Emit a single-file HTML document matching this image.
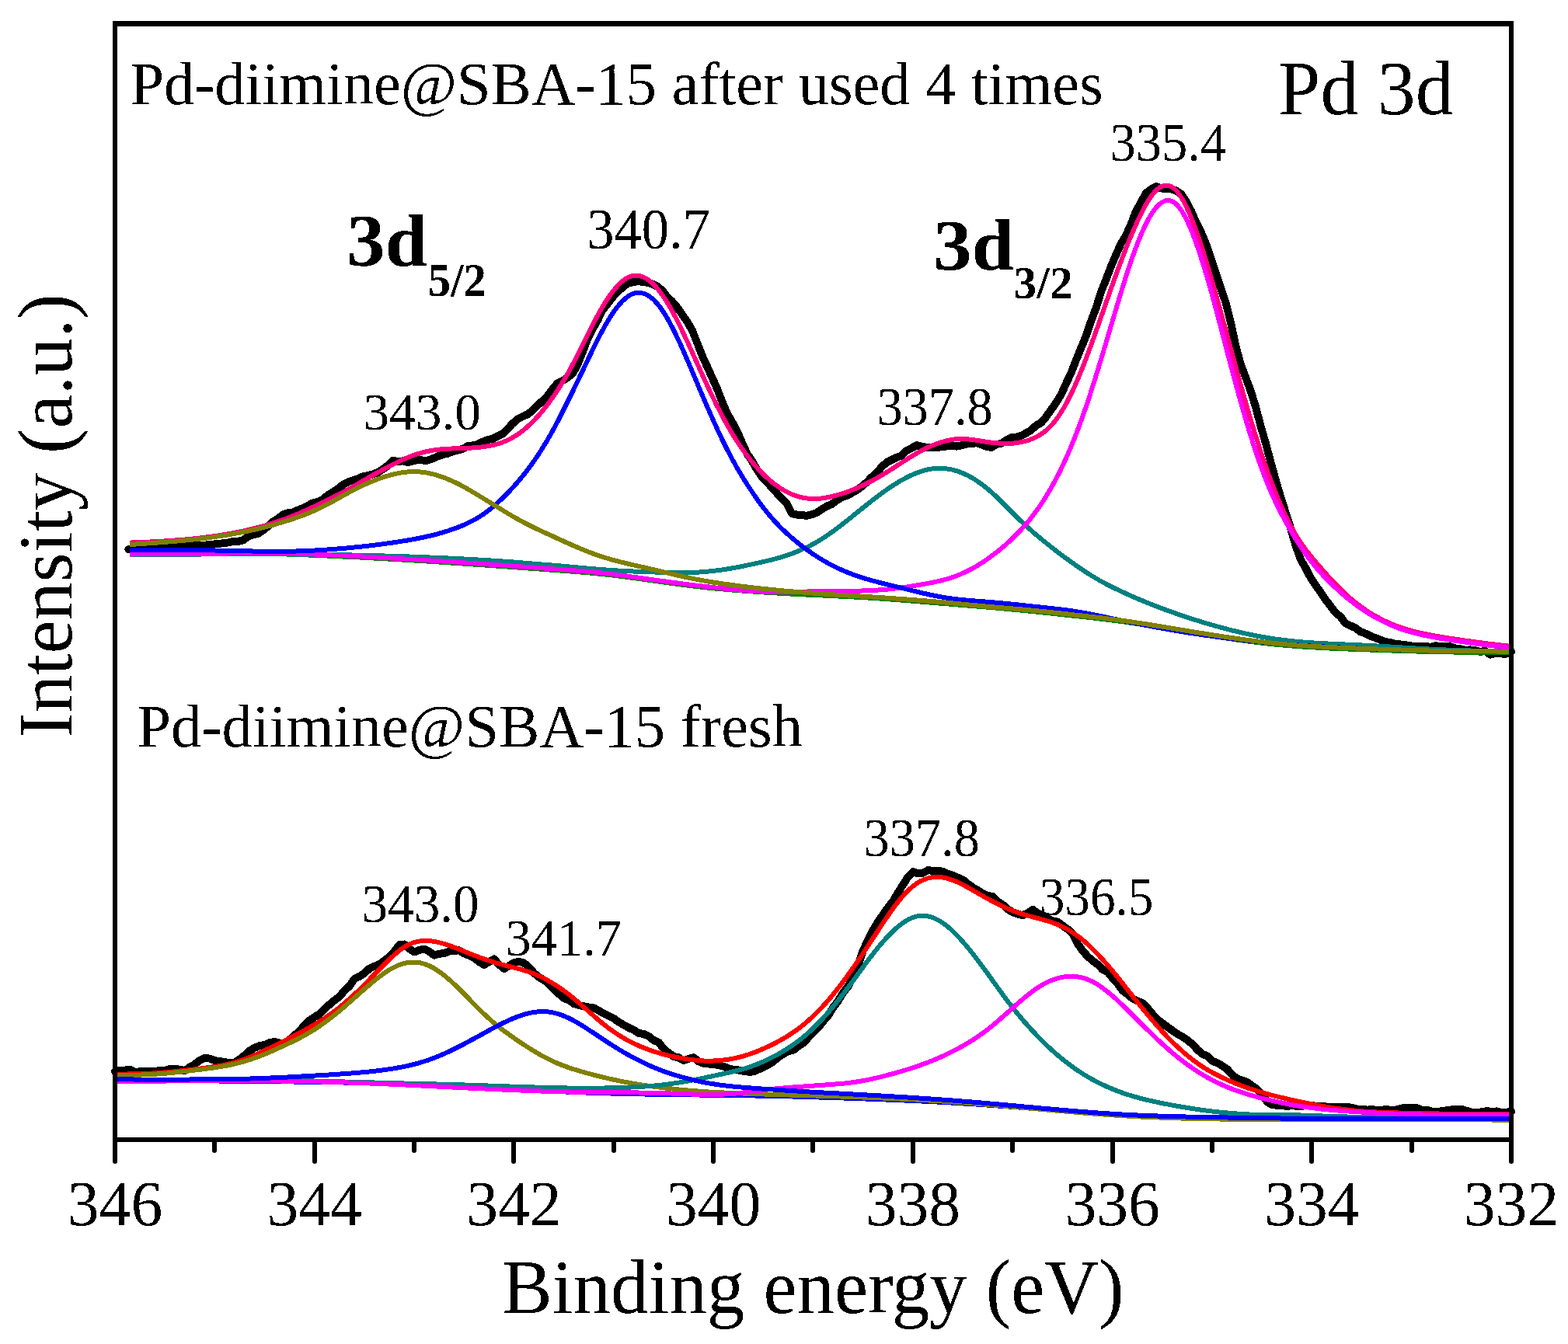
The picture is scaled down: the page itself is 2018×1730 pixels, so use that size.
<!DOCTYPE html>
<html><head><meta charset="utf-8"><title>Pd 3d XPS spectra</title>
<style>
html,body{margin:0;padding:0;background:#fff;}
body{width:2018px;height:1730px;overflow:hidden;}
svg{display:block;}
text{font-family:"Liberation Serif","Times New Roman",serif;fill:#000;}
</style></head><body>
<svg xmlns="http://www.w3.org/2000/svg" width="2018" height="1730" viewBox="0 0 2018 1730">
<defs><filter id="bin" x="0" y="0" width="1" height="1" filterUnits="objectBoundingBox" color-interpolation-filters="sRGB"><feComponentTransfer><feFuncA type="discrete" tableValues="0 1"/></feComponentTransfer></filter></defs>
<rect width="2018" height="1730" fill="#fff"/>
<g fill="none" stroke-linejoin="round" stroke-linecap="round" shape-rendering="crispEdges">
<polyline points="165.3,707.2 171.7,707.0 178.1,706.2 184.6,704.6 191.0,705.6 197.4,704.7 203.8,703.5 210.2,703.6 216.7,703.0 223.1,702.9 229.5,702.6 235.9,702.9 242.3,701.8 248.8,702.0 255.2,701.5 261.6,701.9 268.0,701.2 274.4,700.6 280.9,699.9 287.3,699.3 293.7,698.4 300.1,697.0 306.5,696.9 313.0,695.3 319.4,690.4 325.8,688.4 332.2,687.0 338.6,682.6 345.1,677.3 351.5,671.5 357.9,667.4 364.3,662.4 370.7,660.2 377.2,659.7 383.6,656.5 390.0,654.1 396.4,650.7 402.8,647.4 409.3,646.0 415.7,642.7 422.1,637.3 428.5,633.3 434.9,629.2 441.4,624.0 447.8,620.4 454.2,618.4 460.6,616.1 467.0,613.4 473.5,612.1 479.9,610.4 486.3,608.1 492.7,603.9 499.1,599.4 505.6,593.0 512.0,593.9 518.4,593.4 524.8,595.1 531.2,593.6 537.7,592.1 544.1,592.5 550.5,592.5 556.9,590.3 563.3,587.4 569.8,585.2 576.2,583.7 582.6,581.1 589.0,579.5 595.4,577.9 601.9,574.2 608.3,573.4 614.7,571.9 621.1,568.7 627.5,566.2 634.0,564.8 640.4,561.6 646.8,558.4 653.2,552.1 659.6,545.3 666.1,539.6 672.5,536.2 678.9,533.3 685.3,528.5 691.7,522.2 698.2,515.9 704.6,509.5 711.0,500.9 717.4,493.3 723.8,490.2 730.3,486.2 736.7,481.1 743.1,470.0 749.5,453.7 755.9,437.5 762.4,423.8 768.8,412.9 775.2,399.5 781.6,391.4 788.0,383.2 794.5,375.3 800.9,370.5 807.3,365.1 813.7,363.5 820.1,362.1 826.6,362.7 833.0,363.7 839.4,365.4 845.8,368.6 852.2,373.8 858.7,382.1 865.1,388.1 871.5,395.6 877.9,404.9 884.3,414.0 890.8,425.2 897.2,441.2 903.6,457.6 910.0,471.6 916.4,485.8 922.9,500.4 929.3,516.7 935.7,531.7 942.1,542.9 948.5,554.8 955.0,569.9 961.4,583.9 967.8,593.3 974.2,604.5 980.6,614.1 987.1,620.6 993.5,627.8 999.9,634.9 1006.3,641.8 1012.7,648.2 1019.2,661.2 1025.6,662.5 1032.0,663.1 1038.4,663.8 1044.8,662.2 1051.3,659.9 1057.7,655.5 1064.1,651.6 1070.5,649.1 1076.9,644.0 1083.4,640.2 1089.8,638.0 1096.2,634.6 1102.6,631.0 1109.0,626.2 1115.5,620.7 1121.9,614.1 1128.3,608.8 1134.7,600.9 1141.1,595.3 1147.6,591.9 1154.0,588.7 1160.4,586.5 1166.8,580.1 1173.2,576.8 1179.7,573.2 1186.1,574.8 1192.5,575.9 1198.9,575.9 1205.3,576.0 1211.8,575.2 1218.2,574.5 1224.6,573.8 1231.0,574.6 1237.4,573.4 1243.9,571.5 1250.3,570.9 1256.7,570.3 1263.1,572.3 1269.5,574.7 1276.0,576.0 1282.4,572.0 1288.8,570.8 1295.2,566.6 1301.6,563.3 1308.1,562.7 1314.5,560.8 1320.9,557.3 1327.3,553.5 1333.7,547.5 1340.2,544.0 1346.6,536.2 1353.0,527.1 1359.4,518.2 1365.8,507.4 1372.3,493.1 1378.7,479.6 1385.1,463.0 1391.5,447.5 1397.9,431.8 1404.4,412.7 1410.8,395.9 1417.2,375.3 1423.6,359.4 1430.0,342.6 1436.5,327.5 1442.9,313.2 1449.3,302.8 1455.7,288.2 1462.1,271.9 1468.6,260.0 1475.0,248.5 1481.4,243.7 1487.8,240.1 1494.2,242.3 1500.7,243.4 1507.1,243.3 1513.5,245.3 1519.9,249.5 1526.3,259.2 1532.8,271.2 1539.2,286.0 1545.6,298.5 1552.0,313.7 1558.4,332.0 1564.9,351.5 1571.3,371.2 1577.7,390.2 1584.1,415.9 1590.5,445.8 1597.0,469.6 1603.4,486.6 1609.8,503.4 1616.2,524.5 1622.6,548.7 1629.1,571.1 1635.5,595.2 1641.9,618.5 1648.3,640.0 1654.7,660.1 1661.2,680.5 1667.6,702.4 1674.0,720.3 1680.4,731.2 1686.8,743.9 1693.3,753.5 1699.7,762.4 1706.1,772.0 1712.5,780.4 1718.9,788.6 1725.4,794.0 1731.8,802.6 1738.2,805.4 1744.6,808.4 1751.0,813.2 1757.5,815.5 1763.9,818.8 1770.3,821.1 1776.7,823.7 1783.1,826.1 1789.6,827.0 1796.0,829.3 1802.4,829.5 1808.8,830.1 1815.2,831.3 1821.7,832.1 1828.1,832.0 1834.5,831.8 1840.9,833.0 1847.3,831.3 1853.8,831.8 1860.2,832.5 1866.6,832.4 1873.0,834.4 1879.4,835.2 1885.9,836.8 1892.3,836.4 1898.7,837.4 1905.1,838.9 1911.5,837.9 1918.0,842.6 1924.4,840.8 1930.8,841.4 1937.2,841.7 1943.6,840.2 1945.0,838.8" stroke="#000" stroke-width="10"/>
<polyline points="167.0,698.6 169.0,698.5 171.0,698.4 173.0,698.3 175.0,698.2 177.0,698.2 179.0,698.1 181.0,698.0 183.0,697.9 185.0,697.9 187.0,697.8 189.0,697.7 191.0,697.6 193.0,697.5 195.0,697.4 197.0,697.3 199.0,697.2 201.0,697.1 203.0,697.0 205.0,696.9 207.0,696.7 209.0,696.6 211.0,696.5 213.0,696.4 215.0,696.2 217.0,696.1 219.0,696.0 221.0,695.8 223.0,695.7 225.0,695.5 227.0,695.4 229.0,695.2 231.0,695.1 233.0,694.9 235.0,694.7 237.0,694.6 239.0,694.4 241.0,694.2 243.0,694.0 245.0,693.8 247.0,693.6 249.0,693.4 251.0,693.2 253.0,693.0 255.0,692.8 257.0,692.5 259.0,692.3 261.0,692.1 263.0,691.8 265.0,691.6 267.0,691.3 269.0,691.1 271.0,690.8 273.0,690.5 275.0,690.2 277.0,690.0 279.0,689.7 281.0,689.4 283.0,689.1 285.0,688.7 287.0,688.4 289.0,688.1 291.0,687.7 293.0,687.4 295.0,687.1 297.0,686.7 299.0,686.3 301.0,685.9 303.0,685.6 305.0,685.2 307.0,684.8 309.0,684.4 311.0,683.9 313.0,683.5 315.0,683.1 317.0,682.6 319.0,682.2 321.0,681.7 323.0,681.2 325.0,680.7 327.0,680.2 329.0,679.7 331.0,679.2 333.0,678.7 335.0,678.1 337.0,677.6 339.0,677.0 341.0,676.5 343.0,675.9 345.0,675.3 347.0,674.7 349.0,674.1 351.0,673.4 353.0,672.8 355.0,672.1 357.0,671.5 359.0,670.8 361.0,670.1 363.0,669.4 365.0,668.7 367.0,667.9 369.0,667.2 371.0,666.4 373.0,665.6 375.0,664.9 377.0,664.0 379.0,663.2 381.0,662.4 383.0,661.6 385.0,660.7 387.0,659.9 389.0,659.0 391.0,658.1 393.0,657.2 395.0,656.3 397.0,655.4 399.0,654.5 401.0,653.6 403.0,652.6 405.0,651.7 407.0,650.7 409.0,649.8 411.0,648.8 413.0,647.9 415.0,646.9 417.0,645.9 419.0,644.9 421.0,644.0 423.0,643.0 425.0,642.0 427.0,641.0 429.0,640.0 431.0,638.9 433.0,637.9 435.0,636.9 437.0,635.8 439.0,634.8 441.0,633.7 443.0,632.7 445.0,631.6 447.0,630.5 449.0,629.4 451.0,628.3 453.0,627.2 455.0,626.1 457.0,624.9 459.0,623.8 461.0,622.6 463.0,621.5 465.0,620.3 467.0,619.1 469.0,618.0 471.0,616.8 473.0,615.6 475.0,614.5 477.0,613.3 479.0,612.2 481.0,611.1 483.0,610.0 485.0,608.8 487.0,607.7 489.0,606.7 491.0,605.6 493.0,604.5 495.0,603.4 497.0,602.4 499.0,601.3 501.0,600.3 503.0,599.2 505.0,598.2 507.0,597.2 509.0,596.2 511.0,595.2 513.0,594.2 515.0,593.3 517.0,592.3 519.0,591.4 521.0,590.5 523.0,589.7 525.0,588.8 527.0,588.0 529.0,587.2 531.0,586.5 533.0,585.8 535.0,585.1 537.0,584.5 539.0,583.8 541.0,583.3 543.0,582.7 545.0,582.2 547.0,581.7 549.0,581.2 551.0,580.8 553.0,580.4 555.0,580.1 557.0,579.7 559.0,579.4 561.0,579.1 563.0,578.9 565.0,578.6 567.0,578.4 569.0,578.2 571.0,578.1 573.0,577.9 575.0,577.8 577.0,577.7 579.0,577.6 581.0,577.5 583.0,577.4 585.0,577.3 587.0,577.2 589.0,577.2 591.0,577.1 593.0,577.1 595.0,577.0 597.0,576.9 599.0,576.8 601.0,576.8 603.0,576.7 605.0,576.6 607.0,576.5 609.0,576.3 611.0,576.2 613.0,576.0 615.0,575.9 617.0,575.7 619.0,575.5 621.0,575.2 623.0,575.0 625.0,574.7 627.0,574.4 629.0,574.1 631.0,573.7 633.0,573.3 635.0,572.8 637.0,572.3 639.0,571.8 641.0,571.2 643.0,570.6 645.0,569.9 647.0,569.2 649.0,568.4 651.0,567.6 653.0,566.7 655.0,565.8 657.0,564.7 659.0,563.7 661.0,562.5 663.0,561.3 665.0,560.0 667.0,558.7 669.0,557.2 671.0,555.8 673.0,554.2 675.0,552.6 677.0,550.9 679.0,549.1 681.0,547.3 683.0,545.4 685.0,543.4 687.0,541.4 689.0,539.3 691.0,537.2 693.0,535.0 695.0,532.7 697.0,530.3 699.0,527.9 701.0,525.4 703.0,522.9 705.0,520.3 707.0,517.6 709.0,514.8 711.0,512.0 713.0,509.2 715.0,506.2 717.0,503.2 719.0,500.1 721.0,497.0 723.0,493.8 725.0,490.5 727.0,487.1 729.0,483.7 731.0,480.2 733.0,476.6 735.0,472.9 737.0,469.2 739.0,465.3 741.0,461.4 743.0,457.5 745.0,453.5 747.0,449.5 749.0,445.5 751.0,441.4 753.0,437.4 755.0,433.3 757.0,429.3 759.0,425.3 761.0,421.4 763.0,417.5 765.0,413.7 767.0,409.9 769.0,406.2 771.0,402.6 773.0,399.1 775.0,395.6 777.0,392.3 779.0,389.1 781.0,385.9 783.0,382.9 785.0,380.1 787.0,377.3 789.0,374.7 791.0,372.2 793.0,369.9 795.0,367.7 797.0,365.6 799.0,363.7 801.0,362.0 803.0,360.4 805.0,359.0 807.0,357.8 809.0,356.7 811.0,355.9 813.0,355.2 815.0,354.8 817.0,354.5 819.0,354.5 821.0,354.6 823.0,355.0 825.0,355.5 827.0,356.2 829.0,357.1 831.0,358.2 833.0,359.4 835.0,360.8 837.0,362.4 839.0,364.1 841.0,366.0 843.0,368.1 845.0,370.3 847.0,372.7 849.0,375.2 851.0,377.9 853.0,380.7 855.0,383.7 857.0,386.7 859.0,390.0 861.0,393.3 863.0,396.8 865.0,400.3 867.0,404.0 869.0,407.8 871.0,411.6 873.0,415.6 875.0,419.6 877.0,423.7 879.0,427.9 881.0,432.1 883.0,436.4 885.0,440.7 887.0,445.1 889.0,449.5 891.0,453.9 893.0,458.3 895.0,462.8 897.0,467.2 899.0,471.7 901.0,476.1 903.0,480.6 905.0,484.9 907.0,489.3 909.0,493.6 911.0,497.9 913.0,502.2 915.0,506.4 917.0,510.6 919.0,514.7 921.0,518.8 923.0,522.8 925.0,526.7 927.0,530.6 929.0,534.4 931.0,538.2 933.0,541.9 935.0,545.5 937.0,549.1 939.0,552.5 941.0,556.0 943.0,559.3 945.0,562.5 947.0,565.7 949.0,568.8 951.0,571.8 953.0,574.8 955.0,577.6 957.0,580.4 959.0,583.2 961.0,585.8 963.0,588.4 965.0,591.0 967.0,593.4 969.0,595.9 971.0,598.2 973.0,600.5 975.0,602.7 977.0,604.9 979.0,607.0 981.0,609.1 983.0,611.0 985.0,613.0 987.0,614.8 989.0,616.6 991.0,618.4 993.0,620.0 995.0,621.7 997.0,623.2 999.0,624.7 1001.0,626.1 1003.0,627.5 1005.0,628.8 1007.0,630.0 1009.0,631.2 1011.0,632.3 1013.0,633.4 1015.0,634.4 1017.0,635.3 1019.0,636.2 1021.0,637.0 1023.0,637.8 1025.0,638.4 1027.0,639.1 1029.0,639.6 1031.0,640.1 1033.0,640.6 1035.0,641.0 1037.0,641.3 1039.0,641.5 1041.0,641.7 1043.0,641.9 1045.0,642.0 1047.0,642.0 1049.0,642.0 1051.0,641.9 1053.0,641.8 1055.0,641.7 1057.0,641.5 1059.0,641.2 1061.0,640.9 1063.0,640.6 1065.0,640.2 1067.0,639.8 1069.0,639.4 1071.0,638.9 1073.0,638.4 1075.0,637.9 1077.0,637.4 1079.0,636.8 1081.0,636.2 1083.0,635.6 1085.0,635.0 1087.0,634.3 1089.0,633.6 1091.0,632.9 1093.0,632.2 1095.0,631.4 1097.0,630.6 1099.0,629.8 1101.0,629.0 1103.0,628.1 1105.0,627.3 1107.0,626.4 1109.0,625.4 1111.0,624.5 1113.0,623.6 1115.0,622.6 1117.0,621.6 1119.0,620.6 1121.0,619.5 1123.0,618.5 1125.0,617.4 1127.0,616.3 1129.0,615.2 1131.0,614.0 1133.0,612.9 1135.0,611.7 1137.0,610.5 1139.0,609.3 1141.0,608.1 1143.0,606.8 1145.0,605.5 1147.0,604.3 1149.0,603.0 1151.0,601.7 1153.0,600.4 1155.0,599.1 1157.0,597.8 1159.0,596.5 1161.0,595.2 1163.0,593.9 1165.0,592.6 1167.0,591.3 1169.0,590.1 1171.0,588.8 1173.0,587.6 1175.0,586.4 1177.0,585.2 1179.0,584.0 1181.0,582.8 1183.0,581.7 1185.0,580.6 1187.0,579.5 1189.0,578.5 1191.0,577.5 1193.0,576.5 1195.0,575.6 1197.0,574.7 1199.0,573.8 1201.0,572.9 1203.0,572.2 1205.0,571.4 1207.0,570.7 1209.0,570.0 1211.0,569.4 1213.0,568.8 1215.0,568.2 1217.0,567.7 1219.0,567.2 1221.0,566.8 1223.0,566.3 1225.0,566.0 1227.0,565.7 1229.0,565.4 1231.0,565.2 1233.0,565.1 1235.0,565.0 1237.0,565.0 1239.0,565.0 1241.0,565.1 1243.0,565.2 1245.0,565.3 1247.0,565.5 1249.0,565.7 1251.0,565.9 1253.0,566.2 1255.0,566.5 1257.0,566.8 1259.0,567.1 1261.0,567.4 1263.0,567.7 1265.0,568.0 1267.0,568.4 1269.0,568.7 1271.0,569.0 1273.0,569.3 1275.0,569.5 1277.0,569.8 1279.0,570.0 1281.0,570.2 1283.0,570.4 1285.0,570.5 1287.0,570.7 1289.0,570.8 1291.0,570.8 1293.0,570.9 1295.0,570.9 1297.0,570.9 1299.0,570.8 1301.0,570.7 1303.0,570.6 1305.0,570.5 1307.0,570.3 1309.0,570.0 1311.0,569.7 1313.0,569.4 1315.0,569.0 1317.0,568.5 1319.0,568.0 1321.0,567.5 1323.0,566.9 1325.0,566.2 1327.0,565.5 1329.0,564.7 1331.0,563.8 1333.0,562.8 1335.0,561.8 1337.0,560.7 1339.0,559.4 1341.0,558.1 1343.0,556.7 1345.0,555.1 1347.0,553.4 1349.0,551.6 1351.0,549.6 1353.0,547.6 1355.0,545.3 1357.0,542.9 1359.0,540.4 1361.0,537.6 1363.0,534.8 1365.0,531.7 1367.0,528.5 1369.0,525.2 1371.0,521.6 1373.0,518.0 1375.0,514.1 1377.0,510.2 1379.0,506.0 1381.0,501.8 1383.0,497.4 1385.0,492.9 1387.0,488.2 1389.0,483.5 1391.0,478.7 1393.0,473.7 1395.0,468.7 1397.0,463.5 1399.0,458.3 1401.0,453.0 1403.0,447.6 1405.0,442.1 1407.0,436.6 1409.0,431.0 1411.0,425.4 1413.0,419.8 1415.0,414.1 1417.0,408.4 1419.0,402.6 1421.0,396.9 1423.0,391.2 1425.0,385.5 1427.0,379.8 1429.0,374.2 1431.0,368.5 1433.0,362.9 1435.0,357.4 1437.0,351.9 1439.0,346.4 1441.0,341.1 1443.0,335.7 1445.0,330.5 1447.0,325.3 1449.0,320.2 1451.0,315.1 1453.0,310.2 1455.0,305.3 1457.0,300.5 1459.0,295.9 1461.0,291.3 1463.0,286.9 1465.0,282.5 1467.0,278.3 1469.0,274.3 1471.0,270.3 1473.0,266.6 1475.0,263.0 1477.0,259.6 1479.0,256.4 1481.0,253.5 1483.0,250.7 1485.0,248.3 1487.0,246.1 1489.0,244.1 1491.0,242.5 1493.0,241.1 1495.0,240.0 1497.0,239.2 1499.0,238.7 1501.0,238.6 1503.0,238.7 1505.0,239.2 1507.0,240.0 1509.0,241.1 1511.0,242.7 1513.0,244.5 1515.0,246.7 1517.0,249.3 1519.0,252.2 1521.0,255.3 1523.0,258.8 1525.0,262.6 1527.0,266.6 1529.0,270.9 1531.0,275.4 1533.0,280.2 1535.0,285.2 1537.0,290.4 1539.0,295.8 1541.0,301.4 1543.0,307.2 1545.0,313.1 1547.0,319.2 1549.0,325.5 1551.0,331.9 1553.0,338.4 1555.0,345.0 1557.0,351.7 1559.0,358.5 1561.0,365.5 1563.0,372.5 1565.0,379.5 1567.0,386.7 1569.0,393.9 1571.0,401.1 1573.0,408.4 1575.0,415.7 1577.0,423.0 1579.0,430.4 1581.0,437.8 1583.0,445.2 1585.0,452.6 1587.0,459.9 1589.0,467.3 1591.0,474.6 1593.0,481.9 1595.0,489.1 1597.0,496.3 1599.0,503.4 1601.0,510.4 1603.0,517.4 1605.0,524.4 1607.0,531.2 1609.0,538.0 1611.0,544.6 1613.0,551.2 1615.0,557.7 1617.0,564.1 1619.0,570.4 1621.0,576.6 1623.0,582.7 1625.0,588.7 1627.0,594.6 1629.0,600.4 1631.0,606.0 1633.0,611.6 1635.0,617.0 1637.0,622.3 1639.0,627.5 1641.0,632.6 1643.0,637.5 1645.0,642.4 1647.0,647.1 1649.0,651.6 1651.0,656.1 1653.0,660.4 1655.0,664.6 1657.0,668.7 1659.0,672.7 1661.0,676.5 1663.0,680.2 1665.0,683.8 1667.0,687.2 1669.0,690.6 1671.0,693.8 1673.0,696.9 1675.0,699.8 1677.0,702.7 1679.0,705.5 1681.0,708.2 1683.0,710.9 1685.0,713.4 1687.0,715.9 1689.0,718.4 1691.0,720.8 1693.0,723.1 1695.0,725.5 1697.0,727.8 1699.0,730.0 1701.0,732.3 1703.0,734.6 1705.0,736.8 1707.0,739.1 1709.0,741.3 1711.0,743.5 1713.0,745.7 1715.0,747.8 1717.0,750.0 1719.0,752.1 1721.0,754.1 1723.0,756.2 1725.0,758.2 1727.0,760.2 1729.0,762.1 1731.0,764.0 1733.0,765.8 1735.0,767.6 1737.0,769.4 1739.0,771.1 1741.0,772.8 1743.0,774.4 1745.0,776.0 1747.0,777.6 1749.0,779.1 1751.0,780.6 1753.0,782.0 1755.0,783.4 1757.0,784.8 1759.0,786.2 1761.0,787.5 1763.0,788.7 1765.0,790.0 1767.0,791.2 1769.0,792.3 1771.0,793.5 1773.0,794.6 1775.0,795.6 1777.0,796.7 1779.0,797.7 1781.0,798.7 1783.0,799.6 1785.0,800.6 1787.0,801.5 1789.0,802.3 1791.0,803.2 1793.0,804.0 1795.0,804.8 1797.0,805.6 1799.0,806.3 1801.0,807.0 1803.0,807.7 1805.0,808.4 1807.0,809.1 1809.0,809.7 1811.0,810.3 1813.0,810.9 1815.0,811.4 1817.0,812.0 1819.0,812.5 1821.0,813.0 1823.0,813.5 1825.0,814.0 1827.0,814.5 1829.0,814.9 1831.0,815.4 1833.0,815.8 1835.0,816.2 1837.0,816.6 1839.0,817.0 1841.0,817.4 1843.0,817.8 1845.0,818.2 1847.0,818.5 1849.0,818.9 1851.0,819.2 1853.0,819.5 1855.0,819.9 1857.0,820.2 1859.0,820.5 1861.0,820.9 1863.0,821.2 1865.0,821.5 1867.0,821.8 1869.0,822.1 1871.0,822.4 1873.0,822.7 1875.0,823.0 1877.0,823.3 1879.0,823.6 1881.0,823.9 1883.0,824.2 1885.0,824.5 1887.0,824.7 1889.0,825.0 1891.0,825.3 1893.0,825.6 1895.0,825.8 1897.0,826.1 1899.0,826.4 1901.0,826.7 1903.0,826.9 1905.0,827.2 1907.0,827.4 1909.0,827.7 1911.0,828.0 1913.0,828.2 1915.0,828.5 1917.0,828.7 1919.0,829.0 1921.0,829.2 1923.0,829.4 1925.0,829.7 1927.0,829.9 1929.0,830.2 1931.0,830.4 1933.0,830.6 1935.0,830.9 1937.0,831.1 1939.0,831.3 1941.0,831.5 1943.0,831.8 1945.0,832.0" stroke="#FF0080" stroke-width="6" stroke-linecap="butt"/>
<polyline points="167.0,709.0 169.0,709.0 171.0,709.1 173.0,709.1 175.0,709.1 177.0,709.2 179.0,709.2 181.0,709.2 183.0,709.2 185.0,709.3 187.0,709.3 189.0,709.3 191.0,709.4 193.0,709.4 195.0,709.4 197.0,709.5 199.0,709.5 201.0,709.5 203.0,709.6 205.0,709.6 207.0,709.6 209.0,709.7 211.0,709.7 213.0,709.7 215.0,709.8 217.0,709.8 219.0,709.8 221.0,709.9 223.0,709.9 225.0,709.9 227.0,710.0 229.0,710.0 231.0,710.0 233.0,710.1 235.0,710.1 237.0,710.1 239.0,710.2 241.0,710.2 243.0,710.3 245.0,710.3 247.0,710.3 249.0,710.4 251.0,710.4 253.0,710.4 255.0,710.5 257.0,710.5 259.0,710.6 261.0,710.6 263.0,710.6 265.0,710.7 267.0,710.7 269.0,710.8 271.0,710.8 273.0,710.8 275.0,710.9 277.0,710.9 279.0,711.0 281.0,711.0 283.0,711.1 285.0,711.1 287.0,711.2 289.0,711.2 291.0,711.2 293.0,711.3 295.0,711.3 297.0,711.4 299.0,711.4 301.0,711.5 303.0,711.5 305.0,711.6 307.0,711.6 309.0,711.7 311.0,711.7 313.0,711.8 315.0,711.8 317.0,711.9 319.0,711.9 321.0,712.0 323.0,712.0 325.0,712.1 327.0,712.2 329.0,712.2 331.0,712.3 333.0,712.3 335.0,712.4 337.0,712.4 339.0,712.5 341.0,712.6 343.0,712.6 345.0,712.7 347.0,712.7 349.0,712.8 351.0,712.9 353.0,712.9 355.0,713.0 357.0,713.1 359.0,713.1 361.0,713.2 363.0,713.3 365.0,713.3 367.0,713.4 369.0,713.5 371.0,713.5 373.0,713.6 375.0,713.7 377.0,713.8 379.0,713.8 381.0,713.9 383.0,714.0 385.0,714.1 387.0,714.1 389.0,714.2 391.0,714.3 393.0,714.4 395.0,714.4 397.0,714.5 399.0,714.6 401.0,714.7 403.0,714.8 405.0,714.8 407.0,714.9 409.0,715.0 411.0,715.1 413.0,715.2 415.0,715.3 417.0,715.4 419.0,715.4 421.0,715.5 423.0,715.6 425.0,715.7 427.0,715.8 429.0,715.9 431.0,716.0 433.0,716.1 435.0,716.2 437.0,716.3 439.0,716.4 441.0,716.5 443.0,716.6 445.0,716.6 447.0,716.7 449.0,716.8 451.0,716.9 453.0,717.0 455.0,717.1 457.0,717.2 459.0,717.3 461.0,717.4 463.0,717.5 465.0,717.7 467.0,717.8 469.0,717.9 471.0,718.0 473.0,718.1 475.0,718.2 477.0,718.3 479.0,718.4 481.0,718.5 483.0,718.6 485.0,718.7 487.0,718.8 489.0,718.9 491.0,719.0 493.0,719.2 495.0,719.3 497.0,719.4 499.0,719.5 501.0,719.6 503.0,719.7 505.0,719.8 507.0,720.0 509.0,720.1 511.0,720.2 513.0,720.3 515.0,720.4 517.0,720.5 519.0,720.7 521.0,720.8 523.0,720.9 525.0,721.0 527.0,721.1 529.0,721.3 531.0,721.4 533.0,721.5 535.0,721.6 537.0,721.7 539.0,721.9 541.0,722.0 543.0,722.1 545.0,722.2 547.0,722.4 549.0,722.5 551.0,722.6 553.0,722.7 555.0,722.9 557.0,723.0 559.0,723.1 561.0,723.3 563.0,723.4 565.0,723.5 567.0,723.6 569.0,723.8 571.0,723.9 573.0,724.0 575.0,724.2 577.0,724.3 579.0,724.4 581.0,724.6 583.0,724.7 585.0,724.8 587.0,725.0 589.0,725.1 591.0,725.2 593.0,725.4 595.0,725.5 597.0,725.6 599.0,725.8 601.0,725.9 603.0,726.0 605.0,726.2 607.0,726.3 609.0,726.5 611.0,726.6 613.0,726.7 615.0,726.9 617.0,727.0 619.0,727.1 621.0,727.3 623.0,727.4 625.0,727.6 627.0,727.7 629.0,727.8 631.0,728.0 633.0,728.1 635.0,728.3 637.0,728.4 639.0,728.6 641.0,728.7 643.0,728.8 645.0,729.0 647.0,729.1 649.0,729.3 651.0,729.4 653.0,729.5 655.0,729.7 657.0,729.8 659.0,730.0 661.0,730.1 663.0,730.3 665.0,730.4 667.0,730.6 669.0,730.7 671.0,730.8 673.0,731.0 675.0,731.1 677.0,731.3 679.0,731.4 681.0,731.6 683.0,731.7 685.0,731.9 687.0,732.0 689.0,732.2 691.0,732.3 693.0,732.4 695.0,732.6 697.0,732.7 699.0,732.9 701.0,733.0 703.0,733.2 705.0,733.3 707.0,733.5 709.0,733.6 711.0,733.8 713.0,733.9 715.0,734.1 717.0,734.2 719.0,734.4 721.0,734.5 723.0,734.7 725.0,734.8 727.0,735.0 729.0,735.1 731.0,735.3 733.0,735.4 735.0,735.6 737.0,735.7 739.0,735.9 741.0,736.0 743.0,736.2 745.0,736.3 747.0,736.5 749.0,736.7 751.0,736.8 753.0,737.0 755.0,737.2 757.0,737.4 759.0,737.5 761.0,737.7 763.0,737.9 765.0,738.1 767.0,738.3 769.0,738.5 771.0,738.7 773.0,738.9 775.0,739.1 777.0,739.3 779.0,739.5 781.0,739.7 783.0,739.9 785.0,740.2 787.0,740.4 789.0,740.6 791.0,740.9 793.0,741.1 795.0,741.4 797.0,741.6 799.0,741.9 801.0,742.1 803.0,742.4 805.0,742.6 807.0,742.9 809.0,743.2 811.0,743.4 813.0,743.7 815.0,744.0 817.0,744.2 819.0,744.5 821.0,744.8 823.0,745.1 825.0,745.3 827.0,745.6 829.0,745.9 831.0,746.2 833.0,746.5 835.0,746.8 837.0,747.0 839.0,747.3 841.0,747.6 843.0,747.9 845.0,748.2 847.0,748.5 849.0,748.8 851.0,749.0 853.0,749.3 855.0,749.6 857.0,749.9 859.0,750.2 861.0,750.4 863.0,750.7 865.0,751.0 867.0,751.3 869.0,751.5 871.0,751.8 873.0,752.1 875.0,752.3 877.0,752.6 879.0,752.9 881.0,753.1 883.0,753.4 885.0,753.6 887.0,753.9 889.0,754.1 891.0,754.4 893.0,754.6 895.0,754.8 897.0,755.1 899.0,755.3 901.0,755.5 903.0,755.8 905.0,756.0 907.0,756.2 909.0,756.4 911.0,756.6 913.0,756.8 915.0,757.0 917.0,757.2 919.0,757.4 921.0,757.6 923.0,757.8 925.0,758.0 927.0,758.2 929.0,758.4 931.0,758.5 933.0,758.7 935.0,758.9 937.0,759.1 939.0,759.2 941.0,759.4 943.0,759.6 945.0,759.7 947.0,759.9 949.0,760.1 951.0,760.2 953.0,760.4 955.0,760.5 957.0,760.7 959.0,760.8 961.0,761.0 963.0,761.1 965.0,761.3 967.0,761.4 969.0,761.5 971.0,761.7 973.0,761.8 975.0,762.0 977.0,762.1 979.0,762.2 981.0,762.3 983.0,762.5 985.0,762.6 987.0,762.7 989.0,762.9 991.0,763.0 993.0,763.1 995.0,763.2 997.0,763.3 999.0,763.4 1001.0,763.6 1003.0,763.7 1005.0,763.8 1007.0,763.9 1009.0,764.0 1011.0,764.1 1013.0,764.2 1015.0,764.3 1017.0,764.5 1019.0,764.6 1021.0,764.7 1023.0,764.8 1025.0,764.9 1027.0,765.0 1029.0,765.1 1031.0,765.2 1033.0,765.3 1035.0,765.4 1037.0,765.5 1039.0,765.6 1041.0,765.7 1043.0,765.8 1045.0,765.9 1047.0,766.0 1049.0,766.1 1051.0,766.2 1053.0,766.3 1055.0,766.3 1057.0,766.4 1059.0,766.5 1061.0,766.6 1063.0,766.7 1065.0,766.8 1067.0,766.9 1069.0,767.0 1071.0,767.1 1073.0,767.2 1075.0,767.3 1077.0,767.4 1079.0,767.5 1081.0,767.6 1083.0,767.7 1085.0,767.8 1087.0,767.9 1089.0,768.0 1091.0,768.1 1093.0,768.2 1095.0,768.3 1097.0,768.4 1099.0,768.5 1101.0,768.6 1103.0,768.7 1105.0,768.8 1107.0,768.9 1109.0,769.0 1111.0,769.2 1113.0,769.3 1115.0,769.4 1117.0,769.5 1119.0,769.7 1121.0,769.8 1123.0,769.9 1125.0,770.0 1127.0,770.2 1129.0,770.3 1131.0,770.4 1133.0,770.6 1135.0,770.7 1137.0,770.9 1139.0,771.0 1141.0,771.2 1143.0,771.3 1145.0,771.4 1147.0,771.6 1149.0,771.7 1151.0,771.9 1153.0,772.0 1155.0,772.2 1157.0,772.3 1159.0,772.5 1161.0,772.7 1163.0,772.8 1165.0,773.0 1167.0,773.1 1169.0,773.3 1171.0,773.4 1173.0,773.6 1175.0,773.8 1177.0,773.9 1179.0,774.1 1181.0,774.2 1183.0,774.4 1185.0,774.6 1187.0,774.7 1189.0,774.9 1191.0,775.1 1193.0,775.2 1195.0,775.4 1197.0,775.6 1199.0,775.7 1201.0,775.9 1203.0,776.1 1205.0,776.2 1207.0,776.4 1209.0,776.6 1211.0,776.7 1213.0,776.9 1215.0,777.1 1217.0,777.2 1219.0,777.4 1221.0,777.5 1223.0,777.7 1225.0,777.9 1227.0,778.0 1229.0,778.2 1231.0,778.4 1233.0,778.5 1235.0,778.7 1237.0,778.9 1239.0,779.0 1241.0,779.2 1243.0,779.4 1245.0,779.5 1247.0,779.7 1249.0,779.8 1251.0,780.0 1253.0,780.2 1255.0,780.3 1257.0,780.5 1259.0,780.7 1261.0,780.8 1263.0,781.0 1265.0,781.2 1267.0,781.3 1269.0,781.5 1271.0,781.7 1273.0,781.9 1275.0,782.0 1277.0,782.2 1279.0,782.4 1281.0,782.5 1283.0,782.7 1285.0,782.9 1287.0,783.1 1289.0,783.3 1291.0,783.4 1293.0,783.6 1295.0,783.8 1297.0,784.0 1299.0,784.2 1301.0,784.4 1303.0,784.6 1305.0,784.7 1307.0,784.9 1309.0,785.1 1311.0,785.3 1313.0,785.5 1315.0,785.7 1317.0,785.9 1319.0,786.1 1321.0,786.3 1323.0,786.5 1325.0,786.7 1327.0,786.9 1329.0,787.1 1331.0,787.3 1333.0,787.5 1335.0,787.7 1337.0,787.9 1339.0,788.2 1341.0,788.4 1343.0,788.6 1345.0,788.8 1347.0,789.0 1349.0,789.2 1351.0,789.4 1353.0,789.6 1355.0,789.9 1357.0,790.1 1359.0,790.3 1361.0,790.5 1363.0,790.7 1365.0,790.9 1367.0,791.1 1369.0,791.4 1371.0,791.6 1373.0,791.8 1375.0,792.0 1377.0,792.2 1379.0,792.4 1381.0,792.7 1383.0,792.9 1385.0,793.1 1387.0,793.3 1389.0,793.5 1391.0,793.8 1393.0,794.0 1395.0,794.2 1397.0,794.4 1399.0,794.6 1401.0,794.9 1403.0,795.1 1405.0,795.3 1407.0,795.5 1409.0,795.8 1411.0,796.0 1413.0,796.2 1415.0,796.5 1417.0,796.7 1419.0,796.9 1421.0,797.2 1423.0,797.4 1425.0,797.7 1427.0,797.9 1429.0,798.2 1431.0,798.4 1433.0,798.7 1435.0,798.9 1437.0,799.2 1439.0,799.4 1441.0,799.7 1443.0,800.0 1445.0,800.3 1447.0,800.5 1449.0,800.8 1451.0,801.1 1453.0,801.4 1455.0,801.7 1457.0,802.0 1459.0,802.3 1461.0,802.6 1463.0,802.9 1465.0,803.2 1467.0,803.5 1469.0,803.8 1471.0,804.1 1473.0,804.4 1475.0,804.7 1477.0,805.1 1479.0,805.4 1481.0,805.7 1483.0,806.0 1485.0,806.3 1487.0,806.7 1489.0,807.0 1491.0,807.3 1493.0,807.6 1495.0,808.0 1497.0,808.3 1499.0,808.6 1501.0,809.0 1503.0,809.3 1505.0,809.6 1507.0,809.9 1509.0,810.3 1511.0,810.6 1513.0,810.9 1515.0,811.3 1517.0,811.6 1519.0,811.9 1521.0,812.3 1523.0,812.6 1525.0,812.9 1527.0,813.3 1529.0,813.6 1531.0,813.9 1533.0,814.3 1535.0,814.6 1537.0,814.9 1539.0,815.3 1541.0,815.6 1543.0,815.9 1545.0,816.2 1547.0,816.6 1549.0,816.9 1551.0,817.2 1553.0,817.5 1555.0,817.9 1557.0,818.2 1559.0,818.5 1561.0,818.8 1563.0,819.1 1565.0,819.5 1567.0,819.8 1569.0,820.1 1571.0,820.4 1573.0,820.7 1575.0,821.0 1577.0,821.3 1579.0,821.6 1581.0,821.9 1583.0,822.2 1585.0,822.5 1587.0,822.8 1589.0,823.1 1591.0,823.4 1593.0,823.7 1595.0,823.9 1597.0,824.2 1599.0,824.5 1601.0,824.8 1603.0,825.0 1605.0,825.3 1607.0,825.6 1609.0,825.8 1611.0,826.1 1613.0,826.3 1615.0,826.6 1617.0,826.8 1619.0,827.1 1621.0,827.3 1623.0,827.6 1625.0,827.8 1627.0,828.0 1629.0,828.3 1631.0,828.5 1633.0,828.7 1635.0,828.9 1637.0,829.1 1639.0,829.3 1641.0,829.6 1643.0,829.8 1645.0,829.9 1647.0,830.1 1649.0,830.3 1651.0,830.5 1653.0,830.7 1655.0,830.9 1657.0,831.0 1659.0,831.2 1661.0,831.4 1663.0,831.5 1665.0,831.7 1667.0,831.8 1669.0,832.0 1671.0,832.1 1673.0,832.3 1675.0,832.4 1677.0,832.6 1679.0,832.7 1681.0,832.8 1683.0,832.9 1685.0,833.1 1687.0,833.2 1689.0,833.3 1691.0,833.4 1693.0,833.5 1695.0,833.7 1697.0,833.8 1699.0,833.9 1701.0,834.0 1703.0,834.1 1705.0,834.2 1707.0,834.3 1709.0,834.4 1711.0,834.5 1713.0,834.6 1715.0,834.7 1717.0,834.7 1719.0,834.8 1721.0,834.9 1723.0,835.0 1725.0,835.1 1727.0,835.2 1729.0,835.2 1731.0,835.3 1733.0,835.4 1735.0,835.5 1737.0,835.6 1739.0,835.6 1741.0,835.7 1743.0,835.8 1745.0,835.9 1747.0,835.9 1749.0,836.0 1751.0,836.1 1753.0,836.2 1755.0,836.2 1757.0,836.3 1759.0,836.4 1761.0,836.4 1763.0,836.5 1765.0,836.6 1767.0,836.7 1769.0,836.7 1771.0,836.8 1773.0,836.9 1775.0,836.9 1777.0,837.0 1779.0,837.1 1781.0,837.2 1783.0,837.2 1785.0,837.3 1787.0,837.4 1789.0,837.4 1791.0,837.5 1793.0,837.6 1795.0,837.6 1797.0,837.7 1799.0,837.7 1801.0,837.8 1803.0,837.9 1805.0,837.9 1807.0,838.0 1809.0,838.1 1811.0,838.1 1813.0,838.2 1815.0,838.2 1817.0,838.3 1819.0,838.3 1821.0,838.4 1823.0,838.5 1825.0,838.5 1827.0,838.6 1829.0,838.6 1831.0,838.7 1833.0,838.7 1835.0,838.8 1837.0,838.8 1839.0,838.9 1841.0,838.9 1843.0,838.9 1845.0,839.0 1847.0,839.0 1849.0,839.1 1851.0,839.1 1853.0,839.2 1855.0,839.2 1857.0,839.2 1859.0,839.3 1861.0,839.3 1863.0,839.3 1865.0,839.4 1867.0,839.4 1869.0,839.4 1871.0,839.5 1873.0,839.5 1875.0,839.5 1877.0,839.5 1879.0,839.6 1881.0,839.6 1883.0,839.6 1885.0,839.6 1887.0,839.6 1889.0,839.7 1891.0,839.7 1893.0,839.7 1895.0,839.7 1897.0,839.7 1899.0,839.8 1901.0,839.8 1903.0,839.8 1905.0,839.8 1907.0,839.8 1909.0,839.8 1911.0,839.8 1913.0,839.9 1915.0,839.9 1917.0,839.9 1919.0,839.9 1921.0,839.9 1923.0,839.9 1925.0,839.9 1927.0,839.9 1929.0,839.9 1931.0,839.9 1933.0,840.0 1935.0,840.0 1937.0,840.0 1939.0,840.0 1941.0,840.0 1943.0,840.0 1945.0,840.0" stroke="#008000" stroke-width="6" stroke-linecap="butt"/>
<polyline points="167.0,714.1 169.0,714.1 171.0,714.1 173.0,714.1 175.0,714.0 177.0,714.0 179.0,714.0 181.0,714.0 183.0,714.0 185.0,714.0 187.0,713.9 189.0,713.9 191.0,713.9 193.0,713.9 195.0,713.9 197.0,713.9 199.0,713.9 201.0,713.8 203.0,713.8 205.0,713.8 207.0,713.8 209.0,713.8 211.0,713.8 213.0,713.7 215.0,713.7 217.0,713.7 219.0,713.7 221.0,713.7 223.0,713.7 225.0,713.7 227.0,713.6 229.0,713.6 231.0,713.6 233.0,713.6 235.0,713.6 237.0,713.6 239.0,713.6 241.0,713.6 243.0,713.5 245.0,713.5 247.0,713.5 249.0,713.5 251.0,713.5 253.0,713.5 255.0,713.5 257.0,713.5 259.0,713.5 261.0,713.4 263.0,713.4 265.0,713.4 267.0,713.4 269.0,713.4 271.0,713.4 273.0,713.4 275.0,713.4 277.0,713.4 279.0,713.4 281.0,713.4 283.0,713.3 285.0,713.3 287.0,713.3 289.0,713.3 291.0,713.3 293.0,713.3 295.0,713.3 297.0,713.3 299.0,713.3 301.0,713.3 303.0,713.3 305.0,713.3 307.0,713.3 309.0,713.3 311.0,713.3 313.0,713.3 315.0,713.3 317.0,713.3 319.0,713.3 321.0,713.3 323.0,713.3 325.0,713.3 327.0,713.3 329.0,713.3 331.0,713.3 333.0,713.3 335.0,713.3 337.0,713.3 339.0,713.3 341.0,713.3 343.0,713.3 345.0,713.3 347.0,713.3 349.0,713.3 351.0,713.3 353.0,713.3 355.0,713.4 357.0,713.4 359.0,713.4 361.0,713.4 363.0,713.4 365.0,713.4 367.0,713.4 369.0,713.4 371.0,713.4 373.0,713.4 375.0,713.5 377.0,713.5 379.0,713.5 381.0,713.5 383.0,713.5 385.0,713.5 387.0,713.5 389.0,713.6 391.0,713.6 393.0,713.6 395.0,713.6 397.0,713.6 399.0,713.7 401.0,713.7 403.0,713.7 405.0,713.7 407.0,713.8 409.0,713.8 411.0,713.8 413.0,713.8 415.0,713.8 417.0,713.9 419.0,713.9 421.0,713.9 423.0,714.0 425.0,714.0 427.0,714.0 429.0,714.0 431.0,714.1 433.0,714.1 435.0,714.1 437.0,714.2 439.0,714.2 441.0,714.2 443.0,714.3 445.0,714.3 447.0,714.4 449.0,714.4 451.0,714.4 453.0,714.5 455.0,714.5 457.0,714.6 459.0,714.6 461.0,714.6 463.0,714.7 465.0,714.7 467.0,714.8 469.0,714.8 471.0,714.9 473.0,714.9 475.0,715.0 477.0,715.0 479.0,715.1 481.0,715.1 483.0,715.2 485.0,715.2 487.0,715.3 489.0,715.3 491.0,715.4 493.0,715.4 495.0,715.5 497.0,715.5 499.0,715.6 501.0,715.6 503.0,715.7 505.0,715.8 507.0,715.8 509.0,715.9 511.0,716.0 513.0,716.0 515.0,716.1 517.0,716.1 519.0,716.2 521.0,716.3 523.0,716.3 525.0,716.4 527.0,716.5 529.0,716.6 531.0,716.6 533.0,716.7 535.0,716.8 537.0,716.8 539.0,716.9 541.0,717.0 543.0,717.1 545.0,717.2 547.0,717.2 549.0,717.3 551.0,717.4 553.0,717.5 555.0,717.6 557.0,717.6 559.0,717.7 561.0,717.8 563.0,717.9 565.0,718.0 567.0,718.1 569.0,718.2 571.0,718.2 573.0,718.3 575.0,718.4 577.0,718.5 579.0,718.6 581.0,718.7 583.0,718.8 585.0,718.9 587.0,719.0 589.0,719.1 591.0,719.2 593.0,719.3 595.0,719.4 597.0,719.5 599.0,719.6 601.0,719.7 603.0,719.8 605.0,719.9 607.0,720.0 609.0,720.1 611.0,720.2 613.0,720.4 615.0,720.5 617.0,720.6 619.0,720.7 621.0,720.8 623.0,720.9 625.0,721.1 627.0,721.2 629.0,721.3 631.0,721.4 633.0,721.6 635.0,721.7 637.0,721.8 639.0,722.0 641.0,722.1 643.0,722.2 645.0,722.4 647.0,722.5 649.0,722.7 651.0,722.8 653.0,722.9 655.0,723.1 657.0,723.2 659.0,723.4 661.0,723.5 663.0,723.7 665.0,723.8 667.0,724.0 669.0,724.2 671.0,724.3 673.0,724.5 675.0,724.6 677.0,724.8 679.0,725.0 681.0,725.1 683.0,725.3 685.0,725.5 687.0,725.6 689.0,725.8 691.0,726.0 693.0,726.1 695.0,726.3 697.0,726.5 699.0,726.6 701.0,726.8 703.0,727.0 705.0,727.1 707.0,727.3 709.0,727.4 711.0,727.6 713.0,727.8 715.0,727.9 717.0,728.1 719.0,728.3 721.0,728.4 723.0,728.6 725.0,728.8 727.0,729.0 729.0,729.2 731.0,729.3 733.0,729.5 735.0,729.7 737.0,729.9 739.0,730.1 741.0,730.3 743.0,730.4 745.0,730.6 747.0,730.8 749.0,731.0 751.0,731.2 753.0,731.3 755.0,731.5 757.0,731.7 759.0,731.8 761.0,732.0 763.0,732.2 765.0,732.4 767.0,732.5 769.0,732.7 771.0,732.8 773.0,733.0 775.0,733.1 777.0,733.3 779.0,733.4 781.0,733.6 783.0,733.7 785.0,733.9 787.0,734.0 789.0,734.1 791.0,734.2 793.0,734.4 795.0,734.5 797.0,734.6 799.0,734.7 801.0,734.8 803.0,734.9 805.0,735.0 807.0,735.1 809.0,735.2 811.0,735.3 813.0,735.4 815.0,735.5 817.0,735.6 819.0,735.6 821.0,735.7 823.0,735.8 825.0,735.9 827.0,735.9 829.0,736.0 831.0,736.1 833.0,736.1 835.0,736.2 837.0,736.3 839.0,736.4 841.0,736.4 843.0,736.5 845.0,736.6 847.0,736.7 849.0,736.7 851.0,736.8 853.0,736.9 855.0,736.9 857.0,737.0 859.0,737.0 861.0,737.1 863.0,737.1 865.0,737.2 867.0,737.2 869.0,737.2 871.0,737.3 873.0,737.3 875.0,737.3 877.0,737.3 879.0,737.3 881.0,737.2 883.0,737.2 885.0,737.2 887.0,737.1 889.0,737.0 891.0,737.0 893.0,736.9 895.0,736.8 897.0,736.7 899.0,736.6 901.0,736.4 903.0,736.3 905.0,736.1 907.0,736.0 909.0,735.8 911.0,735.6 913.0,735.4 915.0,735.2 917.0,735.0 919.0,734.8 921.0,734.5 923.0,734.3 925.0,734.0 927.0,733.8 929.0,733.5 931.0,733.2 933.0,732.9 935.0,732.6 937.0,732.3 939.0,731.9 941.0,731.6 943.0,731.2 945.0,730.9 947.0,730.5 949.0,730.1 951.0,729.8 953.0,729.4 955.0,729.0 957.0,728.6 959.0,728.2 961.0,727.7 963.0,727.3 965.0,726.9 967.0,726.5 969.0,726.0 971.0,725.6 973.0,725.2 975.0,724.7 977.0,724.3 979.0,723.8 981.0,723.4 983.0,722.9 985.0,722.5 987.0,722.0 989.0,721.5 991.0,721.1 993.0,720.6 995.0,720.0 997.0,719.5 999.0,719.0 1001.0,718.4 1003.0,717.8 1005.0,717.3 1007.0,716.7 1009.0,716.0 1011.0,715.4 1013.0,714.7 1015.0,714.0 1017.0,713.3 1019.0,712.6 1021.0,711.9 1023.0,711.1 1025.0,710.3 1027.0,709.5 1029.0,708.7 1031.0,707.8 1033.0,706.9 1035.0,706.0 1037.0,705.1 1039.0,704.2 1041.0,703.2 1043.0,702.2 1045.0,701.1 1047.0,700.1 1049.0,699.0 1051.0,697.8 1053.0,696.7 1055.0,695.4 1057.0,694.2 1059.0,692.9 1061.0,691.6 1063.0,690.3 1065.0,688.9 1067.0,687.6 1069.0,686.1 1071.0,684.7 1073.0,683.3 1075.0,681.8 1077.0,680.3 1079.0,678.8 1081.0,677.2 1083.0,675.7 1085.0,674.1 1087.0,672.6 1089.0,671.0 1091.0,669.4 1093.0,667.8 1095.0,666.2 1097.0,664.6 1099.0,662.9 1101.0,661.3 1103.0,659.7 1105.0,658.1 1107.0,656.5 1109.0,654.9 1111.0,653.3 1113.0,651.7 1115.0,650.1 1117.0,648.5 1119.0,646.9 1121.0,645.4 1123.0,643.8 1125.0,642.3 1127.0,640.7 1129.0,639.2 1131.0,637.7 1133.0,636.2 1135.0,634.8 1137.0,633.3 1139.0,631.9 1141.0,630.5 1143.0,629.1 1145.0,627.7 1147.0,626.4 1149.0,625.1 1151.0,623.8 1153.0,622.6 1155.0,621.3 1157.0,620.1 1159.0,618.9 1161.0,617.8 1163.0,616.7 1165.0,615.6 1167.0,614.6 1169.0,613.6 1171.0,612.6 1173.0,611.6 1175.0,610.7 1177.0,609.9 1179.0,609.1 1181.0,608.3 1183.0,607.6 1185.0,606.9 1187.0,606.3 1189.0,605.7 1191.0,605.1 1193.0,604.7 1195.0,604.2 1197.0,603.9 1199.0,603.5 1201.0,603.3 1203.0,603.1 1205.0,602.9 1207.0,602.8 1209.0,602.8 1211.0,602.8 1213.0,602.9 1215.0,603.1 1217.0,603.3 1219.0,603.5 1221.0,603.8 1223.0,604.1 1225.0,604.5 1227.0,605.0 1229.0,605.6 1231.0,606.1 1233.0,606.8 1235.0,607.5 1237.0,608.3 1239.0,609.1 1241.0,610.0 1243.0,610.9 1245.0,611.9 1247.0,612.9 1249.0,614.0 1251.0,615.1 1253.0,616.3 1255.0,617.5 1257.0,618.8 1259.0,620.2 1261.0,621.6 1263.0,623.0 1265.0,624.5 1267.0,626.1 1269.0,627.7 1271.0,629.3 1273.0,631.0 1275.0,632.7 1277.0,634.5 1279.0,636.3 1281.0,638.1 1283.0,640.0 1285.0,641.9 1287.0,643.9 1289.0,645.8 1291.0,647.8 1293.0,649.8 1295.0,651.9 1297.0,653.9 1299.0,655.9 1301.0,657.9 1303.0,660.0 1305.0,662.0 1307.0,663.9 1309.0,665.9 1311.0,667.9 1313.0,669.8 1315.0,671.7 1317.0,673.6 1319.0,675.5 1321.0,677.3 1323.0,679.1 1325.0,680.9 1327.0,682.7 1329.0,684.4 1331.0,686.2 1333.0,687.9 1335.0,689.6 1337.0,691.2 1339.0,692.9 1341.0,694.6 1343.0,696.2 1345.0,697.8 1347.0,699.4 1349.0,701.0 1351.0,702.6 1353.0,704.2 1355.0,705.8 1357.0,707.3 1359.0,708.9 1361.0,710.4 1363.0,711.9 1365.0,713.4 1367.0,714.9 1369.0,716.4 1371.0,717.9 1373.0,719.3 1375.0,720.8 1377.0,722.3 1379.0,723.7 1381.0,725.1 1383.0,726.5 1385.0,727.9 1387.0,729.3 1389.0,730.7 1391.0,732.0 1393.0,733.4 1395.0,734.7 1397.0,736.0 1399.0,737.3 1401.0,738.6 1403.0,739.9 1405.0,741.1 1407.0,742.3 1409.0,743.5 1411.0,744.7 1413.0,745.9 1415.0,747.1 1417.0,748.2 1419.0,749.3 1421.0,750.4 1423.0,751.4 1425.0,752.5 1427.0,753.5 1429.0,754.5 1431.0,755.5 1433.0,756.5 1435.0,757.5 1437.0,758.4 1439.0,759.4 1441.0,760.3 1443.0,761.3 1445.0,762.2 1447.0,763.1 1449.0,764.0 1451.0,764.9 1453.0,765.8 1455.0,766.7 1457.0,767.6 1459.0,768.5 1461.0,769.3 1463.0,770.2 1465.0,771.0 1467.0,771.9 1469.0,772.7 1471.0,773.5 1473.0,774.4 1475.0,775.2 1477.0,776.0 1479.0,776.8 1481.0,777.6 1483.0,778.4 1485.0,779.2 1487.0,780.0 1489.0,780.7 1491.0,781.5 1493.0,782.3 1495.0,783.0 1497.0,783.8 1499.0,784.5 1501.0,785.2 1503.0,786.0 1505.0,786.7 1507.0,787.4 1509.0,788.1 1511.0,788.8 1513.0,789.5 1515.0,790.2 1517.0,790.9 1519.0,791.6 1521.0,792.3 1523.0,793.0 1525.0,793.6 1527.0,794.3 1529.0,795.0 1531.0,795.6 1533.0,796.3 1535.0,796.9 1537.0,797.6 1539.0,798.2 1541.0,798.8 1543.0,799.4 1545.0,800.1 1547.0,800.7 1549.0,801.3 1551.0,801.9 1553.0,802.5 1555.0,803.1 1557.0,803.7 1559.0,804.2 1561.0,804.8 1563.0,805.4 1565.0,805.9 1567.0,806.5 1569.0,807.0 1571.0,807.6 1573.0,808.1 1575.0,808.7 1577.0,809.2 1579.0,809.7 1581.0,810.2 1583.0,810.8 1585.0,811.3 1587.0,811.8 1589.0,812.2 1591.0,812.7 1593.0,813.2 1595.0,813.7 1597.0,814.2 1599.0,814.6 1601.0,815.1 1603.0,815.5 1605.0,816.0 1607.0,816.4 1609.0,816.8 1611.0,817.2 1613.0,817.6 1615.0,818.0 1617.0,818.4 1619.0,818.8 1621.0,819.2 1623.0,819.6 1625.0,819.9 1627.0,820.3 1629.0,820.6 1631.0,821.0 1633.0,821.3 1635.0,821.6 1637.0,821.9 1639.0,822.2 1641.0,822.5 1643.0,822.8 1645.0,823.1 1647.0,823.3 1649.0,823.6 1651.0,823.9 1653.0,824.1 1655.0,824.3 1657.0,824.6 1659.0,824.8 1661.0,825.0 1663.0,825.2 1665.0,825.4 1667.0,825.6 1669.0,825.8 1671.0,826.0 1673.0,826.1 1675.0,826.3 1677.0,826.5 1679.0,826.6 1681.0,826.8 1683.0,826.9 1685.0,827.1 1687.0,827.2 1689.0,827.3 1691.0,827.5 1693.0,827.6 1695.0,827.7 1697.0,827.8 1699.0,827.9 1701.0,828.1 1703.0,828.2 1705.0,828.3 1707.0,828.4 1709.0,828.5 1711.0,828.6 1713.0,828.7 1715.0,828.8 1717.0,828.8 1719.0,828.9 1721.0,829.0 1723.0,829.1 1725.0,829.2 1727.0,829.3 1729.0,829.4 1731.0,829.5 1733.0,829.5 1735.0,829.6 1737.0,829.7 1739.0,829.8 1741.0,829.9 1743.0,830.0 1745.0,830.1 1747.0,830.2 1749.0,830.3 1751.0,830.4 1753.0,830.5 1755.0,830.6 1757.0,830.7 1759.0,830.8 1761.0,830.9 1763.0,831.0 1765.0,831.1 1767.0,831.2 1769.0,831.3 1771.0,831.4 1773.0,831.6 1775.0,831.7 1777.0,831.8 1779.0,831.9 1781.0,832.0 1783.0,832.1 1785.0,832.3 1787.0,832.4 1789.0,832.5 1791.0,832.6 1793.0,832.7 1795.0,832.9 1797.0,833.0 1799.0,833.1 1801.0,833.2 1803.0,833.4 1805.0,833.5 1807.0,833.6 1809.0,833.7 1811.0,833.8 1813.0,834.0 1815.0,834.1 1817.0,834.2 1819.0,834.3 1821.0,834.4 1823.0,834.6 1825.0,834.7 1827.0,834.8 1829.0,834.9 1831.0,835.0 1833.0,835.1 1835.0,835.2 1837.0,835.3 1839.0,835.5 1841.0,835.6 1843.0,835.7 1845.0,835.8 1847.0,835.9 1849.0,836.0 1851.0,836.0 1853.0,836.1 1855.0,836.2 1857.0,836.3 1859.0,836.4 1861.0,836.5 1863.0,836.6 1865.0,836.6 1867.0,836.7 1869.0,836.8 1871.0,836.9 1873.0,836.9 1875.0,837.0 1877.0,837.1 1879.0,837.1 1881.0,837.2 1883.0,837.2 1885.0,837.3 1887.0,837.3 1889.0,837.4 1891.0,837.4 1893.0,837.5 1895.0,837.5 1897.0,837.6 1899.0,837.6 1901.0,837.7 1903.0,837.7 1905.0,837.7 1907.0,837.8 1909.0,837.8 1911.0,837.9 1913.0,837.9 1915.0,837.9 1917.0,837.9 1919.0,838.0 1921.0,838.0 1923.0,838.0 1925.0,838.1 1927.0,838.1 1929.0,838.1 1931.0,838.1 1933.0,838.2 1935.0,838.2 1937.0,838.2 1939.0,838.2 1941.0,838.3 1943.0,838.3 1945.0,838.3" stroke="#008080" stroke-width="6" stroke-linecap="butt"/>
<polyline points="167.0,713.5 169.0,713.5 171.0,713.4 173.0,713.4 175.0,713.4 177.0,713.4 179.0,713.4 181.0,713.3 183.0,713.3 185.0,713.3 187.0,713.3 189.0,713.3 191.0,713.3 193.0,713.2 195.0,713.2 197.0,713.2 199.0,713.2 201.0,713.2 203.0,713.2 205.0,713.1 207.0,713.1 209.0,713.1 211.0,713.1 213.0,713.1 215.0,713.1 217.0,713.0 219.0,713.0 221.0,713.0 223.0,713.0 225.0,713.0 227.0,713.0 229.0,712.9 231.0,712.9 233.0,712.9 235.0,712.9 237.0,712.9 239.0,712.9 241.0,712.9 243.0,712.8 245.0,712.8 247.0,712.8 249.0,712.8 251.0,712.8 253.0,712.8 255.0,712.8 257.0,712.7 259.0,712.7 261.0,712.7 263.0,712.7 265.0,712.7 267.0,712.7 269.0,712.7 271.0,712.6 273.0,712.6 275.0,712.6 277.0,712.6 279.0,712.6 281.0,712.6 283.0,712.5 285.0,712.5 287.0,712.5 289.0,712.5 291.0,712.5 293.0,712.5 295.0,712.4 297.0,712.4 299.0,712.4 301.0,712.4 303.0,712.4 305.0,712.4 307.0,712.3 309.0,712.3 311.0,712.3 313.0,712.3 315.0,712.3 317.0,712.2 319.0,712.2 321.0,712.2 323.0,712.2 325.0,712.2 327.0,712.1 329.0,712.1 331.0,712.1 333.0,712.1 335.0,712.1 337.0,712.1 339.0,712.0 341.0,712.0 343.0,712.0 345.0,712.0 347.0,712.0 349.0,712.0 351.0,712.0 353.0,712.0 355.0,712.0 357.0,712.0 359.0,712.0 361.0,712.0 363.0,712.0 365.0,712.0 367.0,712.0 369.0,712.0 371.0,712.0 373.0,712.1 375.0,712.2 377.0,712.3 379.0,712.4 381.0,712.4 383.0,712.5 385.0,712.6 387.0,712.7 389.0,712.8 391.0,712.9 393.0,713.0 395.0,713.0 397.0,713.1 399.0,713.2 401.0,713.3 403.0,713.4 405.0,713.5 407.0,713.6 409.0,713.7 411.0,713.8 413.0,713.8 415.0,713.9 417.0,714.0 419.0,714.1 421.0,714.2 423.0,714.3 425.0,714.4 427.0,714.5 429.0,714.6 431.0,714.7 433.0,714.8 435.0,714.9 437.0,715.0 439.0,715.1 441.0,715.2 443.0,715.3 445.0,715.4 447.0,715.5 449.0,715.6 451.0,715.7 453.0,715.8 455.0,715.9 457.0,716.0 459.0,716.1 461.0,716.2 463.0,716.3 465.0,716.4 467.0,716.5 469.0,716.6 471.0,716.7 473.0,716.8 475.0,716.9 477.0,717.0 479.0,717.2 481.0,717.3 483.0,717.4 485.0,717.5 487.0,717.6 489.0,717.7 491.0,717.8 493.0,717.9 495.0,718.0 497.0,718.1 499.0,718.3 501.0,718.4 503.0,718.5 505.0,718.6 507.0,718.7 509.0,718.8 511.0,719.0 513.0,719.1 515.0,719.2 517.0,719.3 519.0,719.4 521.0,719.5 523.0,719.7 525.0,719.8 527.0,719.9 529.0,720.0 531.0,720.1 533.0,720.3 535.0,720.4 537.0,720.5 539.0,720.6 541.0,720.7 543.0,720.9 545.0,721.0 547.0,721.1 549.0,721.2 551.0,721.4 553.0,721.5 555.0,721.6 557.0,721.7 559.0,721.9 561.0,722.0 563.0,722.1 565.0,722.2 567.0,722.4 569.0,722.5 571.0,722.6 573.0,722.8 575.0,722.9 577.0,723.0 579.0,723.1 581.0,723.3 583.0,723.4 585.0,723.5 587.0,723.7 589.0,723.8 591.0,723.9 593.0,724.1 595.0,724.2 597.0,724.3 599.0,724.5 601.0,724.6 603.0,724.7 605.0,724.9 607.0,725.0 609.0,725.1 611.0,725.3 613.0,725.4 615.0,725.5 617.0,725.7 619.0,725.8 621.0,725.9 623.0,726.1 625.0,726.2 627.0,726.3 629.0,726.5 631.0,726.6 633.0,726.8 635.0,726.9 637.0,727.0 639.0,727.2 641.0,727.3 643.0,727.4 645.0,727.6 647.0,727.7 649.0,727.9 651.0,728.0 653.0,728.1 655.0,728.3 657.0,728.4 659.0,728.6 661.0,728.7 663.0,728.8 665.0,729.0 667.0,729.1 669.0,729.3 671.0,729.4 673.0,729.5 675.0,729.7 677.0,729.8 679.0,730.0 681.0,730.1 683.0,730.3 685.0,730.4 687.0,730.5 689.0,730.7 691.0,730.8 693.0,731.0 695.0,731.1 697.0,731.3 699.0,731.4 701.0,731.6 703.0,731.7 705.0,731.8 707.0,732.0 709.0,732.1 711.0,732.3 713.0,732.4 715.0,732.6 717.0,732.7 719.0,732.9 721.0,733.0 723.0,733.1 725.0,733.3 727.0,733.4 729.0,733.6 731.0,733.7 733.0,733.9 735.0,734.0 737.0,734.2 739.0,734.3 741.0,734.5 743.0,734.7 745.0,734.8 747.0,735.0 749.0,735.1 751.0,735.3 753.0,735.5 755.0,735.7 757.0,735.8 759.0,736.0 761.0,736.2 763.0,736.4 765.0,736.6 767.0,736.8 769.0,737.0 771.0,737.2 773.0,737.4 775.0,737.6 777.0,737.8 779.0,738.0 781.0,738.3 783.0,738.5 785.0,738.7 787.0,739.0 789.0,739.2 791.0,739.5 793.0,739.7 795.0,740.0 797.0,740.3 799.0,740.5 801.0,740.8 803.0,741.1 805.0,741.3 807.0,741.6 809.0,741.9 811.0,742.2 813.0,742.5 815.0,742.7 817.0,743.0 819.0,743.3 821.0,743.6 823.0,743.9 825.0,744.2 827.0,744.4 829.0,744.7 831.0,745.0 833.0,745.3 835.0,745.6 837.0,745.9 839.0,746.1 841.0,746.4 843.0,746.7 845.0,747.0 847.0,747.2 849.0,747.5 851.0,747.8 853.0,748.1 855.0,748.3 857.0,748.6 859.0,748.9 861.0,749.1 863.0,749.4 865.0,749.7 867.0,749.9 869.0,750.2 871.0,750.4 873.0,750.7 875.0,751.0 877.0,751.2 879.0,751.5 881.0,751.7 883.0,752.0 885.0,752.2 887.0,752.5 889.0,752.7 891.0,753.0 893.0,753.2 895.0,753.5 897.0,753.7 899.0,753.9 901.0,754.2 903.0,754.4 905.0,754.6 907.0,754.9 909.0,755.1 911.0,755.3 913.0,755.6 915.0,755.8 917.0,756.0 919.0,756.2 921.0,756.5 923.0,756.7 925.0,756.9 927.0,757.1 929.0,757.3 931.0,757.5 933.0,757.7 935.0,757.9 937.0,758.1 939.0,758.3 941.0,758.5 943.0,758.7 945.0,758.9 947.0,759.1 949.0,759.3 951.0,759.5 953.0,759.6 955.0,759.8 957.0,760.0 959.0,760.2 961.0,760.3 963.0,760.5 965.0,760.6 967.0,760.8 969.0,760.9 971.0,761.0 973.0,761.2 975.0,761.3 977.0,761.4 979.0,761.5 981.0,761.6 983.0,761.7 985.0,761.8 987.0,761.9 989.0,761.9 991.0,762.0 993.0,762.1 995.0,762.1 997.0,762.1 999.0,762.2 1001.0,762.2 1003.0,762.2 1005.0,762.2 1007.0,762.2 1009.0,762.2 1011.0,762.1 1013.0,762.1 1015.0,762.1 1017.0,762.0 1019.0,762.0 1021.0,761.9 1023.0,761.9 1025.0,761.8 1027.0,761.8 1029.0,761.7 1031.0,761.7 1033.0,761.6 1035.0,761.6 1037.0,761.5 1039.0,761.5 1041.0,761.4 1043.0,761.4 1045.0,761.3 1047.0,761.3 1049.0,761.3 1051.0,761.2 1053.0,761.2 1055.0,761.2 1057.0,761.2 1059.0,761.1 1061.0,761.1 1063.0,761.1 1065.0,761.1 1067.0,761.1 1069.0,761.0 1071.0,761.0 1073.0,761.0 1075.0,761.0 1077.0,761.0 1079.0,761.0 1081.0,761.0 1083.0,760.9 1085.0,760.9 1087.0,760.9 1089.0,760.9 1091.0,760.9 1093.0,760.8 1095.0,760.8 1097.0,760.8 1099.0,760.7 1101.0,760.7 1103.0,760.6 1105.0,760.6 1107.0,760.5 1109.0,760.5 1111.0,760.4 1113.0,760.3 1115.0,760.3 1117.0,760.2 1119.0,760.1 1121.0,760.0 1123.0,759.9 1125.0,759.8 1127.0,759.7 1129.0,759.6 1131.0,759.4 1133.0,759.3 1135.0,759.1 1137.0,759.0 1139.0,758.8 1141.0,758.6 1143.0,758.5 1145.0,758.3 1147.0,758.1 1149.0,757.8 1151.0,757.6 1153.0,757.4 1155.0,757.1 1157.0,756.9 1159.0,756.6 1161.0,756.3 1163.0,756.1 1165.0,755.8 1167.0,755.5 1169.0,755.2 1171.0,754.8 1173.0,754.5 1175.0,754.2 1177.0,753.9 1179.0,753.5 1181.0,753.2 1183.0,752.9 1185.0,752.5 1187.0,752.2 1189.0,751.8 1191.0,751.5 1193.0,751.1 1195.0,750.7 1197.0,750.4 1199.0,750.0 1201.0,749.6 1203.0,749.2 1205.0,748.7 1207.0,748.3 1209.0,747.9 1211.0,747.4 1213.0,746.9 1215.0,746.4 1217.0,745.8 1219.0,745.2 1221.0,744.7 1223.0,744.0 1225.0,743.4 1227.0,742.7 1229.0,742.0 1231.0,741.2 1233.0,740.5 1235.0,739.6 1237.0,738.8 1239.0,737.9 1241.0,737.0 1243.0,736.1 1245.0,735.1 1247.0,734.1 1249.0,733.1 1251.0,732.0 1253.0,730.9 1255.0,729.7 1257.0,728.6 1259.0,727.4 1261.0,726.1 1263.0,724.9 1265.0,723.6 1267.0,722.2 1269.0,720.9 1271.0,719.5 1273.0,718.1 1275.0,716.6 1277.0,715.1 1279.0,713.6 1281.0,712.1 1283.0,710.5 1285.0,708.9 1287.0,707.3 1289.0,705.6 1291.0,703.9 1293.0,702.2 1295.0,700.5 1297.0,698.7 1299.0,696.8 1301.0,695.0 1303.0,693.1 1305.0,691.2 1307.0,689.2 1309.0,687.2 1311.0,685.1 1313.0,683.0 1315.0,680.8 1317.0,678.6 1319.0,676.4 1321.0,674.0 1323.0,671.7 1325.0,669.2 1327.0,666.7 1329.0,664.1 1331.0,661.5 1333.0,658.8 1335.0,656.0 1337.0,653.2 1339.0,650.3 1341.0,647.3 1343.0,644.2 1345.0,641.0 1347.0,637.8 1349.0,634.5 1351.0,631.1 1353.0,627.6 1355.0,624.0 1357.0,620.4 1359.0,616.6 1361.0,612.8 1363.0,608.9 1365.0,604.9 1367.0,600.7 1369.0,596.5 1371.0,592.1 1373.0,587.7 1375.0,583.1 1377.0,578.4 1379.0,573.6 1381.0,568.7 1383.0,563.7 1385.0,558.6 1387.0,553.4 1389.0,548.0 1391.0,542.6 1393.0,537.0 1395.0,531.3 1397.0,525.6 1399.0,519.7 1401.0,513.7 1403.0,507.6 1405.0,501.4 1407.0,495.2 1409.0,488.8 1411.0,482.4 1413.0,475.9 1415.0,469.3 1417.0,462.7 1419.0,456.1 1421.0,449.4 1423.0,442.7 1425.0,436.0 1427.0,429.3 1429.0,422.5 1431.0,415.8 1433.0,409.1 1435.0,402.3 1437.0,395.6 1439.0,388.9 1441.0,382.3 1443.0,375.7 1445.0,369.1 1447.0,362.7 1449.0,356.3 1451.0,350.1 1453.0,344.0 1455.0,338.1 1457.0,332.3 1459.0,326.6 1461.0,321.1 1463.0,315.8 1465.0,310.7 1467.0,305.7 1469.0,300.9 1471.0,296.4 1473.0,292.0 1475.0,287.9 1477.0,284.0 1479.0,280.3 1481.0,276.9 1483.0,273.8 1485.0,270.9 1487.0,268.3 1489.0,265.9 1491.0,263.9 1493.0,262.2 1495.0,260.7 1497.0,259.6 1499.0,258.7 1501.0,258.2 1503.0,258.0 1505.0,258.1 1507.0,258.6 1509.0,259.4 1511.0,260.6 1513.0,262.1 1515.0,264.0 1517.0,266.3 1519.0,268.9 1521.0,271.8 1523.0,275.1 1525.0,278.7 1527.0,282.6 1529.0,286.8 1531.0,291.3 1533.0,296.0 1535.0,301.0 1537.0,306.2 1539.0,311.7 1541.0,317.4 1543.0,323.3 1545.0,329.3 1547.0,335.6 1549.0,342.0 1551.0,348.6 1553.0,355.3 1555.0,362.1 1557.0,369.1 1559.0,376.2 1561.0,383.4 1563.0,390.8 1565.0,398.2 1567.0,405.6 1569.0,413.2 1571.0,420.8 1573.0,428.5 1575.0,436.1 1577.0,443.8 1579.0,451.5 1581.0,459.1 1583.0,466.7 1585.0,474.2 1587.0,481.7 1589.0,489.2 1591.0,496.5 1593.0,503.8 1595.0,511.0 1597.0,518.1 1599.0,525.2 1601.0,532.1 1603.0,539.0 1605.0,545.8 1607.0,552.4 1609.0,559.0 1611.0,565.4 1613.0,571.7 1615.0,577.8 1617.0,583.8 1619.0,589.7 1621.0,595.4 1623.0,601.0 1625.0,606.5 1627.0,611.8 1629.0,616.9 1631.0,621.9 1633.0,626.7 1635.0,631.5 1637.0,636.0 1639.0,640.5 1641.0,644.8 1643.0,649.0 1645.0,653.0 1647.0,657.0 1649.0,660.9 1651.0,664.7 1653.0,668.4 1655.0,672.1 1657.0,675.7 1659.0,679.3 1661.0,682.8 1663.0,686.2 1665.0,689.6 1667.0,692.9 1669.0,696.1 1671.0,699.2 1673.0,702.3 1675.0,705.3 1677.0,708.3 1679.0,711.1 1681.0,713.9 1683.0,716.7 1685.0,719.3 1687.0,721.9 1689.0,724.5 1691.0,727.0 1693.0,729.4 1695.0,731.8 1697.0,734.1 1699.0,736.4 1701.0,738.6 1703.0,740.8 1705.0,743.0 1707.0,745.1 1709.0,747.1 1711.0,749.1 1713.0,751.1 1715.0,753.0 1717.0,754.9 1719.0,756.8 1721.0,758.6 1723.0,760.4 1725.0,762.2 1727.0,764.0 1729.0,765.7 1731.0,767.4 1733.0,769.0 1735.0,770.7 1737.0,772.3 1739.0,773.8 1741.0,775.4 1743.0,776.9 1745.0,778.4 1747.0,779.9 1749.0,781.3 1751.0,782.7 1753.0,784.1 1755.0,785.5 1757.0,786.8 1759.0,788.1 1761.0,789.3 1763.0,790.6 1765.0,791.8 1767.0,793.0 1769.0,794.1 1771.0,795.2 1773.0,796.3 1775.0,797.4 1777.0,798.4 1779.0,799.4 1781.0,800.4 1783.0,801.4 1785.0,802.3 1787.0,803.2 1789.0,804.1 1791.0,805.0 1793.0,805.8 1795.0,806.6 1797.0,807.4 1799.0,808.1 1801.0,808.9 1803.0,809.6 1805.0,810.3 1807.0,810.9 1809.0,811.6 1811.0,812.2 1813.0,812.8 1815.0,813.4 1817.0,813.9 1819.0,814.5 1821.0,815.0 1823.0,815.5 1825.0,816.0 1827.0,816.5 1829.0,816.9 1831.0,817.4 1833.0,817.8 1835.0,818.2 1837.0,818.6 1839.0,819.0 1841.0,819.4 1843.0,819.8 1845.0,820.2 1847.0,820.5 1849.0,820.9 1851.0,821.2 1853.0,821.6 1855.0,821.9 1857.0,822.2 1859.0,822.5 1861.0,822.9 1863.0,823.2 1865.0,823.5 1867.0,823.8 1869.0,824.1 1871.0,824.4 1873.0,824.7 1875.0,825.0 1877.0,825.3 1879.0,825.6 1881.0,825.9 1883.0,826.2 1885.0,826.5 1887.0,826.7 1889.0,827.0 1891.0,827.3 1893.0,827.6 1895.0,827.9 1897.0,828.1 1899.0,828.4 1901.0,828.7 1903.0,828.9 1905.0,829.2 1907.0,829.4 1909.0,829.7 1911.0,830.0 1913.0,830.2 1915.0,830.5 1917.0,830.7 1919.0,831.0 1921.0,831.2 1923.0,831.4 1925.0,831.7 1927.0,831.9 1929.0,832.2 1931.0,832.4 1933.0,832.6 1935.0,832.9 1937.0,833.1 1939.0,833.3 1941.0,833.5 1943.0,833.8 1945.0,834.0" stroke="#FF00FF" stroke-width="6" stroke-linecap="butt"/>
<polyline points="167.0,707.6 169.0,707.6 171.0,707.6 173.0,707.6 175.0,707.6 177.0,707.6 179.0,707.6 181.0,707.6 183.0,707.6 185.0,707.6 187.0,707.6 189.0,707.6 191.0,707.6 193.0,707.7 195.0,707.7 197.0,707.7 199.0,707.7 201.0,707.7 203.0,707.7 205.0,707.7 207.0,707.7 209.0,707.7 211.0,707.7 213.0,707.7 215.0,707.7 217.0,707.7 219.0,707.7 221.0,707.8 223.0,707.8 225.0,707.8 227.0,707.8 229.0,707.8 231.0,707.8 233.0,707.8 235.0,707.9 237.0,707.9 239.0,707.9 241.0,707.9 243.0,707.9 245.0,708.0 247.0,708.0 249.0,708.0 251.0,708.0 253.0,708.0 255.0,708.1 257.0,708.1 259.0,708.1 261.0,708.2 263.0,708.2 265.0,708.2 267.0,708.3 269.0,708.3 271.0,708.3 273.0,708.4 275.0,708.4 277.0,708.5 279.0,708.5 281.0,708.5 283.0,708.6 285.0,708.6 287.0,708.7 289.0,708.7 291.0,708.7 293.0,708.8 295.0,708.8 297.0,708.9 299.0,708.9 301.0,709.0 303.0,709.0 305.0,709.0 307.0,709.1 309.0,709.1 311.0,709.2 313.0,709.2 315.0,709.3 317.0,709.3 319.0,709.4 321.0,709.4 323.0,709.4 325.0,709.5 327.0,709.5 329.0,709.5 331.0,709.6 333.0,709.6 335.0,709.6 337.0,709.7 339.0,709.7 341.0,709.7 343.0,709.8 345.0,709.8 347.0,709.8 349.0,709.8 351.0,709.8 353.0,709.8 355.0,709.8 357.0,709.8 359.0,709.8 361.0,709.8 363.0,709.8 365.0,709.8 367.0,709.8 369.0,709.7 371.0,709.7 373.0,709.7 375.0,709.6 377.0,709.6 379.0,709.5 381.0,709.5 383.0,709.4 385.0,709.4 387.0,709.3 389.0,709.2 391.0,709.1 393.0,709.1 395.0,709.0 397.0,708.9 399.0,708.8 401.0,708.7 403.0,708.6 405.0,708.5 407.0,708.4 409.0,708.3 411.0,708.1 413.0,708.0 415.0,707.9 417.0,707.8 419.0,707.6 421.0,707.5 423.0,707.3 425.0,707.2 427.0,707.0 429.0,706.9 431.0,706.7 433.0,706.6 435.0,706.4 437.0,706.3 439.0,706.1 441.0,705.9 443.0,705.7 445.0,705.6 447.0,705.4 449.0,705.2 451.0,705.0 453.0,704.8 455.0,704.6 457.0,704.4 459.0,704.2 461.0,704.0 463.0,703.8 465.0,703.6 467.0,703.4 469.0,703.1 471.0,702.9 473.0,702.7 475.0,702.5 477.0,702.2 479.0,702.0 481.0,701.8 483.0,701.5 485.0,701.3 487.0,701.0 489.0,700.8 491.0,700.5 493.0,700.2 495.0,700.0 497.0,699.7 499.0,699.4 501.0,699.2 503.0,698.9 505.0,698.6 507.0,698.3 509.0,698.0 511.0,697.7 513.0,697.4 515.0,697.1 517.0,696.7 519.0,696.4 521.0,696.1 523.0,695.8 525.0,695.4 527.0,695.1 529.0,694.7 531.0,694.3 533.0,694.0 535.0,693.6 537.0,693.2 539.0,692.8 541.0,692.4 543.0,692.0 545.0,691.6 547.0,691.1 549.0,690.7 551.0,690.2 553.0,689.8 555.0,689.3 557.0,688.8 559.0,688.3 561.0,687.8 563.0,687.3 565.0,686.7 567.0,686.2 569.0,685.6 571.0,685.0 573.0,684.4 575.0,683.8 577.0,683.2 579.0,682.5 581.0,681.8 583.0,681.1 585.0,680.4 587.0,679.7 589.0,678.9 591.0,678.1 593.0,677.3 595.0,676.5 597.0,675.6 599.0,674.8 601.0,673.8 603.0,672.9 605.0,671.9 607.0,670.9 609.0,669.8 611.0,668.7 613.0,667.6 615.0,666.4 617.0,665.2 619.0,663.9 621.0,662.6 623.0,661.2 625.0,659.8 627.0,658.3 629.0,656.8 631.0,655.2 633.0,653.6 635.0,651.9 637.0,650.2 639.0,648.4 641.0,646.6 643.0,644.7 645.0,642.9 647.0,640.9 649.0,639.0 651.0,637.0 653.0,634.9 655.0,632.9 657.0,630.8 659.0,628.6 661.0,626.4 663.0,624.2 665.0,621.9 667.0,619.6 669.0,617.2 671.0,614.8 673.0,612.4 675.0,609.9 677.0,607.3 679.0,604.7 681.0,602.0 683.0,599.3 685.0,596.5 687.0,593.7 689.0,590.8 691.0,587.9 693.0,584.9 695.0,581.8 697.0,578.7 699.0,575.5 701.0,572.2 703.0,568.9 705.0,565.5 707.0,562.0 709.0,558.5 711.0,554.9 713.0,551.3 715.0,547.6 717.0,543.8 719.0,540.0 721.0,536.1 723.0,532.2 725.0,528.2 727.0,524.2 729.0,520.2 731.0,516.2 733.0,512.1 735.0,508.0 737.0,503.9 739.0,499.8 741.0,495.6 743.0,491.5 745.0,487.3 747.0,483.2 749.0,479.0 751.0,474.8 753.0,470.6 755.0,466.4 757.0,462.2 759.0,458.0 761.0,453.8 763.0,449.7 765.0,445.6 767.0,441.6 769.0,437.6 771.0,433.7 773.0,429.8 775.0,426.1 777.0,422.4 779.0,418.8 781.0,415.3 783.0,412.0 785.0,408.7 787.0,405.6 789.0,402.6 791.0,399.7 793.0,397.0 795.0,394.5 797.0,392.0 799.0,389.8 801.0,387.7 803.0,385.8 805.0,384.0 807.0,382.4 809.0,381.0 811.0,379.8 813.0,378.8 815.0,378.0 817.0,377.4 819.0,377.0 821.0,376.8 823.0,376.9 825.0,377.1 827.0,377.5 829.0,378.1 831.0,378.8 833.0,379.8 835.0,381.0 837.0,382.4 839.0,383.9 841.0,385.7 843.0,387.7 845.0,389.9 847.0,392.2 849.0,394.8 851.0,397.5 853.0,400.4 855.0,403.5 857.0,406.7 859.0,410.1 861.0,413.7 863.0,417.3 865.0,421.1 867.0,425.0 869.0,429.0 871.0,433.2 873.0,437.4 875.0,441.7 877.0,446.1 879.0,450.6 881.0,455.1 883.0,459.7 885.0,464.3 887.0,469.0 889.0,473.7 891.0,478.4 893.0,483.2 895.0,487.9 897.0,492.6 899.0,497.3 901.0,502.1 903.0,506.8 905.0,511.4 907.0,516.1 909.0,520.7 911.0,525.3 913.0,529.9 915.0,534.4 917.0,538.9 919.0,543.3 921.0,547.7 923.0,552.1 925.0,556.4 927.0,560.6 929.0,564.8 931.0,568.9 933.0,572.9 935.0,576.9 937.0,580.8 939.0,584.7 941.0,588.5 943.0,592.2 945.0,595.8 947.0,599.4 949.0,602.9 951.0,606.3 953.0,609.7 955.0,613.0 957.0,616.3 959.0,619.5 961.0,622.6 963.0,625.8 965.0,628.8 967.0,631.8 969.0,634.8 971.0,637.7 973.0,640.6 975.0,643.5 977.0,646.2 979.0,648.9 981.0,651.6 983.0,654.2 985.0,656.8 987.0,659.3 989.0,661.7 991.0,664.1 993.0,666.4 995.0,668.7 997.0,670.9 999.0,673.1 1001.0,675.2 1003.0,677.3 1005.0,679.3 1007.0,681.3 1009.0,683.2 1011.0,685.1 1013.0,686.9 1015.0,688.7 1017.0,690.5 1019.0,692.2 1021.0,693.9 1023.0,695.6 1025.0,697.2 1027.0,698.9 1029.0,700.4 1031.0,702.0 1033.0,703.5 1035.0,705.0 1037.0,706.5 1039.0,708.0 1041.0,709.4 1043.0,710.8 1045.0,712.2 1047.0,713.6 1049.0,714.9 1051.0,716.2 1053.0,717.5 1055.0,718.7 1057.0,719.9 1059.0,721.1 1061.0,722.3 1063.0,723.5 1065.0,724.6 1067.0,725.7 1069.0,726.7 1071.0,727.8 1073.0,728.8 1075.0,729.8 1077.0,730.7 1079.0,731.7 1081.0,732.6 1083.0,733.5 1085.0,734.4 1087.0,735.2 1089.0,736.1 1091.0,736.9 1093.0,737.7 1095.0,738.4 1097.0,739.2 1099.0,739.9 1101.0,740.6 1103.0,741.3 1105.0,742.0 1107.0,742.7 1109.0,743.3 1111.0,744.0 1113.0,744.6 1115.0,745.2 1117.0,745.8 1119.0,746.3 1121.0,746.9 1123.0,747.5 1125.0,748.0 1127.0,748.5 1129.0,749.0 1131.0,749.6 1133.0,750.1 1135.0,750.6 1137.0,751.1 1139.0,751.6 1141.0,752.1 1143.0,752.6 1145.0,753.1 1147.0,753.5 1149.0,754.0 1151.0,754.5 1153.0,755.0 1155.0,755.5 1157.0,756.0 1159.0,756.5 1161.0,757.0 1163.0,757.5 1165.0,758.0 1167.0,758.5 1169.0,759.0 1171.0,759.5 1173.0,760.0 1175.0,760.5 1177.0,760.9 1179.0,761.4 1181.0,761.9 1183.0,762.4 1185.0,762.9 1187.0,763.3 1189.0,763.8 1191.0,764.2 1193.0,764.7 1195.0,765.1 1197.0,765.6 1199.0,766.0 1201.0,766.4 1203.0,766.8 1205.0,767.2 1207.0,767.6 1209.0,768.0 1211.0,768.3 1213.0,768.7 1215.0,769.0 1217.0,769.4 1219.0,769.7 1221.0,770.0 1223.0,770.3 1225.0,770.5 1227.0,770.8 1229.0,771.0 1231.0,771.3 1233.0,771.5 1235.0,771.7 1237.0,771.9 1239.0,772.1 1241.0,772.3 1243.0,772.5 1245.0,772.7 1247.0,772.9 1249.0,773.0 1251.0,773.2 1253.0,773.4 1255.0,773.5 1257.0,773.7 1259.0,773.8 1261.0,774.0 1263.0,774.1 1265.0,774.3 1267.0,774.4 1269.0,774.6 1271.0,774.7 1273.0,774.9 1275.0,775.1 1277.0,775.2 1279.0,775.4 1281.0,775.6 1283.0,775.7 1285.0,775.9 1287.0,776.1 1289.0,776.3 1291.0,776.5 1293.0,776.7 1295.0,776.9 1297.0,777.1 1299.0,777.3 1301.0,777.5 1303.0,777.7 1305.0,777.9 1307.0,778.1 1309.0,778.3 1311.0,778.5 1313.0,778.8 1315.0,779.0 1317.0,779.2 1319.0,779.4 1321.0,779.6 1323.0,779.8 1325.0,780.0 1327.0,780.3 1329.0,780.5 1331.0,780.7 1333.0,780.9 1335.0,781.1 1337.0,781.3 1339.0,781.5 1341.0,781.7 1343.0,781.9 1345.0,782.1 1347.0,782.4 1349.0,782.6 1351.0,782.8 1353.0,783.0 1355.0,783.2 1357.0,783.5 1359.0,783.7 1361.0,783.9 1363.0,784.2 1365.0,784.4 1367.0,784.7 1369.0,784.9 1371.0,785.2 1373.0,785.4 1375.0,785.7 1377.0,786.0 1379.0,786.3 1381.0,786.6 1383.0,786.9 1385.0,787.2 1387.0,787.5 1389.0,787.9 1391.0,788.2 1393.0,788.6 1395.0,788.9 1397.0,789.3 1399.0,789.6 1401.0,790.0 1403.0,790.4 1405.0,790.8 1407.0,791.2 1409.0,791.6 1411.0,792.0 1413.0,792.4 1415.0,792.8 1417.0,793.2 1419.0,793.6 1421.0,794.0 1423.0,794.4 1425.0,794.8 1427.0,795.3 1429.0,795.7 1431.0,796.1 1433.0,796.5 1435.0,796.9 1437.0,797.3 1439.0,797.8 1441.0,798.2 1443.0,798.6 1445.0,799.0 1447.0,799.4 1449.0,799.8 1451.0,800.2 1453.0,800.6 1455.0,801.0 1457.0,801.4 1459.0,801.8 1461.0,802.2 1463.0,802.6 1465.0,803.0 1467.0,803.4 1469.0,803.8 1471.0,804.2 1473.0,804.6 1475.0,804.9 1477.0,805.3 1479.0,805.7 1481.0,806.1 1483.0,806.4 1485.0,806.8 1487.0,807.2 1489.0,807.6 1491.0,807.9 1493.0,808.3 1495.0,808.6 1497.0,809.0 1499.0,809.3 1501.0,809.7 1503.0,810.0 1505.0,810.4 1507.0,810.7 1509.0,811.1 1511.0,811.4 1513.0,811.8 1515.0,812.1 1517.0,812.4 1519.0,812.7 1521.0,813.1 1523.0,813.4 1525.0,813.7 1527.0,814.0 1529.0,814.4 1531.0,814.7 1533.0,815.0 1535.0,815.3 1537.0,815.6 1539.0,815.9 1541.0,816.2 1543.0,816.5 1545.0,816.8 1547.0,817.1 1549.0,817.4 1551.0,817.7 1553.0,818.0 1555.0,818.2 1557.0,818.5 1559.0,818.8 1561.0,819.1 1563.0,819.3 1565.0,819.6 1567.0,819.9 1569.0,820.2 1571.0,820.4 1573.0,820.7 1575.0,820.9 1577.0,821.2 1579.0,821.4 1581.0,821.7 1583.0,821.9 1585.0,822.2 1587.0,822.4 1589.0,822.7 1591.0,822.9 1593.0,823.2 1595.0,823.4 1597.0,823.6 1599.0,823.9 1601.0,824.1 1603.0,824.3 1605.0,824.5 1607.0,824.7 1609.0,825.0 1611.0,825.2 1613.0,825.4 1615.0,825.6 1617.0,825.8 1619.0,826.0 1621.0,826.2 1623.0,826.4 1625.0,826.6 1627.0,826.8 1629.0,827.0 1631.0,827.2 1633.0,827.4 1635.0,827.5 1637.0,827.7 1639.0,827.9 1641.0,828.1 1643.0,828.3 1645.0,828.4 1647.0,828.6 1649.0,828.8 1651.0,828.9 1653.0,829.1 1655.0,829.2 1657.0,829.4 1659.0,829.6 1661.0,829.7 1663.0,829.9 1665.0,830.0 1667.0,830.2 1669.0,830.3 1671.0,830.4 1673.0,830.6 1675.0,830.7 1677.0,830.9 1679.0,831.0 1681.0,831.1 1683.0,831.2 1685.0,831.4 1687.0,831.5 1689.0,831.6 1691.0,831.7 1693.0,831.9 1695.0,832.0 1697.0,832.1 1699.0,832.2 1701.0,832.3 1703.0,832.4 1705.0,832.5 1707.0,832.6 1709.0,832.8 1711.0,832.9 1713.0,833.0 1715.0,833.1 1717.0,833.2 1719.0,833.3 1721.0,833.4 1723.0,833.4 1725.0,833.5 1727.0,833.6 1729.0,833.7 1731.0,833.8 1733.0,833.9 1735.0,834.0 1737.0,834.1 1739.0,834.2 1741.0,834.3 1743.0,834.3 1745.0,834.4 1747.0,834.5 1749.0,834.6 1751.0,834.7 1753.0,834.8 1755.0,834.8 1757.0,834.9 1759.0,835.0 1761.0,835.1 1763.0,835.1 1765.0,835.2 1767.0,835.3 1769.0,835.4 1771.0,835.5 1773.0,835.5 1775.0,835.6 1777.0,835.7 1779.0,835.7 1781.0,835.8 1783.0,835.9 1785.0,836.0 1787.0,836.0 1789.0,836.1 1791.0,836.2 1793.0,836.2 1795.0,836.3 1797.0,836.4 1799.0,836.4 1801.0,836.5 1803.0,836.5 1805.0,836.6 1807.0,836.7 1809.0,836.7 1811.0,836.8 1813.0,836.8 1815.0,836.9 1817.0,836.9 1819.0,837.0 1821.0,837.1 1823.0,837.1 1825.0,837.2 1827.0,837.2 1829.0,837.3 1831.0,837.3 1833.0,837.4 1835.0,837.4 1837.0,837.4 1839.0,837.5 1841.0,837.5 1843.0,837.6 1845.0,837.6 1847.0,837.7 1849.0,837.7 1851.0,837.7 1853.0,837.8 1855.0,837.8 1857.0,837.8 1859.0,837.9 1861.0,837.9 1863.0,837.9 1865.0,838.0 1867.0,838.0 1869.0,838.0 1871.0,838.0 1873.0,838.1 1875.0,838.1 1877.0,838.1 1879.0,838.1 1881.0,838.2 1883.0,838.2 1885.0,838.2 1887.0,838.2 1889.0,838.2 1891.0,838.3 1893.0,838.3 1895.0,838.3 1897.0,838.3 1899.0,838.3 1901.0,838.3 1903.0,838.3 1905.0,838.4 1907.0,838.4 1909.0,838.4 1911.0,838.4 1913.0,838.4 1915.0,838.4 1917.0,838.4 1919.0,838.4 1921.0,838.4 1923.0,838.4 1925.0,838.4 1927.0,838.5 1929.0,838.5 1931.0,838.5 1933.0,838.5 1935.0,838.5 1937.0,838.5 1939.0,838.5 1941.0,838.5 1943.0,838.5 1945.0,838.5" stroke="#0000FF" stroke-width="6" stroke-linecap="butt"/>
<polyline points="167.0,701.0 169.0,700.9 171.0,700.7 173.0,700.6 175.0,700.5 177.0,700.3 179.0,700.2 181.0,700.1 183.0,699.9 185.0,699.8 187.0,699.7 189.0,699.5 191.0,699.4 193.0,699.2 195.0,699.1 197.0,698.9 199.0,698.8 201.0,698.6 203.0,698.5 205.0,698.3 207.0,698.2 209.0,698.0 211.0,697.9 213.0,697.7 215.0,697.6 217.0,697.4 219.0,697.2 221.0,697.1 223.0,696.9 225.0,696.7 227.0,696.6 229.0,696.4 231.0,696.2 233.0,696.0 235.0,695.9 237.0,695.7 239.0,695.5 241.0,695.3 243.0,695.1 245.0,694.9 247.0,694.7 249.0,694.5 251.0,694.3 253.0,694.0 255.0,693.8 257.0,693.6 259.0,693.3 261.0,693.1 263.0,692.9 265.0,692.6 267.0,692.4 269.0,692.1 271.0,691.8 273.0,691.5 275.0,691.3 277.0,691.0 279.0,690.7 281.0,690.4 283.0,690.1 285.0,689.8 287.0,689.5 289.0,689.1 291.0,688.8 293.0,688.5 295.0,688.1 297.0,687.8 299.0,687.5 301.0,687.1 303.0,686.7 305.0,686.4 307.0,686.0 309.0,685.6 311.0,685.2 313.0,684.8 315.0,684.4 317.0,684.0 319.0,683.6 321.0,683.1 323.0,682.7 325.0,682.3 327.0,681.8 329.0,681.4 331.0,680.9 333.0,680.4 335.0,679.9 337.0,679.5 339.0,679.0 341.0,678.5 343.0,677.9 345.0,677.4 347.0,676.9 349.0,676.4 351.0,675.8 353.0,675.3 355.0,674.7 357.0,674.1 359.0,673.5 361.0,673.0 363.0,672.4 365.0,671.7 367.0,671.1 369.0,670.5 371.0,669.9 373.0,669.2 375.0,668.6 377.0,667.9 379.0,667.2 381.0,666.5 383.0,665.8 385.0,665.1 387.0,664.4 389.0,663.6 391.0,662.9 393.0,662.1 395.0,661.3 397.0,660.5 399.0,659.7 401.0,658.8 403.0,657.9 405.0,657.1 407.0,656.2 409.0,655.2 411.0,654.3 413.0,653.3 415.0,652.3 417.0,651.3 419.0,650.3 421.0,649.3 423.0,648.2 425.0,647.2 427.0,646.1 429.0,645.0 431.0,643.9 433.0,642.8 435.0,641.7 437.0,640.6 439.0,639.4 441.0,638.3 443.0,637.2 445.0,636.1 447.0,635.0 449.0,633.9 451.0,632.8 453.0,631.8 455.0,630.7 457.0,629.7 459.0,628.7 461.0,627.7 463.0,626.7 465.0,625.7 467.0,624.8 469.0,623.9 471.0,623.0 473.0,622.1 475.0,621.2 477.0,620.4 479.0,619.6 481.0,618.8 483.0,618.0 485.0,617.2 487.0,616.5 489.0,615.8 491.0,615.1 493.0,614.4 495.0,613.8 497.0,613.1 499.0,612.5 501.0,612.0 503.0,611.4 505.0,610.9 507.0,610.4 509.0,609.9 511.0,609.5 513.0,609.1 515.0,608.7 517.0,608.4 519.0,608.1 521.0,607.9 523.0,607.6 525.0,607.4 527.0,607.3 529.0,607.2 531.0,607.1 533.0,607.1 535.0,607.2 537.0,607.2 539.0,607.3 541.0,607.5 543.0,607.7 545.0,607.9 547.0,608.2 549.0,608.5 551.0,608.9 553.0,609.3 555.0,609.8 557.0,610.2 559.0,610.8 561.0,611.3 563.0,611.9 565.0,612.6 567.0,613.2 569.0,613.9 571.0,614.6 573.0,615.4 575.0,616.2 577.0,617.0 579.0,617.9 581.0,618.8 583.0,619.7 585.0,620.6 587.0,621.6 589.0,622.6 591.0,623.6 593.0,624.6 595.0,625.7 597.0,626.8 599.0,627.9 601.0,629.0 603.0,630.2 605.0,631.3 607.0,632.5 609.0,633.7 611.0,634.9 613.0,636.1 615.0,637.3 617.0,638.5 619.0,639.7 621.0,640.9 623.0,642.1 625.0,643.4 627.0,644.6 629.0,645.8 631.0,647.0 633.0,648.3 635.0,649.5 637.0,650.7 639.0,651.9 641.0,653.2 643.0,654.4 645.0,655.6 647.0,656.9 649.0,658.1 651.0,659.3 653.0,660.5 655.0,661.7 657.0,662.9 659.0,664.1 661.0,665.2 663.0,666.4 665.0,667.5 667.0,668.6 669.0,669.7 671.0,670.8 673.0,671.9 675.0,673.0 677.0,674.0 679.0,675.0 681.0,676.0 683.0,677.0 685.0,678.0 687.0,679.0 689.0,680.0 691.0,680.9 693.0,681.9 695.0,682.8 697.0,683.7 699.0,684.7 701.0,685.6 703.0,686.5 705.0,687.4 707.0,688.3 709.0,689.2 711.0,690.1 713.0,691.0 715.0,692.0 717.0,692.9 719.0,693.8 721.0,694.7 723.0,695.6 725.0,696.5 727.0,697.5 729.0,698.4 731.0,699.3 733.0,700.1 735.0,701.0 737.0,701.9 739.0,702.8 741.0,703.7 743.0,704.5 745.0,705.4 747.0,706.2 749.0,707.0 751.0,707.8 753.0,708.6 755.0,709.4 757.0,710.2 759.0,711.0 761.0,711.8 763.0,712.5 765.0,713.2 767.0,714.0 769.0,714.7 771.0,715.3 773.0,716.0 775.0,716.7 777.0,717.3 779.0,717.9 781.0,718.5 783.0,719.1 785.0,719.7 787.0,720.3 789.0,720.8 791.0,721.4 793.0,721.9 795.0,722.4 797.0,723.0 799.0,723.5 801.0,724.0 803.0,724.4 805.0,724.9 807.0,725.4 809.0,725.9 811.0,726.3 813.0,726.8 815.0,727.3 817.0,727.7 819.0,728.2 821.0,728.6 823.0,729.1 825.0,729.5 827.0,730.0 829.0,730.4 831.0,730.9 833.0,731.4 835.0,731.8 837.0,732.3 839.0,732.8 841.0,733.2 843.0,733.7 845.0,734.2 847.0,734.7 849.0,735.1 851.0,735.6 853.0,736.1 855.0,736.6 857.0,737.0 859.0,737.5 861.0,738.0 863.0,738.5 865.0,738.9 867.0,739.4 869.0,739.9 871.0,740.3 873.0,740.8 875.0,741.2 877.0,741.7 879.0,742.1 881.0,742.6 883.0,743.0 885.0,743.4 887.0,743.9 889.0,744.3 891.0,744.7 893.0,745.1 895.0,745.5 897.0,745.9 899.0,746.2 901.0,746.6 903.0,747.0 905.0,747.3 907.0,747.7 909.0,748.0 911.0,748.4 913.0,748.7 915.0,749.0 917.0,749.4 919.0,749.7 921.0,750.0 923.0,750.3 925.0,750.6 927.0,750.9 929.0,751.2 931.0,751.5 933.0,751.8 935.0,752.1 937.0,752.3 939.0,752.6 941.0,752.9 943.0,753.2 945.0,753.4 947.0,753.7 949.0,753.9 951.0,754.2 953.0,754.5 955.0,754.7 957.0,755.0 959.0,755.2 961.0,755.4 963.0,755.7 965.0,755.9 967.0,756.1 969.0,756.4 971.0,756.6 973.0,756.8 975.0,757.0 977.0,757.3 979.0,757.5 981.0,757.7 983.0,757.9 985.0,758.1 987.0,758.3 989.0,758.5 991.0,758.7 993.0,758.9 995.0,759.1 997.0,759.3 999.0,759.5 1001.0,759.7 1003.0,759.9 1005.0,760.1 1007.0,760.3 1009.0,760.5 1011.0,760.6 1013.0,760.8 1015.0,761.0 1017.0,761.2 1019.0,761.3 1021.0,761.5 1023.0,761.7 1025.0,761.8 1027.0,762.0 1029.0,762.2 1031.0,762.3 1033.0,762.5 1035.0,762.7 1037.0,762.8 1039.0,763.0 1041.0,763.1 1043.0,763.3 1045.0,763.4 1047.0,763.6 1049.0,763.7 1051.0,763.9 1053.0,764.0 1055.0,764.2 1057.0,764.3 1059.0,764.4 1061.0,764.6 1063.0,764.7 1065.0,764.8 1067.0,765.0 1069.0,765.1 1071.0,765.2 1073.0,765.4 1075.0,765.5 1077.0,765.6 1079.0,765.7 1081.0,765.9 1083.0,766.0 1085.0,766.1 1087.0,766.3 1089.0,766.4 1091.0,766.5 1093.0,766.6 1095.0,766.7 1097.0,766.9 1099.0,767.0 1101.0,767.1 1103.0,767.2 1105.0,767.4 1107.0,767.5 1109.0,767.6 1111.0,767.7 1113.0,767.9 1115.0,768.0 1117.0,768.1 1119.0,768.2 1121.0,768.4 1123.0,768.5 1125.0,768.6 1127.0,768.8 1129.0,768.9 1131.0,769.0 1133.0,769.2 1135.0,769.3 1137.0,769.4 1139.0,769.5 1141.0,769.7 1143.0,769.8 1145.0,770.0 1147.0,770.1 1149.0,770.2 1151.0,770.4 1153.0,770.5 1155.0,770.6 1157.0,770.8 1159.0,770.9 1161.0,771.1 1163.0,771.2 1165.0,771.4 1167.0,771.5 1169.0,771.7 1171.0,771.8 1173.0,772.0 1175.0,772.1 1177.0,772.3 1179.0,772.4 1181.0,772.6 1183.0,772.7 1185.0,772.9 1187.0,773.0 1189.0,773.2 1191.0,773.4 1193.0,773.5 1195.0,773.7 1197.0,773.8 1199.0,774.0 1201.0,774.2 1203.0,774.4 1205.0,774.5 1207.0,774.7 1209.0,774.9 1211.0,775.1 1213.0,775.2 1215.0,775.4 1217.0,775.6 1219.0,775.8 1221.0,776.0 1223.0,776.1 1225.0,776.3 1227.0,776.5 1229.0,776.7 1231.0,776.9 1233.0,777.1 1235.0,777.3 1237.0,777.5 1239.0,777.7 1241.0,777.9 1243.0,778.1 1245.0,778.3 1247.0,778.5 1249.0,778.7 1251.0,778.9 1253.0,779.1 1255.0,779.2 1257.0,779.4 1259.0,779.6 1261.0,779.8 1263.0,780.0 1265.0,780.2 1267.0,780.4 1269.0,780.6 1271.0,780.7 1273.0,780.9 1275.0,781.1 1277.0,781.3 1279.0,781.4 1281.0,781.6 1283.0,781.8 1285.0,782.0 1287.0,782.1 1289.0,782.3 1291.0,782.4 1293.0,782.6 1295.0,782.8 1297.0,782.9 1299.0,783.1 1301.0,783.3 1303.0,783.4 1305.0,783.6 1307.0,783.8 1309.0,783.9 1311.0,784.1 1313.0,784.3 1315.0,784.4 1317.0,784.6 1319.0,784.8 1321.0,785.0 1323.0,785.1 1325.0,785.3 1327.0,785.5 1329.0,785.7 1331.0,785.9 1333.0,786.1 1335.0,786.3 1337.0,786.5 1339.0,786.7 1341.0,786.9 1343.0,787.1 1345.0,787.3 1347.0,787.5 1349.0,787.7 1351.0,787.9 1353.0,788.1 1355.0,788.4 1357.0,788.6 1359.0,788.8 1361.0,789.0 1363.0,789.2 1365.0,789.4 1367.0,789.7 1369.0,789.9 1371.0,790.1 1373.0,790.3 1375.0,790.6 1377.0,790.8 1379.0,791.0 1381.0,791.2 1383.0,791.5 1385.0,791.7 1387.0,791.9 1389.0,792.1 1391.0,792.3 1393.0,792.6 1395.0,792.8 1397.0,793.0 1399.0,793.2 1401.0,793.5 1403.0,793.7 1405.0,793.9 1407.0,794.1 1409.0,794.4 1411.0,794.6 1413.0,794.8 1415.0,795.1 1417.0,795.3 1419.0,795.5 1421.0,795.8 1423.0,796.0 1425.0,796.3 1427.0,796.5 1429.0,796.8 1431.0,797.0 1433.0,797.3 1435.0,797.5 1437.0,797.8 1439.0,798.1 1441.0,798.3 1443.0,798.6 1445.0,798.9 1447.0,799.1 1449.0,799.4 1451.0,799.7 1453.0,800.0 1455.0,800.3 1457.0,800.6 1459.0,800.9 1461.0,801.2 1463.0,801.5 1465.0,801.8 1467.0,802.1 1469.0,802.4 1471.0,802.7 1473.0,803.0 1475.0,803.3 1477.0,803.6 1479.0,804.0 1481.0,804.3 1483.0,804.6 1485.0,804.9 1487.0,805.2 1489.0,805.6 1491.0,805.9 1493.0,806.2 1495.0,806.5 1497.0,806.9 1499.0,807.2 1501.0,807.5 1503.0,807.8 1505.0,808.2 1507.0,808.5 1509.0,808.8 1511.0,809.2 1513.0,809.5 1515.0,809.8 1517.0,810.2 1519.0,810.5 1521.0,810.8 1523.0,811.2 1525.0,811.5 1527.0,811.8 1529.0,812.2 1531.0,812.5 1533.0,812.8 1535.0,813.1 1537.0,813.5 1539.0,813.8 1541.0,814.1 1543.0,814.5 1545.0,814.8 1547.0,815.1 1549.0,815.4 1551.0,815.7 1553.0,816.1 1555.0,816.4 1557.0,816.7 1559.0,817.0 1561.0,817.3 1563.0,817.7 1565.0,818.0 1567.0,818.3 1569.0,818.6 1571.0,818.9 1573.0,819.2 1575.0,819.5 1577.0,819.8 1579.0,820.1 1581.0,820.4 1583.0,820.7 1585.0,821.0 1587.0,821.3 1589.0,821.6 1591.0,821.9 1593.0,822.2 1595.0,822.4 1597.0,822.7 1599.0,823.0 1601.0,823.3 1603.0,823.5 1605.0,823.8 1607.0,824.1 1609.0,824.3 1611.0,824.6 1613.0,824.8 1615.0,825.1 1617.0,825.3 1619.0,825.6 1621.0,825.8 1623.0,826.1 1625.0,826.3 1627.0,826.5 1629.0,826.8 1631.0,827.0 1633.0,827.2 1635.0,827.4 1637.0,827.6 1639.0,827.8 1641.0,828.1 1643.0,828.3 1645.0,828.4 1647.0,828.6 1649.0,828.8 1651.0,829.0 1653.0,829.2 1655.0,829.4 1657.0,829.5 1659.0,829.7 1661.0,829.9 1663.0,830.0 1665.0,830.2 1667.0,830.4 1669.0,830.5 1671.0,830.7 1673.0,830.8 1675.0,830.9 1677.0,831.1 1679.0,831.2 1681.0,831.4 1683.0,831.5 1685.0,831.6 1687.0,831.7 1689.0,831.9 1691.0,832.0 1693.0,832.1 1695.0,832.2 1697.0,832.3 1699.0,832.4 1701.0,832.5 1703.0,832.6 1705.0,832.7 1707.0,832.8 1709.0,832.9 1711.0,833.0 1713.0,833.1 1715.0,833.2 1717.0,833.3 1719.0,833.4 1721.0,833.5 1723.0,833.6 1725.0,833.7 1727.0,833.7 1729.0,833.8 1731.0,833.9 1733.0,834.0 1735.0,834.1 1737.0,834.2 1739.0,834.2 1741.0,834.3 1743.0,834.4 1745.0,834.5 1747.0,834.5 1749.0,834.6 1751.0,834.7 1753.0,834.8 1755.0,834.8 1757.0,834.9 1759.0,835.0 1761.0,835.1 1763.0,835.1 1765.0,835.2 1767.0,835.3 1769.0,835.3 1771.0,835.4 1773.0,835.5 1775.0,835.6 1777.0,835.6 1779.0,835.7 1781.0,835.8 1783.0,835.8 1785.0,835.9 1787.0,836.0 1789.0,836.0 1791.0,836.1 1793.0,836.2 1795.0,836.2 1797.0,836.3 1799.0,836.4 1801.0,836.4 1803.0,836.5 1805.0,836.6 1807.0,836.6 1809.0,836.7 1811.0,836.7 1813.0,836.8 1815.0,836.8 1817.0,836.9 1819.0,837.0 1821.0,837.0 1823.0,837.1 1825.0,837.1 1827.0,837.2 1829.0,837.2 1831.0,837.3 1833.0,837.3 1835.0,837.4 1837.0,837.4 1839.0,837.5 1841.0,837.5 1843.0,837.6 1845.0,837.6 1847.0,837.6 1849.0,837.7 1851.0,837.7 1853.0,837.8 1855.0,837.8 1857.0,837.8 1859.0,837.9 1861.0,837.9 1863.0,837.9 1865.0,838.0 1867.0,838.0 1869.0,838.0 1871.0,838.0 1873.0,838.1 1875.0,838.1 1877.0,838.1 1879.0,838.1 1881.0,838.2 1883.0,838.2 1885.0,838.2 1887.0,838.2 1889.0,838.2 1891.0,838.3 1893.0,838.3 1895.0,838.3 1897.0,838.3 1899.0,838.3 1901.0,838.3 1903.0,838.3 1905.0,838.4 1907.0,838.4 1909.0,838.4 1911.0,838.4 1913.0,838.4 1915.0,838.4 1917.0,838.4 1919.0,838.4 1921.0,838.4 1923.0,838.4 1925.0,838.4 1927.0,838.5 1929.0,838.5 1931.0,838.5 1933.0,838.5 1935.0,838.5 1937.0,838.5 1939.0,838.5 1941.0,838.5 1943.0,838.5 1945.0,838.5" stroke="#808000" stroke-width="6" stroke-linecap="butt"/>
<polyline points="148.0,1379.1 154.4,1378.1 160.8,1377.7 167.3,1376.5 173.7,1379.7 180.1,1379.4 186.5,1378.6 192.9,1379.5 199.4,1379.2 205.8,1377.8 212.2,1377.9 218.6,1376.0 225.0,1376.1 231.5,1376.6 237.9,1378.2 244.3,1373.6 250.7,1369.9 257.1,1364.9 263.6,1361.9 270.0,1362.6 276.4,1365.2 282.8,1366.0 289.2,1367.2 295.7,1368.0 302.1,1367.4 308.5,1363.5 314.9,1358.3 321.3,1352.4 327.8,1348.7 334.2,1346.0 340.6,1345.1 347.0,1342.0 353.4,1341.0 359.9,1342.8 366.3,1343.1 372.7,1338.1 379.1,1332.7 385.5,1327.2 392.0,1319.5 398.4,1313.4 404.8,1309.0 411.2,1305.4 417.6,1298.6 424.1,1293.0 430.5,1287.6 436.9,1282.7 443.3,1275.3 449.7,1269.4 456.2,1259.9 462.6,1256.9 469.0,1252.7 475.4,1246.7 481.8,1243.9 488.3,1241.0 494.7,1236.7 501.1,1231.4 507.5,1224.7 513.9,1216.1 520.4,1215.5 526.8,1221.2 533.2,1225.5 539.6,1222.8 546.0,1221.6 552.5,1224.9 558.9,1229.6 565.3,1227.7 571.7,1227.1 578.1,1224.6 584.6,1223.9 591.0,1223.3 597.4,1227.5 603.8,1229.7 610.2,1233.0 616.7,1238.1 623.1,1241.9 629.5,1238.1 635.9,1234.5 642.3,1241.7 648.8,1246.9 655.2,1243.3 661.6,1239.1 668.0,1237.8 674.4,1239.6 680.9,1245.0 687.3,1252.6 693.7,1258.0 700.1,1261.5 706.5,1266.6 713.0,1273.0 719.4,1279.5 725.8,1285.0 732.2,1287.3 738.6,1292.0 745.1,1293.9 751.5,1295.3 757.9,1296.5 764.3,1297.4 770.7,1301.0 777.2,1304.6 783.6,1307.8 790.0,1311.0 796.4,1315.6 802.8,1319.4 809.3,1322.9 815.7,1325.9 822.1,1330.0 828.5,1331.0 834.9,1334.0 841.4,1339.1 847.8,1341.7 854.2,1350.0 860.6,1355.4 867.0,1360.0 873.5,1361.4 879.9,1365.1 886.3,1362.9 892.7,1361.2 899.1,1366.3 905.6,1368.7 912.0,1369.5 918.4,1369.9 924.8,1371.2 931.2,1372.7 937.7,1375.3 944.1,1377.1 950.5,1377.5 956.9,1378.8 963.3,1379.7 969.8,1379.4 976.2,1376.6 982.6,1373.4 989.0,1370.2 995.4,1366.4 1001.9,1360.5 1008.3,1356.7 1014.7,1353.1 1021.1,1351.7 1027.5,1346.7 1034.0,1342.2 1040.4,1335.5 1046.8,1328.8 1053.2,1322.4 1059.6,1314.5 1066.1,1307.1 1072.5,1296.5 1078.9,1288.2 1085.3,1277.3 1091.7,1269.3 1098.2,1256.7 1104.6,1241.3 1111.0,1222.9 1117.4,1209.6 1123.8,1197.0 1130.3,1185.9 1136.7,1177.0 1143.1,1167.8 1149.5,1159.6 1155.9,1148.8 1162.4,1138.4 1168.8,1128.5 1175.2,1122.1 1181.6,1124.3 1188.0,1123.7 1194.5,1120.0 1200.9,1121.0 1207.3,1120.7 1213.7,1122.0 1220.1,1124.9 1226.6,1127.1 1233.0,1129.8 1239.4,1132.5 1245.8,1137.8 1252.2,1142.4 1258.7,1146.1 1265.1,1150.4 1271.5,1152.9 1277.9,1154.0 1284.3,1160.6 1290.8,1164.8 1297.2,1170.6 1303.6,1174.3 1310.0,1176.6 1316.4,1178.1 1322.9,1175.0 1329.3,1170.9 1335.7,1175.6 1342.1,1178.9 1348.5,1182.1 1355.0,1185.5 1361.4,1186.7 1367.8,1191.7 1374.2,1196.1 1380.6,1201.9 1387.1,1215.0 1393.5,1224.0 1399.9,1231.2 1406.3,1236.7 1412.7,1241.4 1419.2,1248.2 1425.6,1251.2 1432.0,1259.4 1438.4,1266.3 1444.8,1275.2 1451.3,1280.0 1457.7,1285.5 1464.1,1288.6 1470.5,1291.2 1476.9,1297.8 1483.4,1305.5 1489.8,1312.4 1496.2,1317.0 1502.6,1322.2 1509.0,1326.5 1515.5,1331.2 1521.9,1334.6 1528.3,1338.9 1534.7,1344.1 1541.1,1351.3 1547.6,1356.8 1554.0,1359.3 1560.4,1365.7 1566.8,1368.3 1573.2,1372.0 1579.7,1376.6 1586.1,1383.8 1592.5,1388.7 1598.9,1390.9 1605.3,1393.0 1611.8,1397.8 1618.2,1402.3 1624.6,1409.2 1631.0,1418.2 1637.4,1422.4 1643.9,1422.6 1650.3,1422.6 1656.7,1424.3 1663.1,1422.4 1669.5,1424.2 1676.0,1423.6 1682.4,1423.2 1688.8,1422.9 1695.2,1424.3 1701.6,1424.0 1708.1,1424.6 1714.5,1425.5 1720.9,1424.7 1727.3,1424.7 1733.7,1424.6 1740.2,1426.0 1746.6,1427.5 1753.0,1427.6 1759.4,1428.7 1765.8,1428.0 1772.3,1429.0 1778.7,1428.7 1785.1,1427.9 1791.5,1429.5 1797.9,1428.2 1804.4,1426.5 1810.8,1425.9 1817.2,1426.0 1823.6,1426.3 1830.0,1428.8 1836.5,1428.8 1842.9,1430.7 1849.3,1430.7 1855.7,1430.4 1862.1,1429.1 1868.6,1428.3 1875.0,1428.0 1881.4,1428.0 1887.8,1429.9 1894.2,1431.7 1900.7,1432.3 1907.1,1431.2 1913.5,1430.1 1919.9,1431.0 1926.3,1430.4 1932.8,1432.2 1939.2,1431.8 1945.0,1430.8" stroke="#000" stroke-width="10"/>
<polyline points="148.0,1382.6 150.0,1382.6 152.0,1382.6 154.0,1382.6 156.0,1382.5 158.0,1382.5 160.0,1382.5 162.0,1382.5 164.0,1382.5 166.0,1382.4 168.0,1382.4 170.0,1382.4 172.0,1382.3 174.0,1382.3 176.0,1382.3 178.0,1382.2 180.0,1382.1 182.0,1382.1 184.0,1382.0 186.0,1381.9 188.0,1381.9 190.0,1381.8 192.0,1381.7 194.0,1381.6 196.0,1381.5 198.0,1381.4 200.0,1381.3 202.0,1381.1 204.0,1381.0 206.0,1380.8 208.0,1380.7 210.0,1380.5 212.0,1380.4 214.0,1380.2 216.0,1380.0 218.0,1379.8 220.0,1379.7 222.0,1379.5 224.0,1379.3 226.0,1379.1 228.0,1378.9 230.0,1378.7 232.0,1378.4 234.0,1378.2 236.0,1378.0 238.0,1377.8 240.0,1377.6 242.0,1377.3 244.0,1377.1 246.0,1376.9 248.0,1376.6 250.0,1376.4 252.0,1376.2 254.0,1375.9 256.0,1375.7 258.0,1375.5 260.0,1375.2 262.0,1375.0 264.0,1374.7 266.0,1374.4 268.0,1374.2 270.0,1373.9 272.0,1373.6 274.0,1373.3 276.0,1373.0 278.0,1372.7 280.0,1372.4 282.0,1372.0 284.0,1371.7 286.0,1371.3 288.0,1370.9 290.0,1370.5 292.0,1370.1 294.0,1369.6 296.0,1369.1 298.0,1368.6 300.0,1368.1 302.0,1367.6 304.0,1367.0 306.0,1366.4 308.0,1365.8 310.0,1365.1 312.0,1364.4 314.0,1363.7 316.0,1363.0 318.0,1362.2 320.0,1361.5 322.0,1360.6 324.0,1359.8 326.0,1359.0 328.0,1358.1 330.0,1357.2 332.0,1356.3 334.0,1355.4 336.0,1354.5 338.0,1353.5 340.0,1352.6 342.0,1351.6 344.0,1350.6 346.0,1349.6 348.0,1348.7 350.0,1347.7 352.0,1346.7 354.0,1345.7 356.0,1344.7 358.0,1343.7 360.0,1342.7 362.0,1341.7 364.0,1340.7 366.0,1339.7 368.0,1338.7 370.0,1337.6 372.0,1336.6 374.0,1335.6 376.0,1334.6 378.0,1333.6 380.0,1332.6 382.0,1331.5 384.0,1330.5 386.0,1329.4 388.0,1328.4 390.0,1327.3 392.0,1326.2 394.0,1325.1 396.0,1324.0 398.0,1322.8 400.0,1321.7 402.0,1320.5 404.0,1319.3 406.0,1318.1 408.0,1316.9 410.0,1315.7 412.0,1314.4 414.0,1313.1 416.0,1311.8 418.0,1310.5 420.0,1309.1 422.0,1307.8 424.0,1306.4 426.0,1304.9 428.0,1303.5 430.0,1302.0 432.0,1300.5 434.0,1298.9 436.0,1297.4 438.0,1295.8 440.0,1294.1 442.0,1292.5 444.0,1290.8 446.0,1289.1 448.0,1287.3 450.0,1285.6 452.0,1283.8 454.0,1281.9 456.0,1280.1 458.0,1278.2 460.0,1276.3 462.0,1274.3 464.0,1272.4 466.0,1270.4 468.0,1268.4 470.0,1266.4 472.0,1264.4 474.0,1262.3 476.0,1260.3 478.0,1258.2 480.0,1256.2 482.0,1254.1 484.0,1252.0 486.0,1250.0 488.0,1247.9 490.0,1245.9 492.0,1243.8 494.0,1241.8 496.0,1239.8 498.0,1237.9 500.0,1235.9 502.0,1234.0 504.0,1232.2 506.0,1230.4 508.0,1228.6 510.0,1226.9 512.0,1225.2 514.0,1223.6 516.0,1222.1 518.0,1220.7 520.0,1219.3 522.0,1218.1 524.0,1217.0 526.0,1215.9 528.0,1215.0 530.0,1214.2 532.0,1213.4 534.0,1212.8 536.0,1212.3 538.0,1211.8 540.0,1211.5 542.0,1211.2 544.0,1211.1 546.0,1211.0 548.0,1211.0 550.0,1211.0 552.0,1211.1 554.0,1211.3 556.0,1211.5 558.0,1211.8 560.0,1212.1 562.0,1212.5 564.0,1213.0 566.0,1213.5 568.0,1214.0 570.0,1214.5 572.0,1215.1 574.0,1215.8 576.0,1216.4 578.0,1217.1 580.0,1217.8 582.0,1218.5 584.0,1219.3 586.0,1220.0 588.0,1220.8 590.0,1221.6 592.0,1222.4 594.0,1223.2 596.0,1224.0 598.0,1224.8 600.0,1225.6 602.0,1226.4 604.0,1227.2 606.0,1228.0 608.0,1228.8 610.0,1229.6 612.0,1230.4 614.0,1231.1 616.0,1231.9 618.0,1232.7 620.0,1233.4 622.0,1234.1 624.0,1234.8 626.0,1235.5 628.0,1236.2 630.0,1236.8 632.0,1237.5 634.0,1238.1 636.0,1238.7 638.0,1239.3 640.0,1239.9 642.0,1240.4 644.0,1241.0 646.0,1241.5 648.0,1242.0 650.0,1242.6 652.0,1243.1 654.0,1243.6 656.0,1244.1 658.0,1244.6 660.0,1245.1 662.0,1245.6 664.0,1246.1 666.0,1246.7 668.0,1247.2 670.0,1247.7 672.0,1248.3 674.0,1248.9 676.0,1249.5 678.0,1250.2 680.0,1250.8 682.0,1251.5 684.0,1252.2 686.0,1253.0 688.0,1253.8 690.0,1254.7 692.0,1255.5 694.0,1256.4 696.0,1257.4 698.0,1258.3 700.0,1259.3 702.0,1260.4 704.0,1261.4 706.0,1262.6 708.0,1263.7 710.0,1264.9 712.0,1266.1 714.0,1267.3 716.0,1268.6 718.0,1269.9 720.0,1271.3 722.0,1272.7 724.0,1274.1 726.0,1275.5 728.0,1277.0 730.0,1278.5 732.0,1280.1 734.0,1281.6 736.0,1283.2 738.0,1284.9 740.0,1286.5 742.0,1288.2 744.0,1289.9 746.0,1291.7 748.0,1293.5 750.0,1295.2 752.0,1297.0 754.0,1298.8 756.0,1300.6 758.0,1302.3 760.0,1304.1 762.0,1305.8 764.0,1307.6 766.0,1309.3 768.0,1311.0 770.0,1312.7 772.0,1314.4 774.0,1316.0 776.0,1317.7 778.0,1319.3 780.0,1320.8 782.0,1322.4 784.0,1323.9 786.0,1325.3 788.0,1326.8 790.0,1328.2 792.0,1329.5 794.0,1330.9 796.0,1332.1 798.0,1333.4 800.0,1334.6 802.0,1335.8 804.0,1337.0 806.0,1338.1 808.0,1339.2 810.0,1340.2 812.0,1341.3 814.0,1342.3 816.0,1343.3 818.0,1344.2 820.0,1345.1 822.0,1346.0 824.0,1346.9 826.0,1347.7 828.0,1348.5 830.0,1349.3 832.0,1350.1 834.0,1350.8 836.0,1351.6 838.0,1352.3 840.0,1352.9 842.0,1353.6 844.0,1354.2 846.0,1354.8 848.0,1355.4 850.0,1356.0 852.0,1356.6 854.0,1357.1 856.0,1357.6 858.0,1358.1 860.0,1358.6 862.0,1359.1 864.0,1359.5 866.0,1360.0 868.0,1360.4 870.0,1360.8 872.0,1361.2 874.0,1361.6 876.0,1361.9 878.0,1362.3 880.0,1362.6 882.0,1362.9 884.0,1363.2 886.0,1363.5 888.0,1363.8 890.0,1364.1 892.0,1364.3 894.0,1364.5 896.0,1364.8 898.0,1364.9 900.0,1365.1 902.0,1365.2 904.0,1365.4 906.0,1365.5 908.0,1365.5 910.0,1365.6 912.0,1365.6 914.0,1365.6 916.0,1365.6 918.0,1365.5 920.0,1365.4 922.0,1365.3 924.0,1365.2 926.0,1365.0 928.0,1364.9 930.0,1364.6 932.0,1364.4 934.0,1364.2 936.0,1363.9 938.0,1363.6 940.0,1363.2 942.0,1362.9 944.0,1362.5 946.0,1362.1 948.0,1361.6 950.0,1361.2 952.0,1360.7 954.0,1360.2 956.0,1359.6 958.0,1359.0 960.0,1358.4 962.0,1357.8 964.0,1357.2 966.0,1356.5 968.0,1355.8 970.0,1355.0 972.0,1354.3 974.0,1353.5 976.0,1352.7 978.0,1351.9 980.0,1351.0 982.0,1350.1 984.0,1349.2 986.0,1348.3 988.0,1347.4 990.0,1346.5 992.0,1345.5 994.0,1344.5 996.0,1343.5 998.0,1342.5 1000.0,1341.4 1002.0,1340.4 1004.0,1339.3 1006.0,1338.1 1008.0,1337.0 1010.0,1335.8 1012.0,1334.6 1014.0,1333.3 1016.0,1332.1 1018.0,1330.8 1020.0,1329.4 1022.0,1328.0 1024.0,1326.6 1026.0,1325.2 1028.0,1323.7 1030.0,1322.2 1032.0,1320.6 1034.0,1319.0 1036.0,1317.4 1038.0,1315.7 1040.0,1313.9 1042.0,1312.2 1044.0,1310.3 1046.0,1308.5 1048.0,1306.6 1050.0,1304.6 1052.0,1302.6 1054.0,1300.6 1056.0,1298.5 1058.0,1296.4 1060.0,1294.2 1062.0,1292.0 1064.0,1289.7 1066.0,1287.4 1068.0,1285.1 1070.0,1282.7 1072.0,1280.3 1074.0,1277.8 1076.0,1275.3 1078.0,1272.8 1080.0,1270.2 1082.0,1267.6 1084.0,1265.0 1086.0,1262.3 1088.0,1259.6 1090.0,1256.9 1092.0,1254.1 1094.0,1251.3 1096.0,1248.5 1098.0,1245.7 1100.0,1242.8 1102.0,1239.9 1104.0,1237.0 1106.0,1234.1 1108.0,1231.2 1110.0,1228.2 1112.0,1225.2 1114.0,1222.2 1116.0,1219.2 1118.0,1216.2 1120.0,1213.1 1122.0,1210.1 1124.0,1207.0 1126.0,1204.0 1128.0,1200.9 1130.0,1197.9 1132.0,1194.8 1134.0,1191.8 1136.0,1188.8 1138.0,1185.8 1140.0,1182.8 1142.0,1179.9 1144.0,1177.0 1146.0,1174.1 1148.0,1171.3 1150.0,1168.5 1152.0,1165.8 1154.0,1163.2 1156.0,1160.6 1158.0,1158.1 1160.0,1155.7 1162.0,1153.4 1164.0,1151.2 1166.0,1149.0 1168.0,1147.0 1170.0,1145.1 1172.0,1143.2 1174.0,1141.5 1176.0,1139.9 1178.0,1138.4 1180.0,1137.0 1182.0,1135.8 1184.0,1134.6 1186.0,1133.6 1188.0,1132.7 1190.0,1131.9 1192.0,1131.2 1194.0,1130.5 1196.0,1130.0 1198.0,1129.6 1200.0,1129.3 1202.0,1129.0 1204.0,1128.9 1206.0,1128.9 1208.0,1128.9 1210.0,1129.0 1212.0,1129.3 1214.0,1129.6 1216.0,1129.9 1218.0,1130.4 1220.0,1130.9 1222.0,1131.5 1224.0,1132.2 1226.0,1132.9 1228.0,1133.7 1230.0,1134.5 1232.0,1135.4 1234.0,1136.3 1236.0,1137.3 1238.0,1138.3 1240.0,1139.3 1242.0,1140.4 1244.0,1141.5 1246.0,1142.6 1248.0,1143.7 1250.0,1144.9 1252.0,1146.0 1254.0,1147.2 1256.0,1148.3 1258.0,1149.5 1260.0,1150.6 1262.0,1151.7 1264.0,1152.9 1266.0,1154.0 1268.0,1155.1 1270.0,1156.2 1272.0,1157.3 1274.0,1158.4 1276.0,1159.5 1278.0,1160.5 1280.0,1161.6 1282.0,1162.6 1284.0,1163.6 1286.0,1164.6 1288.0,1165.5 1290.0,1166.5 1292.0,1167.4 1294.0,1168.3 1296.0,1169.2 1298.0,1170.1 1300.0,1170.9 1302.0,1171.7 1304.0,1172.5 1306.0,1173.3 1308.0,1174.0 1310.0,1174.7 1312.0,1175.4 1314.0,1176.0 1316.0,1176.6 1318.0,1177.2 1320.0,1177.8 1322.0,1178.4 1324.0,1179.0 1326.0,1179.5 1328.0,1180.1 1330.0,1180.6 1332.0,1181.1 1334.0,1181.7 1336.0,1182.2 1338.0,1182.7 1340.0,1183.2 1342.0,1183.8 1344.0,1184.3 1346.0,1184.9 1348.0,1185.5 1350.0,1186.1 1352.0,1186.8 1354.0,1187.4 1356.0,1188.2 1358.0,1188.9 1360.0,1189.7 1362.0,1190.5 1364.0,1191.4 1366.0,1192.3 1368.0,1193.3 1370.0,1194.3 1372.0,1195.3 1374.0,1196.4 1376.0,1197.6 1378.0,1198.8 1380.0,1200.1 1382.0,1201.4 1384.0,1202.7 1386.0,1204.2 1388.0,1205.6 1390.0,1207.1 1392.0,1208.7 1394.0,1210.4 1396.0,1212.1 1398.0,1213.8 1400.0,1215.7 1402.0,1217.5 1404.0,1219.4 1406.0,1221.4 1408.0,1223.4 1410.0,1225.4 1412.0,1227.5 1414.0,1229.6 1416.0,1231.8 1418.0,1233.9 1420.0,1236.2 1422.0,1238.4 1424.0,1240.7 1426.0,1243.0 1428.0,1245.3 1430.0,1247.7 1432.0,1250.1 1434.0,1252.5 1436.0,1254.9 1438.0,1257.4 1440.0,1259.9 1442.0,1262.4 1444.0,1264.9 1446.0,1267.4 1448.0,1269.9 1450.0,1272.5 1452.0,1275.0 1454.0,1277.5 1456.0,1280.1 1458.0,1282.6 1460.0,1285.2 1462.0,1287.7 1464.0,1290.2 1466.0,1292.7 1468.0,1295.2 1470.0,1297.6 1472.0,1300.1 1474.0,1302.5 1476.0,1305.0 1478.0,1307.4 1480.0,1309.7 1482.0,1312.1 1484.0,1314.4 1486.0,1316.7 1488.0,1319.0 1490.0,1321.3 1492.0,1323.5 1494.0,1325.7 1496.0,1327.9 1498.0,1330.1 1500.0,1332.2 1502.0,1334.3 1504.0,1336.4 1506.0,1338.4 1508.0,1340.4 1510.0,1342.4 1512.0,1344.3 1514.0,1346.2 1516.0,1348.1 1518.0,1349.9 1520.0,1351.7 1522.0,1353.5 1524.0,1355.2 1526.0,1356.9 1528.0,1358.6 1530.0,1360.2 1532.0,1361.8 1534.0,1363.4 1536.0,1364.9 1538.0,1366.4 1540.0,1367.8 1542.0,1369.3 1544.0,1370.6 1546.0,1372.0 1548.0,1373.3 1550.0,1374.6 1552.0,1375.8 1554.0,1377.0 1556.0,1378.2 1558.0,1379.3 1560.0,1380.4 1562.0,1381.5 1564.0,1382.6 1566.0,1383.6 1568.0,1384.6 1570.0,1385.6 1572.0,1386.6 1574.0,1387.5 1576.0,1388.4 1578.0,1389.3 1580.0,1390.2 1582.0,1391.1 1584.0,1392.0 1586.0,1392.8 1588.0,1393.6 1590.0,1394.5 1592.0,1395.3 1594.0,1396.0 1596.0,1396.8 1598.0,1397.6 1600.0,1398.3 1602.0,1399.1 1604.0,1399.8 1606.0,1400.5 1608.0,1401.2 1610.0,1401.8 1612.0,1402.5 1614.0,1403.1 1616.0,1403.8 1618.0,1404.4 1620.0,1405.0 1622.0,1405.6 1624.0,1406.2 1626.0,1406.8 1628.0,1407.3 1630.0,1407.9 1632.0,1408.4 1634.0,1408.9 1636.0,1409.5 1638.0,1410.0 1640.0,1410.5 1642.0,1411.0 1644.0,1411.5 1646.0,1412.0 1648.0,1412.5 1650.0,1412.9 1652.0,1413.4 1654.0,1413.9 1656.0,1414.3 1658.0,1414.8 1660.0,1415.3 1662.0,1415.7 1664.0,1416.2 1666.0,1416.6 1668.0,1417.0 1670.0,1417.5 1672.0,1417.9 1674.0,1418.3 1676.0,1418.8 1678.0,1419.2 1680.0,1419.6 1682.0,1420.0 1684.0,1420.4 1686.0,1420.8 1688.0,1421.2 1690.0,1421.6 1692.0,1422.0 1694.0,1422.4 1696.0,1422.7 1698.0,1423.1 1700.0,1423.5 1702.0,1423.8 1704.0,1424.2 1706.0,1424.5 1708.0,1424.9 1710.0,1425.2 1712.0,1425.5 1714.0,1425.8 1716.0,1426.2 1718.0,1426.5 1720.0,1426.8 1722.0,1427.0 1724.0,1427.3 1726.0,1427.6 1728.0,1427.8 1730.0,1428.1 1732.0,1428.3 1734.0,1428.6 1736.0,1428.8 1738.0,1429.0 1740.0,1429.2 1742.0,1429.4 1744.0,1429.6 1746.0,1429.8 1748.0,1429.9 1750.0,1430.1 1752.0,1430.3 1754.0,1430.4 1756.0,1430.6 1758.0,1430.7 1760.0,1430.8 1762.0,1431.0 1764.0,1431.1 1766.0,1431.2 1768.0,1431.3 1770.0,1431.4 1772.0,1431.5 1774.0,1431.6 1776.0,1431.7 1778.0,1431.8 1780.0,1431.8 1782.0,1431.9 1784.0,1432.0 1786.0,1432.1 1788.0,1432.1 1790.0,1432.2 1792.0,1432.3 1794.0,1432.3 1796.0,1432.4 1798.0,1432.4 1800.0,1432.5 1802.0,1432.5 1804.0,1432.6 1806.0,1432.6 1808.0,1432.7 1810.0,1432.7 1812.0,1432.8 1814.0,1432.8 1816.0,1432.9 1818.0,1432.9 1820.0,1432.9 1822.0,1433.0 1824.0,1433.0 1826.0,1433.1 1828.0,1433.1 1830.0,1433.1 1832.0,1433.2 1834.0,1433.2 1836.0,1433.2 1838.0,1433.3 1840.0,1433.3 1842.0,1433.3 1844.0,1433.4 1846.0,1433.4 1848.0,1433.4 1850.0,1433.4 1852.0,1433.5 1854.0,1433.5 1856.0,1433.5 1858.0,1433.6 1860.0,1433.6 1862.0,1433.6 1864.0,1433.6 1866.0,1433.6 1868.0,1433.7 1870.0,1433.7 1872.0,1433.7 1874.0,1433.7 1876.0,1433.7 1878.0,1433.8 1880.0,1433.8 1882.0,1433.8 1884.0,1433.8 1886.0,1433.8 1888.0,1433.8 1890.0,1433.8 1892.0,1433.9 1894.0,1433.9 1896.0,1433.9 1898.0,1433.9 1900.0,1433.9 1902.0,1433.9 1904.0,1433.9 1906.0,1433.9 1908.0,1433.9 1910.0,1433.9 1912.0,1434.0 1914.0,1434.0 1916.0,1434.0 1918.0,1434.0 1920.0,1434.0 1922.0,1434.0 1924.0,1434.0 1926.0,1434.0 1928.0,1434.0 1930.0,1434.0 1932.0,1434.0 1934.0,1434.0 1936.0,1434.0 1938.0,1434.0 1940.0,1434.0 1942.0,1434.0 1944.0,1434.0 1945.0,1434.0" stroke="#FF0000" stroke-width="6" stroke-linecap="butt"/>
<polyline points="148.0,1390.5 150.0,1390.5 152.0,1390.5 154.0,1390.5 156.0,1390.6 158.0,1390.6 160.0,1390.6 162.0,1390.6 164.0,1390.6 166.0,1390.6 168.0,1390.6 170.0,1390.6 172.0,1390.7 174.0,1390.7 176.0,1390.7 178.0,1390.7 180.0,1390.7 182.0,1390.7 184.0,1390.7 186.0,1390.7 188.0,1390.8 190.0,1390.8 192.0,1390.8 194.0,1390.8 196.0,1390.8 198.0,1390.8 200.0,1390.8 202.0,1390.8 204.0,1390.9 206.0,1390.9 208.0,1390.9 210.0,1390.9 212.0,1390.9 214.0,1390.9 216.0,1390.9 218.0,1391.0 220.0,1391.0 222.0,1391.0 224.0,1391.0 226.0,1391.0 228.0,1391.0 230.0,1391.0 232.0,1391.1 234.0,1391.1 236.0,1391.1 238.0,1391.1 240.0,1391.1 242.0,1391.1 244.0,1391.1 246.0,1391.2 248.0,1391.2 250.0,1391.2 252.0,1391.2 254.0,1391.2 256.0,1391.2 258.0,1391.3 260.0,1391.3 262.0,1391.3 264.0,1391.3 266.0,1391.3 268.0,1391.3 270.0,1391.4 272.0,1391.4 274.0,1391.4 276.0,1391.4 278.0,1391.4 280.0,1391.4 282.0,1391.5 284.0,1391.5 286.0,1391.5 288.0,1391.5 290.0,1391.5 292.0,1391.5 294.0,1391.6 296.0,1391.6 298.0,1391.6 300.0,1391.6 302.0,1391.6 304.0,1391.7 306.0,1391.7 308.0,1391.7 310.0,1391.7 312.0,1391.7 314.0,1391.8 316.0,1391.8 318.0,1391.8 320.0,1391.8 322.0,1391.8 324.0,1391.9 326.0,1391.9 328.0,1391.9 330.0,1391.9 332.0,1391.9 334.0,1392.0 336.0,1392.0 338.0,1392.0 340.0,1392.0 342.0,1392.0 344.0,1392.1 346.0,1392.1 348.0,1392.1 350.0,1392.1 352.0,1392.2 354.0,1392.2 356.0,1392.2 358.0,1392.2 360.0,1392.2 362.0,1392.3 364.0,1392.3 366.0,1392.3 368.0,1392.3 370.0,1392.4 372.0,1392.4 374.0,1392.4 376.0,1392.4 378.0,1392.5 380.0,1392.5 382.0,1392.5 384.0,1392.5 386.0,1392.6 388.0,1392.6 390.0,1392.6 392.0,1392.7 394.0,1392.7 396.0,1392.7 398.0,1392.7 400.0,1392.8 402.0,1392.8 404.0,1392.8 406.0,1392.9 408.0,1392.9 410.0,1392.9 412.0,1392.9 414.0,1393.0 416.0,1393.0 418.0,1393.0 420.0,1393.1 422.0,1393.1 424.0,1393.1 426.0,1393.2 428.0,1393.2 430.0,1393.2 432.0,1393.3 434.0,1393.3 436.0,1393.4 438.0,1393.4 440.0,1393.4 442.0,1393.5 444.0,1393.5 446.0,1393.6 448.0,1393.6 450.0,1393.6 452.0,1393.7 454.0,1393.7 456.0,1393.8 458.0,1393.8 460.0,1393.9 462.0,1393.9 464.0,1394.0 466.0,1394.0 468.0,1394.1 470.0,1394.1 472.0,1394.2 474.0,1394.2 476.0,1394.3 478.0,1394.3 480.0,1394.4 482.0,1394.4 484.0,1394.5 486.0,1394.5 488.0,1394.6 490.0,1394.7 492.0,1394.7 494.0,1394.8 496.0,1394.8 498.0,1394.9 500.0,1395.0 502.0,1395.0 504.0,1395.1 506.0,1395.2 508.0,1395.2 510.0,1395.3 512.0,1395.4 514.0,1395.4 516.0,1395.5 518.0,1395.6 520.0,1395.6 522.0,1395.7 524.0,1395.8 526.0,1395.8 528.0,1395.9 530.0,1396.0 532.0,1396.1 534.0,1396.1 536.0,1396.2 538.0,1396.3 540.0,1396.4 542.0,1396.4 544.0,1396.5 546.0,1396.6 548.0,1396.7 550.0,1396.8 552.0,1396.8 554.0,1396.9 556.0,1397.0 558.0,1397.1 560.0,1397.2 562.0,1397.3 564.0,1397.3 566.0,1397.4 568.0,1397.5 570.0,1397.6 572.0,1397.7 574.0,1397.8 576.0,1397.9 578.0,1398.0 580.0,1398.1 582.0,1398.2 584.0,1398.2 586.0,1398.3 588.0,1398.4 590.0,1398.5 592.0,1398.6 594.0,1398.7 596.0,1398.8 598.0,1398.9 600.0,1399.0 602.0,1399.1 604.0,1399.2 606.0,1399.3 608.0,1399.4 610.0,1399.5 612.0,1399.6 614.0,1399.7 616.0,1399.8 618.0,1399.9 620.0,1400.0 622.0,1400.1 624.0,1400.2 626.0,1400.3 628.0,1400.4 630.0,1400.5 632.0,1400.7 634.0,1400.8 636.0,1400.9 638.0,1401.0 640.0,1401.1 642.0,1401.2 644.0,1401.3 646.0,1401.4 648.0,1401.5 650.0,1401.6 652.0,1401.7 654.0,1401.8 656.0,1401.9 658.0,1402.0 660.0,1402.1 662.0,1402.2 664.0,1402.4 666.0,1402.5 668.0,1402.6 670.0,1402.7 672.0,1402.8 674.0,1402.9 676.0,1403.0 678.0,1403.1 680.0,1403.2 682.0,1403.3 684.0,1403.4 686.0,1403.5 688.0,1403.6 690.0,1403.7 692.0,1403.8 694.0,1403.9 696.0,1404.0 698.0,1404.1 700.0,1404.2 702.0,1404.3 704.0,1404.4 706.0,1404.5 708.0,1404.6 710.0,1404.7 712.0,1404.8 714.0,1404.9 716.0,1405.0 718.0,1405.1 720.0,1405.1 722.0,1405.2 724.0,1405.3 726.0,1405.4 728.0,1405.5 730.0,1405.6 732.0,1405.7 734.0,1405.7 736.0,1405.8 738.0,1405.9 740.0,1406.0 742.0,1406.1 744.0,1406.1 746.0,1406.2 748.0,1406.3 750.0,1406.4 752.0,1406.4 754.0,1406.5 756.0,1406.6 758.0,1406.7 760.0,1406.7 762.0,1406.8 764.0,1406.8 766.0,1406.9 768.0,1407.0 770.0,1407.0 772.0,1407.1 774.0,1407.2 776.0,1407.2 778.0,1407.3 780.0,1407.3 782.0,1407.4 784.0,1407.4 786.0,1407.5 788.0,1407.5 790.0,1407.6 792.0,1407.6 794.0,1407.7 796.0,1407.7 798.0,1407.8 800.0,1407.8 802.0,1407.9 804.0,1407.9 806.0,1408.0 808.0,1408.0 810.0,1408.1 812.0,1408.1 814.0,1408.1 816.0,1408.2 818.0,1408.2 820.0,1408.3 822.0,1408.3 824.0,1408.3 826.0,1408.4 828.0,1408.4 830.0,1408.5 832.0,1408.5 834.0,1408.5 836.0,1408.6 838.0,1408.6 840.0,1408.6 842.0,1408.7 844.0,1408.7 846.0,1408.7 848.0,1408.8 850.0,1408.8 852.0,1408.8 854.0,1408.8 856.0,1408.9 858.0,1408.9 860.0,1408.9 862.0,1409.0 864.0,1409.0 866.0,1409.0 868.0,1409.0 870.0,1409.1 872.0,1409.1 874.0,1409.1 876.0,1409.1 878.0,1409.2 880.0,1409.2 882.0,1409.2 884.0,1409.3 886.0,1409.3 888.0,1409.3 890.0,1409.3 892.0,1409.4 894.0,1409.4 896.0,1409.4 898.0,1409.4 900.0,1409.5 902.0,1409.5 904.0,1409.5 906.0,1409.5 908.0,1409.6 910.0,1409.6 912.0,1409.6 914.0,1409.6 916.0,1409.7 918.0,1409.7 920.0,1409.7 922.0,1409.7 924.0,1409.8 926.0,1409.8 928.0,1409.8 930.0,1409.8 932.0,1409.9 934.0,1409.9 936.0,1409.9 938.0,1409.9 940.0,1410.0 942.0,1410.0 944.0,1410.0 946.0,1410.1 948.0,1410.1 950.0,1410.1 952.0,1410.1 954.0,1410.2 956.0,1410.2 958.0,1410.2 960.0,1410.3 962.0,1410.3 964.0,1410.3 966.0,1410.4 968.0,1410.4 970.0,1410.4 972.0,1410.5 974.0,1410.5 976.0,1410.5 978.0,1410.6 980.0,1410.6 982.0,1410.6 984.0,1410.7 986.0,1410.7 988.0,1410.8 990.0,1410.8 992.0,1410.8 994.0,1410.9 996.0,1410.9 998.0,1411.0 1000.0,1411.0 1002.0,1411.1 1004.0,1411.1 1006.0,1411.1 1008.0,1411.2 1010.0,1411.2 1012.0,1411.3 1014.0,1411.3 1016.0,1411.4 1018.0,1411.4 1020.0,1411.5 1022.0,1411.5 1024.0,1411.6 1026.0,1411.6 1028.0,1411.7 1030.0,1411.8 1032.0,1411.8 1034.0,1411.9 1036.0,1411.9 1038.0,1412.0 1040.0,1412.0 1042.0,1412.1 1044.0,1412.2 1046.0,1412.2 1048.0,1412.3 1050.0,1412.3 1052.0,1412.4 1054.0,1412.5 1056.0,1412.5 1058.0,1412.6 1060.0,1412.6 1062.0,1412.7 1064.0,1412.8 1066.0,1412.8 1068.0,1412.9 1070.0,1413.0 1072.0,1413.0 1074.0,1413.1 1076.0,1413.2 1078.0,1413.2 1080.0,1413.3 1082.0,1413.4 1084.0,1413.4 1086.0,1413.5 1088.0,1413.6 1090.0,1413.6 1092.0,1413.7 1094.0,1413.8 1096.0,1413.9 1098.0,1413.9 1100.0,1414.0 1102.0,1414.1 1104.0,1414.1 1106.0,1414.2 1108.0,1414.3 1110.0,1414.4 1112.0,1414.4 1114.0,1414.5 1116.0,1414.6 1118.0,1414.6 1120.0,1414.7 1122.0,1414.8 1124.0,1414.9 1126.0,1414.9 1128.0,1415.0 1130.0,1415.1 1132.0,1415.2 1134.0,1415.3 1136.0,1415.3 1138.0,1415.4 1140.0,1415.5 1142.0,1415.6 1144.0,1415.7 1146.0,1415.7 1148.0,1415.8 1150.0,1415.9 1152.0,1416.0 1154.0,1416.1 1156.0,1416.2 1158.0,1416.2 1160.0,1416.3 1162.0,1416.4 1164.0,1416.5 1166.0,1416.6 1168.0,1416.7 1170.0,1416.8 1172.0,1416.9 1174.0,1416.9 1176.0,1417.0 1178.0,1417.1 1180.0,1417.2 1182.0,1417.3 1184.0,1417.4 1186.0,1417.5 1188.0,1417.6 1190.0,1417.7 1192.0,1417.8 1194.0,1417.9 1196.0,1418.0 1198.0,1418.1 1200.0,1418.2 1202.0,1418.3 1204.0,1418.4 1206.0,1418.5 1208.0,1418.6 1210.0,1418.7 1212.0,1418.8 1214.0,1418.9 1216.0,1419.1 1218.0,1419.2 1220.0,1419.3 1222.0,1419.4 1224.0,1419.5 1226.0,1419.6 1228.0,1419.7 1230.0,1419.9 1232.0,1420.0 1234.0,1420.1 1236.0,1420.2 1238.0,1420.3 1240.0,1420.5 1242.0,1420.6 1244.0,1420.7 1246.0,1420.8 1248.0,1421.0 1250.0,1421.1 1252.0,1421.2 1254.0,1421.4 1256.0,1421.5 1258.0,1421.6 1260.0,1421.8 1262.0,1421.9 1264.0,1422.0 1266.0,1422.2 1268.0,1422.3 1270.0,1422.5 1272.0,1422.6 1274.0,1422.7 1276.0,1422.9 1278.0,1423.0 1280.0,1423.2 1282.0,1423.3 1284.0,1423.5 1286.0,1423.6 1288.0,1423.8 1290.0,1423.9 1292.0,1424.1 1294.0,1424.2 1296.0,1424.4 1298.0,1424.5 1300.0,1424.7 1302.0,1424.8 1304.0,1425.0 1306.0,1425.1 1308.0,1425.3 1310.0,1425.4 1312.0,1425.6 1314.0,1425.7 1316.0,1425.9 1318.0,1426.1 1320.0,1426.2 1322.0,1426.4 1324.0,1426.5 1326.0,1426.7 1328.0,1426.8 1330.0,1427.0 1332.0,1427.1 1334.0,1427.3 1336.0,1427.5 1338.0,1427.6 1340.0,1427.8 1342.0,1427.9 1344.0,1428.1 1346.0,1428.2 1348.0,1428.4 1350.0,1428.6 1352.0,1428.7 1354.0,1428.9 1356.0,1429.0 1358.0,1429.2 1360.0,1429.3 1362.0,1429.5 1364.0,1429.6 1366.0,1429.8 1368.0,1429.9 1370.0,1430.1 1372.0,1430.3 1374.0,1430.4 1376.0,1430.6 1378.0,1430.7 1380.0,1430.9 1382.0,1431.0 1384.0,1431.2 1386.0,1431.3 1388.0,1431.5 1390.0,1431.6 1392.0,1431.7 1394.0,1431.9 1396.0,1432.0 1398.0,1432.2 1400.0,1432.3 1402.0,1432.5 1404.0,1432.6 1406.0,1432.7 1408.0,1432.9 1410.0,1433.0 1412.0,1433.2 1414.0,1433.3 1416.0,1433.4 1418.0,1433.6 1420.0,1433.7 1422.0,1433.8 1424.0,1433.9 1426.0,1434.1 1428.0,1434.2 1430.0,1434.3 1432.0,1434.4 1434.0,1434.6 1436.0,1434.7 1438.0,1434.8 1440.0,1434.9 1442.0,1435.0 1444.0,1435.2 1446.0,1435.3 1448.0,1435.4 1450.0,1435.5 1452.0,1435.6 1454.0,1435.7 1456.0,1435.8 1458.0,1435.9 1460.0,1436.0 1462.0,1436.1 1464.0,1436.2 1466.0,1436.3 1468.0,1436.4 1470.0,1436.5 1472.0,1436.6 1474.0,1436.7 1476.0,1436.8 1478.0,1436.9 1480.0,1437.0 1482.0,1437.0 1484.0,1437.1 1486.0,1437.2 1488.0,1437.3 1490.0,1437.4 1492.0,1437.5 1494.0,1437.5 1496.0,1437.6 1498.0,1437.7 1500.0,1437.7 1502.0,1437.8 1504.0,1437.9 1506.0,1438.0 1508.0,1438.0 1510.0,1438.1 1512.0,1438.2 1514.0,1438.2 1516.0,1438.3 1518.0,1438.3 1520.0,1438.4 1522.0,1438.5 1524.0,1438.5 1526.0,1438.6 1528.0,1438.6 1530.0,1438.7 1532.0,1438.7 1534.0,1438.8 1536.0,1438.8 1538.0,1438.9 1540.0,1438.9 1542.0,1439.0 1544.0,1439.0 1546.0,1439.1 1548.0,1439.1 1550.0,1439.2 1552.0,1439.2 1554.0,1439.3 1556.0,1439.3 1558.0,1439.3 1560.0,1439.4 1562.0,1439.4 1564.0,1439.5 1566.0,1439.5 1568.0,1439.5 1570.0,1439.6 1572.0,1439.6 1574.0,1439.6 1576.0,1439.7 1578.0,1439.7 1580.0,1439.7 1582.0,1439.8 1584.0,1439.8 1586.0,1439.8 1588.0,1439.8 1590.0,1439.9 1592.0,1439.9 1594.0,1439.9 1596.0,1439.9 1598.0,1440.0 1600.0,1440.0 1602.0,1440.0 1604.0,1440.0 1606.0,1440.1 1608.0,1440.1 1610.0,1440.1 1612.0,1440.1 1614.0,1440.1 1616.0,1440.2 1618.0,1440.2 1620.0,1440.2 1622.0,1440.2 1624.0,1440.2 1626.0,1440.2 1628.0,1440.3 1630.0,1440.3 1632.0,1440.3 1634.0,1440.3 1636.0,1440.3 1638.0,1440.3 1640.0,1440.3 1642.0,1440.4 1644.0,1440.4 1646.0,1440.4 1648.0,1440.4 1650.0,1440.4 1652.0,1440.4 1654.0,1440.4 1656.0,1440.4 1658.0,1440.4 1660.0,1440.5 1662.0,1440.5 1664.0,1440.5 1666.0,1440.5 1668.0,1440.5 1670.0,1440.5 1672.0,1440.5 1674.0,1440.5 1676.0,1440.5 1678.0,1440.5 1680.0,1440.5 1682.0,1440.6 1684.0,1440.6 1686.0,1440.6 1688.0,1440.6 1690.0,1440.6 1692.0,1440.6 1694.0,1440.6 1696.0,1440.6 1698.0,1440.6 1700.0,1440.6 1702.0,1440.6 1704.0,1440.6 1706.0,1440.6 1708.0,1440.7 1710.0,1440.7 1712.0,1440.7 1714.0,1440.7 1716.0,1440.7 1718.0,1440.7 1720.0,1440.7 1722.0,1440.7 1724.0,1440.7 1726.0,1440.7 1728.0,1440.7 1730.0,1440.7 1732.0,1440.7 1734.0,1440.7 1736.0,1440.7 1738.0,1440.7 1740.0,1440.8 1742.0,1440.8 1744.0,1440.8 1746.0,1440.8 1748.0,1440.8 1750.0,1440.8 1752.0,1440.8 1754.0,1440.8 1756.0,1440.8 1758.0,1440.8 1760.0,1440.8 1762.0,1440.8 1764.0,1440.8 1766.0,1440.8 1768.0,1440.8 1770.0,1440.8 1772.0,1440.8 1774.0,1440.8 1776.0,1440.8 1778.0,1440.8 1780.0,1440.8 1782.0,1440.8 1784.0,1440.9 1786.0,1440.9 1788.0,1440.9 1790.0,1440.9 1792.0,1440.9 1794.0,1440.9 1796.0,1440.9 1798.0,1440.9 1800.0,1440.9 1802.0,1440.9 1804.0,1440.9 1806.0,1440.9 1808.0,1440.9 1810.0,1440.9 1812.0,1440.9 1814.0,1440.9 1816.0,1440.9 1818.0,1440.9 1820.0,1440.9 1822.0,1440.9 1824.0,1440.9 1826.0,1440.9 1828.0,1440.9 1830.0,1440.9 1832.0,1440.9 1834.0,1440.9 1836.0,1440.9 1838.0,1440.9 1840.0,1440.9 1842.0,1440.9 1844.0,1440.9 1846.0,1440.9 1848.0,1440.9 1850.0,1440.9 1852.0,1440.9 1854.0,1440.9 1856.0,1441.0 1858.0,1441.0 1860.0,1441.0 1862.0,1441.0 1864.0,1441.0 1866.0,1441.0 1868.0,1441.0 1870.0,1441.0 1872.0,1441.0 1874.0,1441.0 1876.0,1441.0 1878.0,1441.0 1880.0,1441.0 1882.0,1441.0 1884.0,1441.0 1886.0,1441.0 1888.0,1441.0 1890.0,1441.0 1892.0,1441.0 1894.0,1441.0 1896.0,1441.0 1898.0,1441.0 1900.0,1441.0 1902.0,1441.0 1904.0,1441.0 1906.0,1441.0 1908.0,1441.0 1910.0,1441.0 1912.0,1441.0 1914.0,1441.0 1916.0,1441.0 1918.0,1441.0 1920.0,1441.0 1922.0,1441.0 1924.0,1441.0 1926.0,1441.0 1928.0,1441.0 1930.0,1441.0 1932.0,1441.0 1934.0,1441.0 1936.0,1441.0 1938.0,1441.0 1940.0,1441.0 1942.0,1441.0 1944.0,1441.0 1945.0,1441.0" stroke="#0000FF" stroke-width="6" stroke-linecap="butt"/>
<polyline points="148.0,1384.1 150.0,1384.1 152.0,1384.1 154.0,1384.0 156.0,1384.0 158.0,1384.0 160.0,1384.0 162.0,1384.0 164.0,1383.9 166.0,1383.9 168.0,1383.9 170.0,1383.8 172.0,1383.8 174.0,1383.7 176.0,1383.7 178.0,1383.6 180.0,1383.6 182.0,1383.5 184.0,1383.4 186.0,1383.4 188.0,1383.3 190.0,1383.2 192.0,1383.1 194.0,1383.0 196.0,1382.9 198.0,1382.8 200.0,1382.6 202.0,1382.5 204.0,1382.4 206.0,1382.2 208.0,1382.1 210.0,1381.9 212.0,1381.7 214.0,1381.6 216.0,1381.4 218.0,1381.2 220.0,1381.0 222.0,1380.8 224.0,1380.6 226.0,1380.4 228.0,1380.2 230.0,1380.0 232.0,1379.8 234.0,1379.6 236.0,1379.3 238.0,1379.1 240.0,1378.9 242.0,1378.6 244.0,1378.4 246.0,1378.2 248.0,1377.9 250.0,1377.7 252.0,1377.4 254.0,1377.2 256.0,1377.0 258.0,1376.7 260.0,1376.5 262.0,1376.2 264.0,1375.9 266.0,1375.7 268.0,1375.4 270.0,1375.1 272.0,1374.9 274.0,1374.6 276.0,1374.3 278.0,1374.0 280.0,1373.7 282.0,1373.3 284.0,1373.0 286.0,1372.7 288.0,1372.3 290.0,1372.0 292.0,1371.6 294.0,1371.2 296.0,1370.8 298.0,1370.3 300.0,1369.9 302.0,1369.5 304.0,1369.0 306.0,1368.5 308.0,1368.0 310.0,1367.4 312.0,1366.9 314.0,1366.3 316.0,1365.7 318.0,1365.1 320.0,1364.5 322.0,1363.9 324.0,1363.2 326.0,1362.5 328.0,1361.8 330.0,1361.1 332.0,1360.4 334.0,1359.6 336.0,1358.8 338.0,1358.0 340.0,1357.2 342.0,1356.4 344.0,1355.6 346.0,1354.7 348.0,1353.8 350.0,1353.0 352.0,1352.1 354.0,1351.2 356.0,1350.3 358.0,1349.4 360.0,1348.4 362.0,1347.5 364.0,1346.6 366.0,1345.7 368.0,1344.8 370.0,1343.8 372.0,1342.9 374.0,1342.0 376.0,1341.0 378.0,1340.0 380.0,1339.0 382.0,1338.0 384.0,1337.0 386.0,1336.0 388.0,1334.9 390.0,1333.8 392.0,1332.7 394.0,1331.6 396.0,1330.4 398.0,1329.2 400.0,1328.0 402.0,1326.8 404.0,1325.6 406.0,1324.3 408.0,1323.0 410.0,1321.6 412.0,1320.3 414.0,1318.9 416.0,1317.5 418.0,1316.0 420.0,1314.6 422.0,1313.1 424.0,1311.6 426.0,1310.0 428.0,1308.4 430.0,1306.8 432.0,1305.2 434.0,1303.6 436.0,1301.9 438.0,1300.3 440.0,1298.6 442.0,1296.9 444.0,1295.2 446.0,1293.4 448.0,1291.7 450.0,1290.0 452.0,1288.2 454.0,1286.4 456.0,1284.7 458.0,1282.9 460.0,1281.1 462.0,1279.4 464.0,1277.6 466.0,1275.8 468.0,1274.1 470.0,1272.3 472.0,1270.6 474.0,1268.9 476.0,1267.2 478.0,1265.5 480.0,1263.8 482.0,1262.2 484.0,1260.6 486.0,1259.0 488.0,1257.5 490.0,1256.0 492.0,1254.5 494.0,1253.1 496.0,1251.7 498.0,1250.4 500.0,1249.1 502.0,1247.9 504.0,1246.8 506.0,1245.7 508.0,1244.7 510.0,1243.7 512.0,1242.8 514.0,1242.0 516.0,1241.3 518.0,1240.6 520.0,1240.1 522.0,1239.6 524.0,1239.2 526.0,1238.9 528.0,1238.7 530.0,1238.5 532.0,1238.5 534.0,1238.5 536.0,1238.7 538.0,1238.9 540.0,1239.2 542.0,1239.7 544.0,1240.2 546.0,1240.8 548.0,1241.5 550.0,1242.2 552.0,1243.1 554.0,1244.0 556.0,1245.0 558.0,1246.1 560.0,1247.3 562.0,1248.6 564.0,1249.9 566.0,1251.3 568.0,1252.7 570.0,1254.3 572.0,1255.8 574.0,1257.5 576.0,1259.2 578.0,1260.9 580.0,1262.7 582.0,1264.5 584.0,1266.3 586.0,1268.2 588.0,1270.2 590.0,1272.1 592.0,1274.1 594.0,1276.1 596.0,1278.1 598.0,1280.1 600.0,1282.2 602.0,1284.2 604.0,1286.2 606.0,1288.3 608.0,1290.3 610.0,1292.4 612.0,1294.4 614.0,1296.4 616.0,1298.4 618.0,1300.4 620.0,1302.4 622.0,1304.3 624.0,1306.2 626.0,1308.1 628.0,1309.9 630.0,1311.7 632.0,1313.5 634.0,1315.2 636.0,1316.9 638.0,1318.6 640.0,1320.2 642.0,1321.8 644.0,1323.4 646.0,1324.9 648.0,1326.4 650.0,1327.9 652.0,1329.4 654.0,1330.8 656.0,1332.3 658.0,1333.7 660.0,1335.1 662.0,1336.5 664.0,1337.9 666.0,1339.3 668.0,1340.6 670.0,1342.0 672.0,1343.3 674.0,1344.6 676.0,1345.9 678.0,1347.2 680.0,1348.5 682.0,1349.8 684.0,1351.0 686.0,1352.2 688.0,1353.5 690.0,1354.6 692.0,1355.8 694.0,1357.0 696.0,1358.1 698.0,1359.2 700.0,1360.3 702.0,1361.3 704.0,1362.4 706.0,1363.4 708.0,1364.3 710.0,1365.3 712.0,1366.2 714.0,1367.2 716.0,1368.0 718.0,1368.9 720.0,1369.7 722.0,1370.5 724.0,1371.3 726.0,1372.1 728.0,1372.8 730.0,1373.5 732.0,1374.2 734.0,1374.9 736.0,1375.6 738.0,1376.2 740.0,1376.8 742.0,1377.5 744.0,1378.1 746.0,1378.6 748.0,1379.2 750.0,1379.8 752.0,1380.4 754.0,1380.9 756.0,1381.5 758.0,1382.0 760.0,1382.5 762.0,1383.1 764.0,1383.6 766.0,1384.1 768.0,1384.6 770.0,1385.1 772.0,1385.6 774.0,1386.1 776.0,1386.6 778.0,1387.1 780.0,1387.5 782.0,1388.0 784.0,1388.5 786.0,1388.9 788.0,1389.3 790.0,1389.8 792.0,1390.2 794.0,1390.6 796.0,1391.1 798.0,1391.5 800.0,1391.9 802.0,1392.3 804.0,1392.7 806.0,1393.0 808.0,1393.4 810.0,1393.8 812.0,1394.2 814.0,1394.5 816.0,1394.9 818.0,1395.2 820.0,1395.5 822.0,1395.8 824.0,1396.2 826.0,1396.5 828.0,1396.8 830.0,1397.1 832.0,1397.4 834.0,1397.6 836.0,1397.9 838.0,1398.2 840.0,1398.5 842.0,1398.7 844.0,1399.0 846.0,1399.2 848.0,1399.5 850.0,1399.7 852.0,1400.0 854.0,1400.2 856.0,1400.5 858.0,1400.7 860.0,1400.9 862.0,1401.2 864.0,1401.4 866.0,1401.6 868.0,1401.8 870.0,1402.1 872.0,1402.3 874.0,1402.5 876.0,1402.7 878.0,1402.9 880.0,1403.1 882.0,1403.2 884.0,1403.4 886.0,1403.6 888.0,1403.8 890.0,1403.9 892.0,1404.1 894.0,1404.2 896.0,1404.4 898.0,1404.5 900.0,1404.7 902.0,1404.8 904.0,1405.0 906.0,1405.1 908.0,1405.2 910.0,1405.3 912.0,1405.5 914.0,1405.6 916.0,1405.7 918.0,1405.8 920.0,1405.9 922.0,1406.0 924.0,1406.1 926.0,1406.2 928.0,1406.3 930.0,1406.4 932.0,1406.5 934.0,1406.6 936.0,1406.7 938.0,1406.8 940.0,1406.8 942.0,1406.9 944.0,1407.0 946.0,1407.1 948.0,1407.2 950.0,1407.3 952.0,1407.3 954.0,1407.4 956.0,1407.5 958.0,1407.6 960.0,1407.6 962.0,1407.7 964.0,1407.8 966.0,1407.9 968.0,1407.9 970.0,1408.0 972.0,1408.1 974.0,1408.2 976.0,1408.2 978.0,1408.3 980.0,1408.4 982.0,1408.4 984.0,1408.5 986.0,1408.6 988.0,1408.6 990.0,1408.7 992.0,1408.8 994.0,1408.8 996.0,1408.9 998.0,1408.9 1000.0,1409.0 1002.0,1409.1 1004.0,1409.1 1006.0,1409.2 1008.0,1409.3 1010.0,1409.3 1012.0,1409.4 1014.0,1409.4 1016.0,1409.5 1018.0,1409.6 1020.0,1409.6 1022.0,1409.7 1024.0,1409.7 1026.0,1409.8 1028.0,1409.9 1030.0,1409.9 1032.0,1410.0 1034.0,1410.0 1036.0,1410.1 1038.0,1410.1 1040.0,1410.2 1042.0,1410.3 1044.0,1410.3 1046.0,1410.4 1048.0,1410.4 1050.0,1410.5 1052.0,1410.6 1054.0,1410.6 1056.0,1410.7 1058.0,1410.7 1060.0,1410.8 1062.0,1410.9 1064.0,1410.9 1066.0,1411.0 1068.0,1411.0 1070.0,1411.1 1072.0,1411.2 1074.0,1411.2 1076.0,1411.3 1078.0,1411.4 1080.0,1411.4 1082.0,1411.5 1084.0,1411.6 1086.0,1411.6 1088.0,1411.7 1090.0,1411.8 1092.0,1411.8 1094.0,1411.9 1096.0,1412.0 1098.0,1412.0 1100.0,1412.1 1102.0,1412.2 1104.0,1412.2 1106.0,1412.3 1108.0,1412.4 1110.0,1412.5 1112.0,1412.5 1114.0,1412.6 1116.0,1412.7 1118.0,1412.8 1120.0,1412.9 1122.0,1412.9 1124.0,1413.0 1126.0,1413.1 1128.0,1413.2 1130.0,1413.3 1132.0,1413.3 1134.0,1413.4 1136.0,1413.5 1138.0,1413.6 1140.0,1413.7 1142.0,1413.8 1144.0,1413.9 1146.0,1414.0 1148.0,1414.1 1150.0,1414.1 1152.0,1414.2 1154.0,1414.3 1156.0,1414.4 1158.0,1414.5 1160.0,1414.6 1162.0,1414.7 1164.0,1414.8 1166.0,1414.9 1168.0,1415.0 1170.0,1415.1 1172.0,1415.2 1174.0,1415.3 1176.0,1415.4 1178.0,1415.5 1180.0,1415.7 1182.0,1415.8 1184.0,1415.9 1186.0,1416.0 1188.0,1416.1 1190.0,1416.2 1192.0,1416.3 1194.0,1416.4 1196.0,1416.6 1198.0,1416.7 1200.0,1416.8 1202.0,1416.9 1204.0,1417.0 1206.0,1417.2 1208.0,1417.3 1210.0,1417.4 1212.0,1417.5 1214.0,1417.7 1216.0,1417.8 1218.0,1417.9 1220.0,1418.1 1222.0,1418.2 1224.0,1418.3 1226.0,1418.5 1228.0,1418.6 1230.0,1418.7 1232.0,1418.9 1234.0,1419.0 1236.0,1419.2 1238.0,1419.3 1240.0,1419.4 1242.0,1419.6 1244.0,1419.7 1246.0,1419.9 1248.0,1420.0 1250.0,1420.2 1252.0,1420.3 1254.0,1420.5 1256.0,1420.6 1258.0,1420.8 1260.0,1421.0 1262.0,1421.1 1264.0,1421.3 1266.0,1421.4 1268.0,1421.6 1270.0,1421.8 1272.0,1421.9 1274.0,1422.1 1276.0,1422.3 1278.0,1422.4 1280.0,1422.6 1282.0,1422.8 1284.0,1422.9 1286.0,1423.1 1288.0,1423.3 1290.0,1423.4 1292.0,1423.6 1294.0,1423.8 1296.0,1424.0 1298.0,1424.1 1300.0,1424.3 1302.0,1424.5 1304.0,1424.7 1306.0,1424.8 1308.0,1425.0 1310.0,1425.2 1312.0,1425.4 1314.0,1425.6 1316.0,1425.7 1318.0,1425.9 1320.0,1426.1 1322.0,1426.3 1324.0,1426.4 1326.0,1426.6 1328.0,1426.8 1330.0,1427.0 1332.0,1427.2 1334.0,1427.3 1336.0,1427.5 1338.0,1427.7 1340.0,1427.9 1342.0,1428.1 1344.0,1428.2 1346.0,1428.4 1348.0,1428.6 1350.0,1428.8 1352.0,1429.0 1354.0,1429.1 1356.0,1429.3 1358.0,1429.5 1360.0,1429.7 1362.0,1429.8 1364.0,1430.0 1366.0,1430.2 1368.0,1430.4 1370.0,1430.5 1372.0,1430.7 1374.0,1430.9 1376.0,1431.0 1378.0,1431.2 1380.0,1431.4 1382.0,1431.5 1384.0,1431.7 1386.0,1431.9 1388.0,1432.0 1390.0,1432.2 1392.0,1432.4 1394.0,1432.5 1396.0,1432.7 1398.0,1432.9 1400.0,1433.0 1402.0,1433.2 1404.0,1433.3 1406.0,1433.5 1408.0,1433.6 1410.0,1433.8 1412.0,1433.9 1414.0,1434.1 1416.0,1434.2 1418.0,1434.4 1420.0,1434.5 1422.0,1434.7 1424.0,1434.8 1426.0,1435.0 1428.0,1435.1 1430.0,1435.2 1432.0,1435.4 1434.0,1435.5 1436.0,1435.6 1438.0,1435.8 1440.0,1435.9 1442.0,1436.0 1444.0,1436.1 1446.0,1436.3 1448.0,1436.4 1450.0,1436.5 1452.0,1436.6 1454.0,1436.7 1456.0,1436.8 1458.0,1436.9 1460.0,1437.1 1462.0,1437.2 1464.0,1437.3 1466.0,1437.4 1468.0,1437.5 1470.0,1437.6 1472.0,1437.7 1474.0,1437.8 1476.0,1437.8 1478.0,1437.9 1480.0,1438.0 1482.0,1438.1 1484.0,1438.2 1486.0,1438.3 1488.0,1438.4 1490.0,1438.4 1492.0,1438.5 1494.0,1438.6 1496.0,1438.7 1498.0,1438.8 1500.0,1438.8 1502.0,1438.9 1504.0,1439.0 1506.0,1439.0 1508.0,1439.1 1510.0,1439.2 1512.0,1439.2 1514.0,1439.3 1516.0,1439.3 1518.0,1439.4 1520.0,1439.5 1522.0,1439.5 1524.0,1439.6 1526.0,1439.6 1528.0,1439.7 1530.0,1439.7 1532.0,1439.8 1534.0,1439.8 1536.0,1439.9 1538.0,1439.9 1540.0,1440.0 1542.0,1440.0 1544.0,1440.0 1546.0,1440.1 1548.0,1440.1 1550.0,1440.2 1552.0,1440.2 1554.0,1440.2 1556.0,1440.3 1558.0,1440.3 1560.0,1440.3 1562.0,1440.4 1564.0,1440.4 1566.0,1440.4 1568.0,1440.4 1570.0,1440.5 1572.0,1440.5 1574.0,1440.5 1576.0,1440.5 1578.0,1440.6 1580.0,1440.6 1582.0,1440.6 1584.0,1440.6 1586.0,1440.7 1588.0,1440.7 1590.0,1440.7 1592.0,1440.7 1594.0,1440.7 1596.0,1440.7 1598.0,1440.8 1600.0,1440.8 1602.0,1440.8 1604.0,1440.8 1606.0,1440.8 1608.0,1440.8 1610.0,1440.8 1612.0,1440.8 1614.0,1440.9 1616.0,1440.9 1618.0,1440.9 1620.0,1440.9 1622.0,1440.9 1624.0,1440.9 1626.0,1440.9 1628.0,1440.9 1630.0,1440.9 1632.0,1440.9 1634.0,1440.9 1636.0,1440.9 1638.0,1440.9 1640.0,1441.0 1642.0,1441.0 1644.0,1441.0 1646.0,1441.0 1648.0,1441.0 1650.0,1441.0 1652.0,1441.0 1654.0,1441.0 1656.0,1441.0 1658.0,1441.0 1660.0,1441.0 1662.0,1441.0 1664.0,1441.0 1666.0,1441.0 1668.0,1441.0 1670.0,1441.0 1672.0,1441.0 1674.0,1441.0 1676.0,1441.0 1678.0,1441.0 1680.0,1441.0 1682.0,1441.0 1684.0,1441.0 1686.0,1441.0 1688.0,1441.0 1690.0,1441.0 1692.0,1441.0 1694.0,1441.0 1696.0,1441.0 1698.0,1441.0 1700.0,1441.0 1702.0,1441.0 1704.0,1441.1 1706.0,1441.1 1708.0,1441.1 1710.0,1441.1 1712.0,1441.1 1714.0,1441.1 1716.0,1441.1 1718.0,1441.1 1720.0,1441.1 1722.0,1441.1 1724.0,1441.1 1726.0,1441.1 1728.0,1441.1 1730.0,1441.1 1732.0,1441.1 1734.0,1441.1 1736.0,1441.1 1738.0,1441.1 1740.0,1441.1 1742.0,1441.1 1744.0,1441.1 1746.0,1441.1 1748.0,1441.1 1750.0,1441.1 1752.0,1441.1 1754.0,1441.1 1756.0,1441.1 1758.0,1441.1 1760.0,1441.1 1762.0,1441.1 1764.0,1441.1 1766.0,1441.2 1768.0,1441.2 1770.0,1441.2 1772.0,1441.2 1774.0,1441.2 1776.0,1441.2 1778.0,1441.2 1780.0,1441.2 1782.0,1441.2 1784.0,1441.2 1786.0,1441.2 1788.0,1441.2 1790.0,1441.2 1792.0,1441.2 1794.0,1441.2 1796.0,1441.2 1798.0,1441.2 1800.0,1441.2 1802.0,1441.2 1804.0,1441.2 1806.0,1441.2 1808.0,1441.2 1810.0,1441.2 1812.0,1441.2 1814.0,1441.2 1816.0,1441.2 1818.0,1441.2 1820.0,1441.3 1822.0,1441.3 1824.0,1441.3 1826.0,1441.3 1828.0,1441.3 1830.0,1441.3 1832.0,1441.3 1834.0,1441.3 1836.0,1441.3 1838.0,1441.3 1840.0,1441.3 1842.0,1441.3 1844.0,1441.3 1846.0,1441.3 1848.0,1441.3 1850.0,1441.3 1852.0,1441.3 1854.0,1441.3 1856.0,1441.3 1858.0,1441.3 1860.0,1441.3 1862.0,1441.3 1864.0,1441.3 1866.0,1441.3 1868.0,1441.3 1870.0,1441.4 1872.0,1441.4 1874.0,1441.4 1876.0,1441.4 1878.0,1441.4 1880.0,1441.4 1882.0,1441.4 1884.0,1441.4 1886.0,1441.4 1888.0,1441.4 1890.0,1441.4 1892.0,1441.4 1894.0,1441.4 1896.0,1441.4 1898.0,1441.4 1900.0,1441.4 1902.0,1441.4 1904.0,1441.4 1906.0,1441.4 1908.0,1441.4 1910.0,1441.4 1912.0,1441.4 1914.0,1441.4 1916.0,1441.4 1918.0,1441.4 1920.0,1441.5 1922.0,1441.5 1924.0,1441.5 1926.0,1441.5 1928.0,1441.5 1930.0,1441.5 1932.0,1441.5 1934.0,1441.5 1936.0,1441.5 1938.0,1441.5 1940.0,1441.5 1942.0,1441.5 1944.0,1441.5 1945.0,1441.5" stroke="#808000" stroke-width="6" stroke-linecap="butt"/>
<polyline points="148.0,1391.9 150.0,1391.8 152.0,1391.8 154.0,1391.8 156.0,1391.7 158.0,1391.7 160.0,1391.6 162.0,1391.6 164.0,1391.6 166.0,1391.5 168.0,1391.5 170.0,1391.5 172.0,1391.4 174.0,1391.4 176.0,1391.3 178.0,1391.3 180.0,1391.3 182.0,1391.2 184.0,1391.2 186.0,1391.2 188.0,1391.1 190.0,1391.1 192.0,1391.0 194.0,1391.0 196.0,1391.0 198.0,1390.9 200.0,1390.9 202.0,1390.9 204.0,1390.8 206.0,1390.8 208.0,1390.8 210.0,1390.7 212.0,1390.7 214.0,1390.7 216.0,1390.6 218.0,1390.6 220.0,1390.6 222.0,1390.5 224.0,1390.5 226.0,1390.5 228.0,1390.4 230.0,1390.4 232.0,1390.4 234.0,1390.3 236.0,1390.3 238.0,1390.3 240.0,1390.2 242.0,1390.2 244.0,1390.2 246.0,1390.2 248.0,1390.1 250.0,1390.1 252.0,1390.1 254.0,1390.0 256.0,1390.0 258.0,1390.0 260.0,1390.0 262.0,1390.0 264.0,1389.9 266.0,1389.9 268.0,1389.9 270.0,1389.9 272.0,1389.9 274.0,1389.8 276.0,1389.8 278.0,1389.8 280.0,1389.8 282.0,1389.8 284.0,1389.8 286.0,1389.8 288.0,1389.8 290.0,1389.8 292.0,1389.8 294.0,1389.8 296.0,1389.8 298.0,1389.8 300.0,1389.8 302.0,1389.8 304.0,1389.8 306.0,1389.8 308.0,1389.8 310.0,1389.9 312.0,1389.9 314.0,1389.9 316.0,1389.9 318.0,1390.0 320.0,1390.0 322.0,1390.0 324.0,1390.1 326.0,1390.1 328.0,1390.1 330.0,1390.2 332.0,1390.2 334.0,1390.2 336.0,1390.3 338.0,1390.3 340.0,1390.4 342.0,1390.4 344.0,1390.5 346.0,1390.5 348.0,1390.6 350.0,1390.6 352.0,1390.6 354.0,1390.7 356.0,1390.7 358.0,1390.8 360.0,1390.8 362.0,1390.8 364.0,1390.9 366.0,1390.9 368.0,1390.9 370.0,1390.9 372.0,1391.0 374.0,1391.0 376.0,1391.0 378.0,1391.0 380.0,1391.0 382.0,1391.0 384.0,1391.1 386.0,1391.1 388.0,1391.2 390.0,1391.2 392.0,1391.2 394.0,1391.3 396.0,1391.3 398.0,1391.4 400.0,1391.4 402.0,1391.4 404.0,1391.5 406.0,1391.5 408.0,1391.6 410.0,1391.6 412.0,1391.7 414.0,1391.7 416.0,1391.8 418.0,1391.8 420.0,1391.9 422.0,1391.9 424.0,1392.0 426.0,1392.0 428.0,1392.1 430.0,1392.1 432.0,1392.2 434.0,1392.2 436.0,1392.3 438.0,1392.3 440.0,1392.4 442.0,1392.4 444.0,1392.5 446.0,1392.5 448.0,1392.6 450.0,1392.6 452.0,1392.7 454.0,1392.7 456.0,1392.8 458.0,1392.8 460.0,1392.9 462.0,1392.9 464.0,1393.0 466.0,1393.1 468.0,1393.1 470.0,1393.2 472.0,1393.2 474.0,1393.3 476.0,1393.3 478.0,1393.4 480.0,1393.4 482.0,1393.5 484.0,1393.6 486.0,1393.6 488.0,1393.7 490.0,1393.7 492.0,1393.8 494.0,1393.8 496.0,1393.9 498.0,1393.9 500.0,1394.0 502.0,1394.0 504.0,1394.1 506.0,1394.1 508.0,1394.2 510.0,1394.2 512.0,1394.3 514.0,1394.3 516.0,1394.4 518.0,1394.4 520.0,1394.5 522.0,1394.5 524.0,1394.6 526.0,1394.6 528.0,1394.7 530.0,1394.7 532.0,1394.8 534.0,1394.8 536.0,1394.9 538.0,1394.9 540.0,1394.9 542.0,1395.0 544.0,1395.0 546.0,1395.1 548.0,1395.1 550.0,1395.2 552.0,1395.2 554.0,1395.3 556.0,1395.3 558.0,1395.4 560.0,1395.4 562.0,1395.5 564.0,1395.5 566.0,1395.6 568.0,1395.6 570.0,1395.7 572.0,1395.7 574.0,1395.8 576.0,1395.8 578.0,1395.9 580.0,1395.9 582.0,1396.0 584.0,1396.1 586.0,1396.1 588.0,1396.2 590.0,1396.2 592.0,1396.3 594.0,1396.3 596.0,1396.4 598.0,1396.5 600.0,1396.5 602.0,1396.6 604.0,1396.7 606.0,1396.7 608.0,1396.8 610.0,1396.8 612.0,1396.9 614.0,1397.0 616.0,1397.0 618.0,1397.1 620.0,1397.2 622.0,1397.3 624.0,1397.3 626.0,1397.4 628.0,1397.5 630.0,1397.5 632.0,1397.6 634.0,1397.7 636.0,1397.7 638.0,1397.8 640.0,1397.9 642.0,1398.0 644.0,1398.0 646.0,1398.1 648.0,1398.2 650.0,1398.2 652.0,1398.3 654.0,1398.4 656.0,1398.5 658.0,1398.5 660.0,1398.6 662.0,1398.7 664.0,1398.7 666.0,1398.8 668.0,1398.9 670.0,1398.9 672.0,1399.0 674.0,1399.1 676.0,1399.1 678.0,1399.2 680.0,1399.3 682.0,1399.3 684.0,1399.4 686.0,1399.4 688.0,1399.5 690.0,1399.6 692.0,1399.6 694.0,1399.7 696.0,1399.7 698.0,1399.8 700.0,1399.8 702.0,1399.9 704.0,1399.9 706.0,1400.0 708.0,1400.0 710.0,1400.1 712.0,1400.1 714.0,1400.2 716.0,1400.2 718.0,1400.3 720.0,1400.3 722.0,1400.3 724.0,1400.4 726.0,1400.4 728.0,1400.4 730.0,1400.5 732.0,1400.5 734.0,1400.5 736.0,1400.5 738.0,1400.5 740.0,1400.6 742.0,1400.6 744.0,1400.6 746.0,1400.6 748.0,1400.6 750.0,1400.6 752.0,1400.6 754.0,1400.6 756.0,1400.6 758.0,1400.6 760.0,1400.6 762.0,1400.6 764.0,1400.6 766.0,1400.6 768.0,1400.6 770.0,1400.6 772.0,1400.5 774.0,1400.5 776.0,1400.5 778.0,1400.5 780.0,1400.4 782.0,1400.4 784.0,1400.4 786.0,1400.3 788.0,1400.3 790.0,1400.3 792.0,1400.2 794.0,1400.2 796.0,1400.1 798.0,1400.0 800.0,1400.0 802.0,1399.9 804.0,1399.9 806.0,1399.8 808.0,1399.7 810.0,1399.6 812.0,1399.5 814.0,1399.4 816.0,1399.3 818.0,1399.2 820.0,1399.1 822.0,1399.0 824.0,1398.9 826.0,1398.8 828.0,1398.6 830.0,1398.5 832.0,1398.3 834.0,1398.2 836.0,1398.0 838.0,1397.9 840.0,1397.7 842.0,1397.5 844.0,1397.3 846.0,1397.1 848.0,1396.9 850.0,1396.7 852.0,1396.5 854.0,1396.2 856.0,1396.0 858.0,1395.7 860.0,1395.5 862.0,1395.2 864.0,1394.9 866.0,1394.7 868.0,1394.4 870.0,1394.1 872.0,1393.8 874.0,1393.5 876.0,1393.1 878.0,1392.8 880.0,1392.5 882.0,1392.1 884.0,1391.8 886.0,1391.4 888.0,1391.1 890.0,1390.7 892.0,1390.3 894.0,1389.9 896.0,1389.5 898.0,1389.1 900.0,1388.7 902.0,1388.3 904.0,1387.9 906.0,1387.5 908.0,1387.1 910.0,1386.7 912.0,1386.2 914.0,1385.8 916.0,1385.4 918.0,1384.9 920.0,1384.5 922.0,1384.1 924.0,1383.7 926.0,1383.2 928.0,1382.8 930.0,1382.4 932.0,1381.9 934.0,1381.5 936.0,1381.1 938.0,1380.6 940.0,1380.2 942.0,1379.7 944.0,1379.2 946.0,1378.7 948.0,1378.2 950.0,1377.7 952.0,1377.2 954.0,1376.6 956.0,1376.1 958.0,1375.5 960.0,1374.9 962.0,1374.2 964.0,1373.6 966.0,1372.9 968.0,1372.2 970.0,1371.4 972.0,1370.7 974.0,1369.9 976.0,1369.1 978.0,1368.3 980.0,1367.4 982.0,1366.6 984.0,1365.7 986.0,1364.7 988.0,1363.8 990.0,1362.9 992.0,1361.9 994.0,1360.9 996.0,1359.8 998.0,1358.8 1000.0,1357.7 1002.0,1356.6 1004.0,1355.5 1006.0,1354.3 1008.0,1353.1 1010.0,1351.9 1012.0,1350.6 1014.0,1349.4 1016.0,1348.1 1018.0,1346.7 1020.0,1345.3 1022.0,1343.9 1024.0,1342.5 1026.0,1341.0 1028.0,1339.5 1030.0,1338.0 1032.0,1336.4 1034.0,1334.7 1036.0,1333.1 1038.0,1331.4 1040.0,1329.6 1042.0,1327.8 1044.0,1326.0 1046.0,1324.1 1048.0,1322.2 1050.0,1320.2 1052.0,1318.2 1054.0,1316.2 1056.0,1314.1 1058.0,1311.9 1060.0,1309.8 1062.0,1307.6 1064.0,1305.3 1066.0,1303.0 1068.0,1300.7 1070.0,1298.3 1072.0,1295.9 1074.0,1293.5 1076.0,1291.1 1078.0,1288.6 1080.0,1286.1 1082.0,1283.5 1084.0,1280.9 1086.0,1278.3 1088.0,1275.7 1090.0,1273.1 1092.0,1270.4 1094.0,1267.7 1096.0,1265.0 1098.0,1262.3 1100.0,1259.6 1102.0,1256.9 1104.0,1254.1 1106.0,1251.4 1108.0,1248.6 1110.0,1245.9 1112.0,1243.2 1114.0,1240.5 1116.0,1237.8 1118.0,1235.1 1120.0,1232.5 1122.0,1229.9 1124.0,1227.3 1126.0,1224.8 1128.0,1222.3 1130.0,1219.8 1132.0,1217.4 1134.0,1215.0 1136.0,1212.7 1138.0,1210.4 1140.0,1208.2 1142.0,1206.0 1144.0,1203.9 1146.0,1201.9 1148.0,1199.9 1150.0,1198.0 1152.0,1196.1 1154.0,1194.3 1156.0,1192.6 1158.0,1191.0 1160.0,1189.4 1162.0,1188.0 1164.0,1186.6 1166.0,1185.3 1168.0,1184.2 1170.0,1183.1 1172.0,1182.2 1174.0,1181.3 1176.0,1180.6 1178.0,1180.0 1180.0,1179.5 1182.0,1179.1 1184.0,1178.9 1186.0,1178.7 1188.0,1178.7 1190.0,1178.8 1192.0,1179.1 1194.0,1179.4 1196.0,1179.8 1198.0,1180.4 1200.0,1181.0 1202.0,1181.8 1204.0,1182.7 1206.0,1183.6 1208.0,1184.7 1210.0,1185.8 1212.0,1187.1 1214.0,1188.5 1216.0,1189.9 1218.0,1191.4 1220.0,1193.0 1222.0,1194.7 1224.0,1196.5 1226.0,1198.4 1228.0,1200.3 1230.0,1202.3 1232.0,1204.4 1234.0,1206.5 1236.0,1208.7 1238.0,1210.9 1240.0,1213.2 1242.0,1215.5 1244.0,1217.9 1246.0,1220.3 1248.0,1222.8 1250.0,1225.3 1252.0,1227.8 1254.0,1230.4 1256.0,1233.0 1258.0,1235.6 1260.0,1238.2 1262.0,1240.9 1264.0,1243.6 1266.0,1246.3 1268.0,1249.0 1270.0,1251.8 1272.0,1254.5 1274.0,1257.3 1276.0,1260.1 1278.0,1262.9 1280.0,1265.6 1282.0,1268.4 1284.0,1271.2 1286.0,1274.0 1288.0,1276.7 1290.0,1279.5 1292.0,1282.2 1294.0,1284.9 1296.0,1287.6 1298.0,1290.2 1300.0,1292.8 1302.0,1295.4 1304.0,1297.9 1306.0,1300.4 1308.0,1302.9 1310.0,1305.3 1312.0,1307.7 1314.0,1310.1 1316.0,1312.4 1318.0,1314.8 1320.0,1317.0 1322.0,1319.3 1324.0,1321.5 1326.0,1323.8 1328.0,1325.9 1330.0,1328.1 1332.0,1330.2 1334.0,1332.4 1336.0,1334.4 1338.0,1336.5 1340.0,1338.5 1342.0,1340.5 1344.0,1342.5 1346.0,1344.4 1348.0,1346.4 1350.0,1348.2 1352.0,1350.1 1354.0,1351.9 1356.0,1353.7 1358.0,1355.5 1360.0,1357.2 1362.0,1359.0 1364.0,1360.6 1366.0,1362.3 1368.0,1363.9 1370.0,1365.5 1372.0,1367.1 1374.0,1368.6 1376.0,1370.1 1378.0,1371.6 1380.0,1373.1 1382.0,1374.5 1384.0,1375.9 1386.0,1377.3 1388.0,1378.6 1390.0,1379.9 1392.0,1381.2 1394.0,1382.5 1396.0,1383.7 1398.0,1384.9 1400.0,1386.1 1402.0,1387.3 1404.0,1388.4 1406.0,1389.5 1408.0,1390.6 1410.0,1391.7 1412.0,1392.7 1414.0,1393.7 1416.0,1394.7 1418.0,1395.7 1420.0,1396.6 1422.0,1397.6 1424.0,1398.5 1426.0,1399.4 1428.0,1400.2 1430.0,1401.1 1432.0,1401.9 1434.0,1402.7 1436.0,1403.5 1438.0,1404.3 1440.0,1405.0 1442.0,1405.8 1444.0,1406.5 1446.0,1407.2 1448.0,1407.9 1450.0,1408.5 1452.0,1409.2 1454.0,1409.8 1456.0,1410.4 1458.0,1411.0 1460.0,1411.6 1462.0,1412.2 1464.0,1412.7 1466.0,1413.3 1468.0,1413.8 1470.0,1414.3 1472.0,1414.8 1474.0,1415.3 1476.0,1415.8 1478.0,1416.3 1480.0,1416.7 1482.0,1417.2 1484.0,1417.6 1486.0,1418.1 1488.0,1418.5 1490.0,1418.9 1492.0,1419.4 1494.0,1419.8 1496.0,1420.2 1498.0,1420.6 1500.0,1421.0 1502.0,1421.3 1504.0,1421.7 1506.0,1422.1 1508.0,1422.5 1510.0,1422.8 1512.0,1423.2 1514.0,1423.6 1516.0,1423.9 1518.0,1424.3 1520.0,1424.6 1522.0,1424.9 1524.0,1425.3 1526.0,1425.6 1528.0,1425.9 1530.0,1426.3 1532.0,1426.6 1534.0,1426.9 1536.0,1427.2 1538.0,1427.5 1540.0,1427.8 1542.0,1428.1 1544.0,1428.4 1546.0,1428.7 1548.0,1428.9 1550.0,1429.2 1552.0,1429.5 1554.0,1429.7 1556.0,1430.0 1558.0,1430.2 1560.0,1430.5 1562.0,1430.7 1564.0,1430.9 1566.0,1431.1 1568.0,1431.4 1570.0,1431.6 1572.0,1431.8 1574.0,1432.0 1576.0,1432.2 1578.0,1432.4 1580.0,1432.5 1582.0,1432.7 1584.0,1432.9 1586.0,1433.1 1588.0,1433.2 1590.0,1433.4 1592.0,1433.5 1594.0,1433.7 1596.0,1433.8 1598.0,1433.9 1600.0,1434.0 1602.0,1434.2 1604.0,1434.3 1606.0,1434.4 1608.0,1434.5 1610.0,1434.6 1612.0,1434.7 1614.0,1434.8 1616.0,1434.8 1618.0,1434.9 1620.0,1435.0 1622.0,1435.0 1624.0,1435.1 1626.0,1435.1 1628.0,1435.2 1630.0,1435.2 1632.0,1435.3 1634.0,1435.3 1636.0,1435.3 1638.0,1435.4 1640.0,1435.4 1642.0,1435.4 1644.0,1435.4 1646.0,1435.4 1648.0,1435.4 1650.0,1435.4 1652.0,1435.4 1654.0,1435.4 1656.0,1435.4 1658.0,1435.4 1660.0,1435.4 1662.0,1435.4 1664.0,1435.4 1666.0,1435.4 1668.0,1435.4 1670.0,1435.4 1672.0,1435.4 1674.0,1435.5 1676.0,1435.6 1678.0,1435.7 1680.0,1435.7 1682.0,1435.8 1684.0,1435.9 1686.0,1435.9 1688.0,1436.0 1690.0,1436.1 1692.0,1436.2 1694.0,1436.2 1696.0,1436.3 1698.0,1436.4 1700.0,1436.4 1702.0,1436.5 1704.0,1436.6 1706.0,1436.6 1708.0,1436.7 1710.0,1436.8 1712.0,1436.8 1714.0,1436.9 1716.0,1436.9 1718.0,1437.0 1720.0,1437.1 1722.0,1437.1 1724.0,1437.2 1726.0,1437.2 1728.0,1437.3 1730.0,1437.3 1732.0,1437.4 1734.0,1437.5 1736.0,1437.5 1738.0,1437.6 1740.0,1437.6 1742.0,1437.6 1744.0,1437.7 1746.0,1437.7 1748.0,1437.8 1750.0,1437.8 1752.0,1437.9 1754.0,1437.9 1756.0,1437.9 1758.0,1438.0 1760.0,1438.0 1762.0,1438.1 1764.0,1438.1 1766.0,1438.1 1768.0,1438.2 1770.0,1438.2 1772.0,1438.2 1774.0,1438.3 1776.0,1438.3 1778.0,1438.3 1780.0,1438.3 1782.0,1438.4 1784.0,1438.4 1786.0,1438.4 1788.0,1438.4 1790.0,1438.5 1792.0,1438.5 1794.0,1438.5 1796.0,1438.5 1798.0,1438.6 1800.0,1438.6 1802.0,1438.6 1804.0,1438.6 1806.0,1438.6 1808.0,1438.7 1810.0,1438.7 1812.0,1438.7 1814.0,1438.7 1816.0,1438.7 1818.0,1438.7 1820.0,1438.8 1822.0,1438.8 1824.0,1438.8 1826.0,1438.8 1828.0,1438.8 1830.0,1438.8 1832.0,1438.8 1834.0,1438.8 1836.0,1438.9 1838.0,1438.9 1840.0,1438.9 1842.0,1438.9 1844.0,1438.9 1846.0,1438.9 1848.0,1438.9 1850.0,1438.9 1852.0,1438.9 1854.0,1438.9 1856.0,1439.0 1858.0,1439.0 1860.0,1439.0 1862.0,1439.0 1864.0,1439.0 1866.0,1439.0 1868.0,1439.0 1870.0,1439.0 1872.0,1439.0 1874.0,1439.0 1876.0,1439.0 1878.0,1439.0 1880.0,1439.0 1882.0,1439.0 1884.0,1439.0 1886.0,1439.0 1888.0,1439.0 1890.0,1439.0 1892.0,1439.0 1894.0,1439.0 1896.0,1439.0 1898.0,1439.0 1900.0,1439.0 1902.0,1439.0 1904.0,1439.0 1906.0,1439.0 1908.0,1439.0 1910.0,1439.0 1912.0,1439.0 1914.0,1439.0 1916.0,1439.0 1918.0,1439.0 1920.0,1439.0 1922.0,1439.0 1924.0,1439.0 1926.0,1439.0 1928.0,1439.0 1930.0,1439.0 1932.0,1439.0 1934.0,1439.0 1936.0,1439.0 1938.0,1439.0 1940.0,1439.0 1942.0,1439.0 1944.0,1439.0 1945.0,1439.0" stroke="#008080" stroke-width="6" stroke-linecap="butt"/>
<polyline points="148.0,1392.5 150.0,1392.4 152.0,1392.4 154.0,1392.4 156.0,1392.3 158.0,1392.3 160.0,1392.3 162.0,1392.2 164.0,1392.2 166.0,1392.2 168.0,1392.1 170.0,1392.1 172.0,1392.1 174.0,1392.0 176.0,1392.0 178.0,1392.0 180.0,1391.9 182.0,1391.9 184.0,1391.9 186.0,1391.8 188.0,1391.8 190.0,1391.8 192.0,1391.8 194.0,1391.7 196.0,1391.7 198.0,1391.7 200.0,1391.6 202.0,1391.6 204.0,1391.6 206.0,1391.6 208.0,1391.5 210.0,1391.5 212.0,1391.5 214.0,1391.5 216.0,1391.4 218.0,1391.4 220.0,1391.4 222.0,1391.4 224.0,1391.4 226.0,1391.3 228.0,1391.3 230.0,1391.3 232.0,1391.3 234.0,1391.3 236.0,1391.3 238.0,1391.3 240.0,1391.2 242.0,1391.2 244.0,1391.2 246.0,1391.2 248.0,1391.2 250.0,1391.2 252.0,1391.2 254.0,1391.2 256.0,1391.2 258.0,1391.2 260.0,1391.2 262.0,1391.2 264.0,1391.1 266.0,1391.1 268.0,1391.1 270.0,1391.1 272.0,1391.1 274.0,1391.1 276.0,1391.1 278.0,1391.1 280.0,1391.1 282.0,1391.1 284.0,1391.1 286.0,1391.1 288.0,1391.1 290.0,1391.1 292.0,1391.1 294.0,1391.0 296.0,1391.0 298.0,1391.0 300.0,1391.0 302.0,1391.0 304.0,1391.0 306.0,1391.0 308.0,1391.0 310.0,1391.0 312.0,1391.0 314.0,1391.0 316.0,1391.1 318.0,1391.1 320.0,1391.1 322.0,1391.1 324.0,1391.1 326.0,1391.1 328.0,1391.1 330.0,1391.1 332.0,1391.2 334.0,1391.2 336.0,1391.2 338.0,1391.2 340.0,1391.2 342.0,1391.2 344.0,1391.3 346.0,1391.3 348.0,1391.3 350.0,1391.3 352.0,1391.3 354.0,1391.4 356.0,1391.4 358.0,1391.4 360.0,1391.4 362.0,1391.5 364.0,1391.5 366.0,1391.5 368.0,1391.5 370.0,1391.6 372.0,1391.6 374.0,1391.6 376.0,1391.7 378.0,1391.7 380.0,1391.7 382.0,1391.8 384.0,1391.8 386.0,1391.8 388.0,1391.9 390.0,1391.9 392.0,1392.0 394.0,1392.0 396.0,1392.0 398.0,1392.1 400.0,1392.1 402.0,1392.2 404.0,1392.2 406.0,1392.3 408.0,1392.3 410.0,1392.4 412.0,1392.4 414.0,1392.5 416.0,1392.5 418.0,1392.6 420.0,1392.6 422.0,1392.7 424.0,1392.7 426.0,1392.8 428.0,1392.9 430.0,1392.9 432.0,1393.0 434.0,1393.0 436.0,1393.1 438.0,1393.2 440.0,1393.2 442.0,1393.3 444.0,1393.3 446.0,1393.4 448.0,1393.5 450.0,1393.5 452.0,1393.6 454.0,1393.7 456.0,1393.8 458.0,1393.8 460.0,1393.9 462.0,1394.0 464.0,1394.1 466.0,1394.1 468.0,1394.2 470.0,1394.3 472.0,1394.4 474.0,1394.4 476.0,1394.5 478.0,1394.6 480.0,1394.7 482.0,1394.8 484.0,1394.8 486.0,1394.9 488.0,1395.0 490.0,1395.1 492.0,1395.2 494.0,1395.3 496.0,1395.4 498.0,1395.4 500.0,1395.5 502.0,1395.6 504.0,1395.7 506.0,1395.8 508.0,1395.9 510.0,1396.0 512.0,1396.1 514.0,1396.2 516.0,1396.3 518.0,1396.4 520.0,1396.4 522.0,1396.5 524.0,1396.6 526.0,1396.7 528.0,1396.8 530.0,1396.9 532.0,1397.0 534.0,1397.1 536.0,1397.2 538.0,1397.3 540.0,1397.4 542.0,1397.5 544.0,1397.6 546.0,1397.7 548.0,1397.8 550.0,1397.9 552.0,1398.0 554.0,1398.1 556.0,1398.2 558.0,1398.3 560.0,1398.4 562.0,1398.5 564.0,1398.6 566.0,1398.7 568.0,1398.8 570.0,1398.9 572.0,1399.0 574.0,1399.1 576.0,1399.2 578.0,1399.3 580.0,1399.4 582.0,1399.5 584.0,1399.6 586.0,1399.7 588.0,1399.8 590.0,1399.9 592.0,1400.0 594.0,1400.1 596.0,1400.2 598.0,1400.3 600.0,1400.4 602.0,1400.5 604.0,1400.6 606.0,1400.7 608.0,1400.8 610.0,1400.9 612.0,1400.9 614.0,1401.0 616.0,1401.1 618.0,1401.2 620.0,1401.3 622.0,1401.4 624.0,1401.5 626.0,1401.6 628.0,1401.7 630.0,1401.8 632.0,1401.9 634.0,1402.0 636.0,1402.1 638.0,1402.2 640.0,1402.3 642.0,1402.3 644.0,1402.4 646.0,1402.5 648.0,1402.6 650.0,1402.7 652.0,1402.8 654.0,1402.9 656.0,1402.9 658.0,1403.0 660.0,1403.1 662.0,1403.2 664.0,1403.3 666.0,1403.4 668.0,1403.4 670.0,1403.5 672.0,1403.6 674.0,1403.7 676.0,1403.8 678.0,1403.8 680.0,1403.9 682.0,1404.0 684.0,1404.1 686.0,1404.1 688.0,1404.2 690.0,1404.3 692.0,1404.3 694.0,1404.4 696.0,1404.5 698.0,1404.5 700.0,1404.6 702.0,1404.7 704.0,1404.7 706.0,1404.8 708.0,1404.9 710.0,1404.9 712.0,1405.0 714.0,1405.0 716.0,1405.1 718.0,1405.1 720.0,1405.2 722.0,1405.2 724.0,1405.3 726.0,1405.3 728.0,1405.4 730.0,1405.4 732.0,1405.5 734.0,1405.5 736.0,1405.6 738.0,1405.6 740.0,1405.7 742.0,1405.7 744.0,1405.7 746.0,1405.8 748.0,1405.8 750.0,1405.8 752.0,1405.9 754.0,1405.9 756.0,1405.9 758.0,1406.0 760.0,1406.0 762.0,1406.0 764.0,1406.0 766.0,1406.1 768.0,1406.1 770.0,1406.1 772.0,1406.1 774.0,1406.2 776.0,1406.2 778.0,1406.2 780.0,1406.2 782.0,1406.2 784.0,1406.2 786.0,1406.3 788.0,1406.3 790.0,1406.3 792.0,1406.3 794.0,1406.3 796.0,1406.3 798.0,1406.3 800.0,1406.3 802.0,1406.3 804.0,1406.3 806.0,1406.3 808.0,1406.4 810.0,1406.4 812.0,1406.4 814.0,1406.4 816.0,1406.4 818.0,1406.4 820.0,1406.4 822.0,1406.5 824.0,1406.5 826.0,1406.5 828.0,1406.5 830.0,1406.6 832.0,1406.6 834.0,1406.6 836.0,1406.6 838.0,1406.7 840.0,1406.7 842.0,1406.8 844.0,1406.8 846.0,1406.9 848.0,1406.9 850.0,1407.0 852.0,1407.0 854.0,1407.1 856.0,1407.2 858.0,1407.2 860.0,1407.3 862.0,1407.4 864.0,1407.5 866.0,1407.6 868.0,1407.6 870.0,1407.7 872.0,1407.8 874.0,1407.9 876.0,1408.0 878.0,1408.1 880.0,1408.1 882.0,1408.2 884.0,1408.3 886.0,1408.4 888.0,1408.4 890.0,1408.5 892.0,1408.6 894.0,1408.6 896.0,1408.7 898.0,1408.7 900.0,1408.8 902.0,1408.8 904.0,1408.9 906.0,1408.9 908.0,1408.9 910.0,1408.9 912.0,1408.9 914.0,1408.9 916.0,1408.9 918.0,1408.9 920.0,1408.9 922.0,1408.9 924.0,1408.8 926.0,1408.8 928.0,1408.7 930.0,1408.6 932.0,1408.5 934.0,1408.4 936.0,1408.3 938.0,1408.2 940.0,1408.1 942.0,1407.9 944.0,1407.7 946.0,1407.6 948.0,1407.4 950.0,1407.2 952.0,1407.0 954.0,1406.8 956.0,1406.6 958.0,1406.3 960.0,1406.1 962.0,1405.8 964.0,1405.6 966.0,1405.4 968.0,1405.1 970.0,1404.8 972.0,1404.6 974.0,1404.3 976.0,1404.1 978.0,1403.8 980.0,1403.6 982.0,1403.3 984.0,1403.0 986.0,1402.8 988.0,1402.5 990.0,1402.3 992.0,1402.1 994.0,1401.8 996.0,1401.6 998.0,1401.4 1000.0,1401.2 1002.0,1401.0 1004.0,1400.8 1006.0,1400.7 1008.0,1400.5 1010.0,1400.3 1012.0,1400.2 1014.0,1400.0 1016.0,1399.8 1018.0,1399.7 1020.0,1399.5 1022.0,1399.4 1024.0,1399.2 1026.0,1399.1 1028.0,1399.0 1030.0,1398.8 1032.0,1398.7 1034.0,1398.5 1036.0,1398.4 1038.0,1398.2 1040.0,1398.1 1042.0,1397.9 1044.0,1397.8 1046.0,1397.6 1048.0,1397.5 1050.0,1397.3 1052.0,1397.2 1054.0,1397.0 1056.0,1396.9 1058.0,1396.7 1060.0,1396.6 1062.0,1396.5 1064.0,1396.3 1066.0,1396.2 1068.0,1396.0 1070.0,1395.9 1072.0,1395.8 1074.0,1395.6 1076.0,1395.4 1078.0,1395.3 1080.0,1395.1 1082.0,1394.9 1084.0,1394.8 1086.0,1394.6 1088.0,1394.4 1090.0,1394.1 1092.0,1393.9 1094.0,1393.7 1096.0,1393.4 1098.0,1393.2 1100.0,1392.9 1102.0,1392.6 1104.0,1392.3 1106.0,1391.9 1108.0,1391.6 1110.0,1391.2 1112.0,1390.9 1114.0,1390.5 1116.0,1390.1 1118.0,1389.7 1120.0,1389.3 1122.0,1388.8 1124.0,1388.4 1126.0,1387.9 1128.0,1387.5 1130.0,1387.0 1132.0,1386.5 1134.0,1386.0 1136.0,1385.5 1138.0,1385.0 1140.0,1384.5 1142.0,1384.0 1144.0,1383.4 1146.0,1382.9 1148.0,1382.4 1150.0,1381.8 1152.0,1381.3 1154.0,1380.7 1156.0,1380.1 1158.0,1379.5 1160.0,1379.0 1162.0,1378.4 1164.0,1377.8 1166.0,1377.2 1168.0,1376.5 1170.0,1375.9 1172.0,1375.3 1174.0,1374.6 1176.0,1374.0 1178.0,1373.3 1180.0,1372.6 1182.0,1372.0 1184.0,1371.3 1186.0,1370.5 1188.0,1369.8 1190.0,1369.1 1192.0,1368.3 1194.0,1367.6 1196.0,1366.8 1198.0,1366.0 1200.0,1365.2 1202.0,1364.4 1204.0,1363.5 1206.0,1362.7 1208.0,1361.8 1210.0,1360.9 1212.0,1360.1 1214.0,1359.2 1216.0,1358.2 1218.0,1357.3 1220.0,1356.3 1222.0,1355.4 1224.0,1354.4 1226.0,1353.4 1228.0,1352.4 1230.0,1351.3 1232.0,1350.3 1234.0,1349.2 1236.0,1348.1 1238.0,1347.0 1240.0,1345.9 1242.0,1344.7 1244.0,1343.5 1246.0,1342.3 1248.0,1341.1 1250.0,1339.9 1252.0,1338.6 1254.0,1337.3 1256.0,1336.0 1258.0,1334.6 1260.0,1333.2 1262.0,1331.8 1264.0,1330.4 1266.0,1328.9 1268.0,1327.4 1270.0,1325.9 1272.0,1324.4 1274.0,1322.8 1276.0,1321.2 1278.0,1319.5 1280.0,1317.9 1282.0,1316.2 1284.0,1314.5 1286.0,1312.8 1288.0,1311.1 1290.0,1309.3 1292.0,1307.6 1294.0,1305.8 1296.0,1304.0 1298.0,1302.3 1300.0,1300.5 1302.0,1298.7 1304.0,1296.9 1306.0,1295.1 1308.0,1293.3 1310.0,1291.6 1312.0,1289.8 1314.0,1288.1 1316.0,1286.4 1318.0,1284.7 1320.0,1283.0 1322.0,1281.4 1324.0,1279.8 1326.0,1278.2 1328.0,1276.7 1330.0,1275.2 1332.0,1273.8 1334.0,1272.4 1336.0,1271.1 1338.0,1269.8 1340.0,1268.6 1342.0,1267.4 1344.0,1266.3 1346.0,1265.2 1348.0,1264.2 1350.0,1263.3 1352.0,1262.4 1354.0,1261.6 1356.0,1260.9 1358.0,1260.2 1360.0,1259.6 1362.0,1259.0 1364.0,1258.5 1366.0,1258.1 1368.0,1257.7 1370.0,1257.4 1372.0,1257.2 1374.0,1257.0 1376.0,1256.9 1378.0,1256.9 1380.0,1256.9 1382.0,1257.0 1384.0,1257.1 1386.0,1257.3 1388.0,1257.6 1390.0,1257.9 1392.0,1258.3 1394.0,1258.8 1396.0,1259.4 1398.0,1260.1 1400.0,1260.9 1402.0,1261.7 1404.0,1262.6 1406.0,1263.6 1408.0,1264.6 1410.0,1265.8 1412.0,1266.9 1414.0,1268.2 1416.0,1269.5 1418.0,1270.9 1420.0,1272.4 1422.0,1273.9 1424.0,1275.4 1426.0,1277.0 1428.0,1278.7 1430.0,1280.4 1432.0,1282.1 1434.0,1283.9 1436.0,1285.7 1438.0,1287.5 1440.0,1289.4 1442.0,1291.3 1444.0,1293.2 1446.0,1295.1 1448.0,1297.1 1450.0,1299.0 1452.0,1301.0 1454.0,1302.9 1456.0,1304.9 1458.0,1306.9 1460.0,1308.9 1462.0,1310.9 1464.0,1312.9 1466.0,1314.9 1468.0,1316.9 1470.0,1318.9 1472.0,1320.8 1474.0,1322.8 1476.0,1324.8 1478.0,1326.7 1480.0,1328.7 1482.0,1330.6 1484.0,1332.6 1486.0,1334.5 1488.0,1336.4 1490.0,1338.3 1492.0,1340.2 1494.0,1342.0 1496.0,1343.9 1498.0,1345.7 1500.0,1347.5 1502.0,1349.3 1504.0,1351.0 1506.0,1352.8 1508.0,1354.5 1510.0,1356.2 1512.0,1357.8 1514.0,1359.5 1516.0,1361.1 1518.0,1362.7 1520.0,1364.3 1522.0,1365.8 1524.0,1367.3 1526.0,1368.8 1528.0,1370.3 1530.0,1371.7 1532.0,1373.1 1534.0,1374.5 1536.0,1375.9 1538.0,1377.2 1540.0,1378.5 1542.0,1379.8 1544.0,1381.1 1546.0,1382.3 1548.0,1383.5 1550.0,1384.7 1552.0,1385.8 1554.0,1387.0 1556.0,1388.1 1558.0,1389.1 1560.0,1390.2 1562.0,1391.2 1564.0,1392.2 1566.0,1393.2 1568.0,1394.2 1570.0,1395.1 1572.0,1396.1 1574.0,1396.9 1576.0,1397.8 1578.0,1398.7 1580.0,1399.5 1582.0,1400.3 1584.0,1401.1 1586.0,1401.9 1588.0,1402.6 1590.0,1403.4 1592.0,1404.1 1594.0,1404.8 1596.0,1405.5 1598.0,1406.1 1600.0,1406.8 1602.0,1407.4 1604.0,1408.1 1606.0,1408.7 1608.0,1409.3 1610.0,1409.8 1612.0,1410.4 1614.0,1411.0 1616.0,1411.5 1618.0,1412.1 1620.0,1412.6 1622.0,1413.1 1624.0,1413.6 1626.0,1414.1 1628.0,1414.6 1630.0,1415.1 1632.0,1415.6 1634.0,1416.0 1636.0,1416.5 1638.0,1417.0 1640.0,1417.4 1642.0,1417.9 1644.0,1418.3 1646.0,1418.7 1648.0,1419.2 1650.0,1419.6 1652.0,1420.0 1654.0,1420.4 1656.0,1420.8 1658.0,1421.2 1660.0,1421.6 1662.0,1422.0 1664.0,1422.4 1666.0,1422.7 1668.0,1423.1 1670.0,1423.4 1672.0,1423.7 1674.0,1424.1 1676.0,1424.4 1678.0,1424.7 1680.0,1425.0 1682.0,1425.2 1684.0,1425.5 1686.0,1425.8 1688.0,1426.0 1690.0,1426.3 1692.0,1426.5 1694.0,1426.8 1696.0,1427.0 1698.0,1427.2 1700.0,1427.5 1702.0,1427.7 1704.0,1427.9 1706.0,1428.1 1708.0,1428.3 1710.0,1428.5 1712.0,1428.6 1714.0,1428.8 1716.0,1429.0 1718.0,1429.2 1720.0,1429.3 1722.0,1429.5 1724.0,1429.7 1726.0,1429.8 1728.0,1430.0 1730.0,1430.1 1732.0,1430.3 1734.0,1430.4 1736.0,1430.5 1738.0,1430.7 1740.0,1430.8 1742.0,1430.9 1744.0,1431.1 1746.0,1431.2 1748.0,1431.3 1750.0,1431.4 1752.0,1431.5 1754.0,1431.7 1756.0,1431.8 1758.0,1431.9 1760.0,1432.0 1762.0,1432.1 1764.0,1432.2 1766.0,1432.3 1768.0,1432.4 1770.0,1432.5 1772.0,1432.6 1774.0,1432.7 1776.0,1432.8 1778.0,1432.8 1780.0,1432.9 1782.0,1433.0 1784.0,1433.1 1786.0,1433.2 1788.0,1433.3 1790.0,1433.3 1792.0,1433.4 1794.0,1433.5 1796.0,1433.5 1798.0,1433.6 1800.0,1433.7 1802.0,1433.7 1804.0,1433.8 1806.0,1433.9 1808.0,1433.9 1810.0,1434.0 1812.0,1434.0 1814.0,1434.1 1816.0,1434.1 1818.0,1434.2 1820.0,1434.3 1822.0,1434.3 1824.0,1434.3 1826.0,1434.4 1828.0,1434.4 1830.0,1434.5 1832.0,1434.5 1834.0,1434.6 1836.0,1434.6 1838.0,1434.6 1840.0,1434.7 1842.0,1434.7 1844.0,1434.7 1846.0,1434.8 1848.0,1434.8 1850.0,1434.8 1852.0,1434.9 1854.0,1434.9 1856.0,1434.9 1858.0,1435.0 1860.0,1435.0 1862.0,1435.0 1864.0,1435.0 1866.0,1435.0 1868.0,1435.1 1870.0,1435.1 1872.0,1435.1 1874.0,1435.1 1876.0,1435.1 1878.0,1435.2 1880.0,1435.2 1882.0,1435.2 1884.0,1435.2 1886.0,1435.2 1888.0,1435.2 1890.0,1435.2 1892.0,1435.2 1894.0,1435.3 1896.0,1435.3 1898.0,1435.3 1900.0,1435.3 1902.0,1435.3 1904.0,1435.3 1906.0,1435.3 1908.0,1435.3 1910.0,1435.3 1912.0,1435.3 1914.0,1435.3 1916.0,1435.3 1918.0,1435.3 1920.0,1435.3 1922.0,1435.3 1924.0,1435.3 1926.0,1435.3 1928.0,1435.3 1930.0,1435.3 1932.0,1435.3 1934.0,1435.3 1936.0,1435.3 1938.0,1435.3 1940.0,1435.3 1942.0,1435.3 1944.0,1435.3 1945.0,1435.3" stroke="#FF00FF" stroke-width="6" stroke-linecap="butt"/>
<polyline points="148.0,1389.4 150.0,1389.4 152.0,1389.4 154.0,1389.4 156.0,1389.4 158.0,1389.4 160.0,1389.4 162.0,1389.4 164.0,1389.4 166.0,1389.4 168.0,1389.4 170.0,1389.4 172.0,1389.5 174.0,1389.5 176.0,1389.5 178.0,1389.5 180.0,1389.5 182.0,1389.5 184.0,1389.5 186.0,1389.5 188.0,1389.5 190.0,1389.5 192.0,1389.5 194.0,1389.5 196.0,1389.5 198.0,1389.5 200.0,1389.5 202.0,1389.5 204.0,1389.5 206.0,1389.5 208.0,1389.5 210.0,1389.5 212.0,1389.5 214.0,1389.5 216.0,1389.5 218.0,1389.5 220.0,1389.5 222.0,1389.5 224.0,1389.5 226.0,1389.5 228.0,1389.5 230.0,1389.5 232.0,1389.5 234.0,1389.5 236.0,1389.5 238.0,1389.5 240.0,1389.5 242.0,1389.5 244.0,1389.5 246.0,1389.4 248.0,1389.4 250.0,1389.4 252.0,1389.4 254.0,1389.4 256.0,1389.4 258.0,1389.4 260.0,1389.4 262.0,1389.4 264.0,1389.4 266.0,1389.4 268.0,1389.4 270.0,1389.4 272.0,1389.3 274.0,1389.3 276.0,1389.3 278.0,1389.3 280.0,1389.3 282.0,1389.3 284.0,1389.2 286.0,1389.2 288.0,1389.2 290.0,1389.2 292.0,1389.1 294.0,1389.1 296.0,1389.1 298.0,1389.1 300.0,1389.0 302.0,1389.0 304.0,1388.9 306.0,1388.9 308.0,1388.9 310.0,1388.8 312.0,1388.8 314.0,1388.7 316.0,1388.6 318.0,1388.6 320.0,1388.5 322.0,1388.5 324.0,1388.4 326.0,1388.3 328.0,1388.3 330.0,1388.2 332.0,1388.1 334.0,1388.1 336.0,1388.0 338.0,1387.9 340.0,1387.8 342.0,1387.7 344.0,1387.7 346.0,1387.6 348.0,1387.5 350.0,1387.4 352.0,1387.3 354.0,1387.2 356.0,1387.1 358.0,1387.0 360.0,1386.9 362.0,1386.8 364.0,1386.7 366.0,1386.7 368.0,1386.6 370.0,1386.5 372.0,1386.4 374.0,1386.3 376.0,1386.1 378.0,1386.0 380.0,1385.9 382.0,1385.8 384.0,1385.7 386.0,1385.6 388.0,1385.5 390.0,1385.4 392.0,1385.3 394.0,1385.2 396.0,1385.1 398.0,1385.0 400.0,1384.9 402.0,1384.7 404.0,1384.6 406.0,1384.5 408.0,1384.4 410.0,1384.3 412.0,1384.2 414.0,1384.0 416.0,1383.9 418.0,1383.8 420.0,1383.7 422.0,1383.6 424.0,1383.4 426.0,1383.3 428.0,1383.2 430.0,1383.0 432.0,1382.9 434.0,1382.8 436.0,1382.6 438.0,1382.5 440.0,1382.4 442.0,1382.2 444.0,1382.1 446.0,1381.9 448.0,1381.8 450.0,1381.6 452.0,1381.5 454.0,1381.3 456.0,1381.2 458.0,1381.0 460.0,1380.8 462.0,1380.7 464.0,1380.5 466.0,1380.3 468.0,1380.1 470.0,1380.0 472.0,1379.8 474.0,1379.6 476.0,1379.4 478.0,1379.1 480.0,1378.9 482.0,1378.7 484.0,1378.5 486.0,1378.2 488.0,1378.0 490.0,1377.8 492.0,1377.5 494.0,1377.2 496.0,1377.0 498.0,1376.7 500.0,1376.4 502.0,1376.1 504.0,1375.8 506.0,1375.5 508.0,1375.1 510.0,1374.8 512.0,1374.4 514.0,1374.1 516.0,1373.7 518.0,1373.3 520.0,1372.9 522.0,1372.5 524.0,1372.1 526.0,1371.6 528.0,1371.1 530.0,1370.7 532.0,1370.2 534.0,1369.7 536.0,1369.1 538.0,1368.6 540.0,1368.0 542.0,1367.4 544.0,1366.8 546.0,1366.2 548.0,1365.5 550.0,1364.9 552.0,1364.2 554.0,1363.5 556.0,1362.7 558.0,1362.0 560.0,1361.2 562.0,1360.4 564.0,1359.6 566.0,1358.8 568.0,1358.0 570.0,1357.1 572.0,1356.2 574.0,1355.3 576.0,1354.4 578.0,1353.5 580.0,1352.5 582.0,1351.6 584.0,1350.6 586.0,1349.6 588.0,1348.6 590.0,1347.6 592.0,1346.6 594.0,1345.5 596.0,1344.5 598.0,1343.4 600.0,1342.4 602.0,1341.3 604.0,1340.2 606.0,1339.1 608.0,1338.0 610.0,1337.0 612.0,1335.9 614.0,1334.8 616.0,1333.7 618.0,1332.6 620.0,1331.5 622.0,1330.4 624.0,1329.3 626.0,1328.2 628.0,1327.1 630.0,1326.0 632.0,1324.9 634.0,1323.8 636.0,1322.8 638.0,1321.7 640.0,1320.7 642.0,1319.6 644.0,1318.6 646.0,1317.6 648.0,1316.6 650.0,1315.6 652.0,1314.7 654.0,1313.7 656.0,1312.8 658.0,1312.0 660.0,1311.1 662.0,1310.3 664.0,1309.5 666.0,1308.7 668.0,1308.0 670.0,1307.3 672.0,1306.6 674.0,1306.0 676.0,1305.4 678.0,1304.8 680.0,1304.3 682.0,1303.9 684.0,1303.5 686.0,1303.1 688.0,1302.8 690.0,1302.6 692.0,1302.4 694.0,1302.2 696.0,1302.1 698.0,1302.1 700.0,1302.1 702.0,1302.1 704.0,1302.3 706.0,1302.5 708.0,1302.8 710.0,1303.1 712.0,1303.5 714.0,1304.0 716.0,1304.5 718.0,1305.0 720.0,1305.7 722.0,1306.4 724.0,1307.1 726.0,1307.9 728.0,1308.7 730.0,1309.6 732.0,1310.6 734.0,1311.5 736.0,1312.6 738.0,1313.6 740.0,1314.7 742.0,1315.8 744.0,1317.0 746.0,1318.2 748.0,1319.4 750.0,1320.6 752.0,1321.9 754.0,1323.2 756.0,1324.5 758.0,1325.8 760.0,1327.1 762.0,1328.4 764.0,1329.7 766.0,1331.1 768.0,1332.4 770.0,1333.7 772.0,1335.1 774.0,1336.4 776.0,1337.7 778.0,1339.1 780.0,1340.4 782.0,1341.7 784.0,1343.0 786.0,1344.3 788.0,1345.5 790.0,1346.8 792.0,1348.0 794.0,1349.3 796.0,1350.5 798.0,1351.7 800.0,1352.9 802.0,1354.1 804.0,1355.2 806.0,1356.4 808.0,1357.5 810.0,1358.6 812.0,1359.7 814.0,1360.8 816.0,1361.8 818.0,1362.9 820.0,1363.9 822.0,1364.9 824.0,1365.9 826.0,1366.9 828.0,1367.9 830.0,1368.8 832.0,1369.8 834.0,1370.7 836.0,1371.6 838.0,1372.5 840.0,1373.4 842.0,1374.2 844.0,1375.0 846.0,1375.8 848.0,1376.6 850.0,1377.4 852.0,1378.2 854.0,1378.9 856.0,1379.6 858.0,1380.3 860.0,1381.0 862.0,1381.7 864.0,1382.3 866.0,1383.0 868.0,1383.6 870.0,1384.2 872.0,1384.8 874.0,1385.4 876.0,1386.0 878.0,1386.5 880.0,1387.1 882.0,1387.6 884.0,1388.1 886.0,1388.6 888.0,1389.1 890.0,1389.6 892.0,1390.1 894.0,1390.6 896.0,1391.1 898.0,1391.5 900.0,1391.9 902.0,1392.4 904.0,1392.8 906.0,1393.2 908.0,1393.6 910.0,1393.9 912.0,1394.3 914.0,1394.7 916.0,1395.0 918.0,1395.3 920.0,1395.6 922.0,1395.9 924.0,1396.2 926.0,1396.5 928.0,1396.8 930.0,1397.0 932.0,1397.3 934.0,1397.5 936.0,1397.7 938.0,1397.9 940.0,1398.2 942.0,1398.4 944.0,1398.6 946.0,1398.8 948.0,1399.0 950.0,1399.1 952.0,1399.3 954.0,1399.5 956.0,1399.7 958.0,1399.8 960.0,1400.0 962.0,1400.1 964.0,1400.3 966.0,1400.4 968.0,1400.6 970.0,1400.7 972.0,1400.9 974.0,1401.0 976.0,1401.2 978.0,1401.3 980.0,1401.5 982.0,1401.6 984.0,1401.7 986.0,1401.9 988.0,1402.0 990.0,1402.2 992.0,1402.3 994.0,1402.4 996.0,1402.6 998.0,1402.7 1000.0,1402.8 1002.0,1403.0 1004.0,1403.1 1006.0,1403.2 1008.0,1403.4 1010.0,1403.5 1012.0,1403.6 1014.0,1403.8 1016.0,1403.9 1018.0,1404.0 1020.0,1404.1 1022.0,1404.3 1024.0,1404.4 1026.0,1404.5 1028.0,1404.6 1030.0,1404.8 1032.0,1404.9 1034.0,1405.0 1036.0,1405.1 1038.0,1405.2 1040.0,1405.4 1042.0,1405.5 1044.0,1405.6 1046.0,1405.7 1048.0,1405.8 1050.0,1405.9 1052.0,1406.0 1054.0,1406.1 1056.0,1406.3 1058.0,1406.4 1060.0,1406.5 1062.0,1406.6 1064.0,1406.7 1066.0,1406.8 1068.0,1406.9 1070.0,1407.0 1072.0,1407.1 1074.0,1407.2 1076.0,1407.3 1078.0,1407.4 1080.0,1407.5 1082.0,1407.6 1084.0,1407.8 1086.0,1407.9 1088.0,1408.0 1090.0,1408.1 1092.0,1408.2 1094.0,1408.3 1096.0,1408.4 1098.0,1408.5 1100.0,1408.6 1102.0,1408.7 1104.0,1408.8 1106.0,1408.9 1108.0,1409.0 1110.0,1409.1 1112.0,1409.3 1114.0,1409.4 1116.0,1409.5 1118.0,1409.6 1120.0,1409.7 1122.0,1409.8 1124.0,1409.9 1126.0,1410.0 1128.0,1410.2 1130.0,1410.3 1132.0,1410.4 1134.0,1410.5 1136.0,1410.6 1138.0,1410.7 1140.0,1410.8 1142.0,1411.0 1144.0,1411.1 1146.0,1411.2 1148.0,1411.3 1150.0,1411.4 1152.0,1411.6 1154.0,1411.7 1156.0,1411.8 1158.0,1411.9 1160.0,1412.0 1162.0,1412.2 1164.0,1412.3 1166.0,1412.4 1168.0,1412.5 1170.0,1412.7 1172.0,1412.8 1174.0,1412.9 1176.0,1413.0 1178.0,1413.2 1180.0,1413.3 1182.0,1413.4 1184.0,1413.6 1186.0,1413.7 1188.0,1413.8 1190.0,1414.0 1192.0,1414.1 1194.0,1414.2 1196.0,1414.4 1198.0,1414.5 1200.0,1414.7 1202.0,1414.8 1204.0,1414.9 1206.0,1415.1 1208.0,1415.2 1210.0,1415.4 1212.0,1415.5 1214.0,1415.7 1216.0,1415.8 1218.0,1415.9 1220.0,1416.1 1222.0,1416.2 1224.0,1416.4 1226.0,1416.5 1228.0,1416.7 1230.0,1416.9 1232.0,1417.0 1234.0,1417.2 1236.0,1417.3 1238.0,1417.5 1240.0,1417.6 1242.0,1417.8 1244.0,1418.0 1246.0,1418.1 1248.0,1418.3 1250.0,1418.4 1252.0,1418.6 1254.0,1418.8 1256.0,1418.9 1258.0,1419.1 1260.0,1419.3 1262.0,1419.4 1264.0,1419.6 1266.0,1419.8 1268.0,1420.0 1270.0,1420.1 1272.0,1420.3 1274.0,1420.5 1276.0,1420.7 1278.0,1420.8 1280.0,1421.0 1282.0,1421.2 1284.0,1421.4 1286.0,1421.5 1288.0,1421.7 1290.0,1421.9 1292.0,1422.1 1294.0,1422.3 1296.0,1422.4 1298.0,1422.6 1300.0,1422.8 1302.0,1423.0 1304.0,1423.2 1306.0,1423.4 1308.0,1423.5 1310.0,1423.7 1312.0,1423.9 1314.0,1424.1 1316.0,1424.3 1318.0,1424.5 1320.0,1424.6 1322.0,1424.8 1324.0,1425.0 1326.0,1425.2 1328.0,1425.4 1330.0,1425.5 1332.0,1425.7 1334.0,1425.9 1336.0,1426.1 1338.0,1426.3 1340.0,1426.5 1342.0,1426.6 1344.0,1426.8 1346.0,1427.0 1348.0,1427.2 1350.0,1427.3 1352.0,1427.5 1354.0,1427.7 1356.0,1427.9 1358.0,1428.1 1360.0,1428.2 1362.0,1428.4 1364.0,1428.6 1366.0,1428.7 1368.0,1428.9 1370.0,1429.1 1372.0,1429.3 1374.0,1429.4 1376.0,1429.6 1378.0,1429.8 1380.0,1429.9 1382.0,1430.1 1384.0,1430.3 1386.0,1430.4 1388.0,1430.6 1390.0,1430.7 1392.0,1430.9 1394.0,1431.1 1396.0,1431.2 1398.0,1431.4 1400.0,1431.5 1402.0,1431.7 1404.0,1431.8 1406.0,1432.0 1408.0,1432.1 1410.0,1432.3 1412.0,1432.4 1414.0,1432.6 1416.0,1432.7 1418.0,1432.8 1420.0,1433.0 1422.0,1433.1 1424.0,1433.2 1426.0,1433.4 1428.0,1433.5 1430.0,1433.6 1432.0,1433.7 1434.0,1433.9 1436.0,1434.0 1438.0,1434.1 1440.0,1434.2 1442.0,1434.3 1444.0,1434.5 1446.0,1434.6 1448.0,1434.7 1450.0,1434.8 1452.0,1434.9 1454.0,1435.0 1456.0,1435.1 1458.0,1435.2 1460.0,1435.3 1462.0,1435.4 1464.0,1435.5 1466.0,1435.6 1468.0,1435.6 1470.0,1435.7 1472.0,1435.8 1474.0,1435.9 1476.0,1436.0 1478.0,1436.1 1480.0,1436.1 1482.0,1436.2 1484.0,1436.3 1486.0,1436.3 1488.0,1436.4 1490.0,1436.5 1492.0,1436.5 1494.0,1436.6 1496.0,1436.7 1498.0,1436.7 1500.0,1436.8 1502.0,1436.9 1504.0,1436.9 1506.0,1437.0 1508.0,1437.0 1510.0,1437.1 1512.0,1437.1 1514.0,1437.2 1516.0,1437.2 1518.0,1437.3 1520.0,1437.3 1522.0,1437.4 1524.0,1437.4 1526.0,1437.5 1528.0,1437.5 1530.0,1437.6 1532.0,1437.6 1534.0,1437.6 1536.0,1437.7 1538.0,1437.7 1540.0,1437.8 1542.0,1437.8 1544.0,1437.8 1546.0,1437.9 1548.0,1437.9 1550.0,1438.0 1552.0,1438.0 1554.0,1438.0 1556.0,1438.1 1558.0,1438.1 1560.0,1438.1 1562.0,1438.2 1564.0,1438.2 1566.0,1438.2 1568.0,1438.3 1570.0,1438.3 1572.0,1438.3 1574.0,1438.4 1576.0,1438.4 1578.0,1438.4 1580.0,1438.5 1582.0,1438.5 1584.0,1438.5 1586.0,1438.6 1588.0,1438.6 1590.0,1438.6 1592.0,1438.7 1594.0,1438.7 1596.0,1438.7 1598.0,1438.8 1600.0,1438.8 1602.0,1438.8 1604.0,1438.9 1606.0,1438.9 1608.0,1438.9 1610.0,1439.0 1612.0,1439.0 1614.0,1439.0 1616.0,1439.0 1618.0,1439.1 1620.0,1439.1 1622.0,1439.1 1624.0,1439.2 1626.0,1439.2 1628.0,1439.2 1630.0,1439.2 1632.0,1439.3 1634.0,1439.3 1636.0,1439.3 1638.0,1439.3 1640.0,1439.4 1642.0,1439.4 1644.0,1439.4 1646.0,1439.4 1648.0,1439.5 1650.0,1439.5 1652.0,1439.5 1654.0,1439.5 1656.0,1439.6 1658.0,1439.6 1660.0,1439.6 1662.0,1439.6 1664.0,1439.6 1666.0,1439.7 1668.0,1439.7 1670.0,1439.7 1672.0,1439.7 1674.0,1439.7 1676.0,1439.8 1678.0,1439.8 1680.0,1439.8 1682.0,1439.8 1684.0,1439.8 1686.0,1439.8 1688.0,1439.9 1690.0,1439.9 1692.0,1439.9 1694.0,1439.9 1696.0,1439.9 1698.0,1439.9 1700.0,1440.0 1702.0,1440.0 1704.0,1440.0 1706.0,1440.0 1708.0,1440.0 1710.0,1440.0 1712.0,1440.0 1714.0,1440.0 1716.0,1440.1 1718.0,1440.1 1720.0,1440.1 1722.0,1440.1 1724.0,1440.1 1726.0,1440.1 1728.0,1440.1 1730.0,1440.1 1732.0,1440.2 1734.0,1440.2 1736.0,1440.2 1738.0,1440.2 1740.0,1440.2 1742.0,1440.2 1744.0,1440.2 1746.0,1440.2 1748.0,1440.2 1750.0,1440.2 1752.0,1440.2 1754.0,1440.3 1756.0,1440.3 1758.0,1440.3 1760.0,1440.3 1762.0,1440.3 1764.0,1440.3 1766.0,1440.3 1768.0,1440.3 1770.0,1440.3 1772.0,1440.3 1774.0,1440.3 1776.0,1440.3 1778.0,1440.3 1780.0,1440.3 1782.0,1440.3 1784.0,1440.3 1786.0,1440.4 1788.0,1440.4 1790.0,1440.4 1792.0,1440.4 1794.0,1440.4 1796.0,1440.4 1798.0,1440.4 1800.0,1440.4 1802.0,1440.4 1804.0,1440.4 1806.0,1440.4 1808.0,1440.4 1810.0,1440.4 1812.0,1440.4 1814.0,1440.4 1816.0,1440.4 1818.0,1440.4 1820.0,1440.4 1822.0,1440.4 1824.0,1440.4 1826.0,1440.4 1828.0,1440.4 1830.0,1440.4 1832.0,1440.4 1834.0,1440.4 1836.0,1440.4 1838.0,1440.4 1840.0,1440.4 1842.0,1440.4 1844.0,1440.4 1846.0,1440.4 1848.0,1440.4 1850.0,1440.4 1852.0,1440.4 1854.0,1440.4 1856.0,1440.4 1858.0,1440.4 1860.0,1440.4 1862.0,1440.4 1864.0,1440.4 1866.0,1440.4 1868.0,1440.4 1870.0,1440.4 1872.0,1440.4 1874.0,1440.4 1876.0,1440.4 1878.0,1440.4 1880.0,1440.4 1882.0,1440.4 1884.0,1440.4 1886.0,1440.4 1888.0,1440.4 1890.0,1440.4 1892.0,1440.4 1894.0,1440.4 1896.0,1440.4 1898.0,1440.4 1900.0,1440.4 1902.0,1440.4 1904.0,1440.4 1906.0,1440.4 1908.0,1440.4 1910.0,1440.4 1912.0,1440.4 1914.0,1440.4 1916.0,1440.3 1918.0,1440.3 1920.0,1440.3 1922.0,1440.3 1924.0,1440.3 1926.0,1440.3 1928.0,1440.3 1930.0,1440.3 1932.0,1440.3 1934.0,1440.3 1936.0,1440.3 1938.0,1440.3 1940.0,1440.3 1942.0,1440.3 1944.0,1440.3 1945.0,1440.3" stroke="#0000FF" stroke-width="6" stroke-linecap="butt"/>
</g>
<g stroke="#000" stroke-width="6" stroke-linecap="round">
<line x1="1945" y1="1467" x2="1945" y2="1495"/><line x1="1817" y1="1467" x2="1817" y2="1481"/><line x1="1688" y1="1467" x2="1688" y2="1495"/><line x1="1560" y1="1467" x2="1560" y2="1481"/><line x1="1432" y1="1467" x2="1432" y2="1495"/><line x1="1303" y1="1467" x2="1303" y2="1481"/><line x1="1175" y1="1467" x2="1175" y2="1495"/><line x1="1046" y1="1467" x2="1046" y2="1481"/><line x1="918" y1="1467" x2="918" y2="1495"/><line x1="790" y1="1467" x2="790" y2="1481"/><line x1="661" y1="1467" x2="661" y2="1495"/><line x1="533" y1="1467" x2="533" y2="1481"/><line x1="405" y1="1467" x2="405" y2="1495"/><line x1="276" y1="1467" x2="276" y2="1481"/><line x1="148" y1="1467" x2="148" y2="1495"/>
</g>
<g fill="#000" shape-rendering="crispEdges">
<rect x="145" y="27" width="1803" height="7"/>
<rect x="145" y="1464" width="1803" height="6"/>
<rect x="145" y="27" width="6" height="1443"/>
<rect x="1942" y="27" width="6" height="1443"/>
</g>
<g filter="url(#bin)">
<g font-size="82.4">
<text transform="translate(1945.0,1576.5) scale(0.99,1)" text-anchor="middle">332</text><text transform="translate(1688.3,1576.5) scale(0.99,1)" text-anchor="middle">334</text><text transform="translate(1431.6,1576.5) scale(0.99,1)" text-anchor="middle">336</text><text transform="translate(1174.9,1576.5) scale(0.99,1)" text-anchor="middle">338</text><text transform="translate(918.1,1576.5) scale(0.99,1)" text-anchor="middle">340</text><text transform="translate(661.4,1576.5) scale(0.99,1)" text-anchor="middle">342</text><text transform="translate(404.7,1576.5) scale(0.99,1)" text-anchor="middle">344</text><text transform="translate(148.0,1576.5) scale(0.99,1)" text-anchor="middle">346</text>
</g>
<text transform="translate(167.45,133.90) scale(1.0011,1)" font-size="78.31">Pd-diimine@SBA-15 after used 4 times</text>
<text transform="translate(176.34,960.90) scale(1.0005,1)" font-size="78.62">Pd-diimine@SBA-15 fresh</text>
<text transform="translate(1645.07,147.00) scale(0.9764,1)" font-size="100.15">Pd 3d</text>
<text transform="translate(645.89,1690.00) scale(0.9667,1)" font-size="100.31">Binding energy (eV)</text>
<text transform="translate(92.00,949.90) rotate(-90) scale(0.9745,1)" font-size="100.15">Intensity (a.u.)</text>
<text transform="translate(1428.47,207.20) scale(0.9529,1)" font-size="69.85">335.4</text>
<text transform="translate(755.27,319.53) scale(0.9602,1)" font-size="73.43">340.7</text>
<text transform="translate(467.43,553.43) scale(0.9826,1)" font-size="68.51">343.0</text>
<text transform="translate(1128.69,546.52) scale(0.9629,1)" font-size="68.81">337.8</text>
<text transform="translate(1111.58,1101.52) scale(0.9642,1)" font-size="68.81">337.8</text>
<text transform="translate(465.44,1187.42) scale(0.9770,1)" font-size="68.81">343.0</text>
<text transform="translate(650.58,1230.01) scale(0.9672,1)" font-size="68.66">341.7</text>
<text transform="translate(1337.74,1177.52) scale(0.9453,1)" font-size="68.96">336.5</text>
<text transform="translate(446.26,342.01) scale(1.0449,1)" font-size="94.37" font-weight="bold">3d</text>
<text transform="translate(550.85,380.88) scale(0.9488,1)" font-size="61.82" font-weight="bold">5/2</text>
<text transform="translate(1201.14,346.72) scale(1.0543,1)" font-size="93.80" font-weight="bold">3d</text>
<text transform="translate(1304.62,383.80) scale(0.9941,1)" font-size="59.85" font-weight="bold">3/2</text>
</g>
</svg>
</body></html>
